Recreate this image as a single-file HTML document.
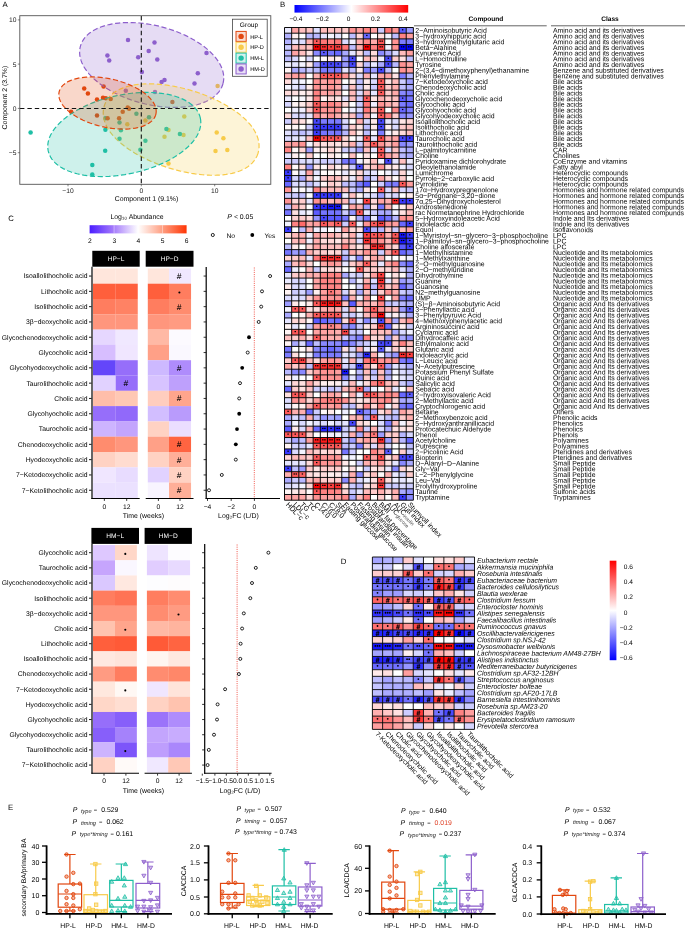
<!DOCTYPE html>
<html><head><meta charset="utf-8"><title>Figure</title><style>html,body{margin:0;padding:0;background:#fff}svg{display:block;will-change:transform}</style></head><body>
<svg width="685" height="928" viewBox="0 0 685 928" font-family="'Liberation Sans', sans-serif" text-rendering="geometricPrecision">
<rect width="685" height="928" fill="#fff"/>
<defs>
<linearGradient id="gB" x1="0" x2="1" y1="0" y2="0"><stop offset="0" stop-color="#0000ff"/><stop offset="0.5" stop-color="#ffffff"/><stop offset="1" stop-color="#ff0000"/></linearGradient>
<linearGradient id="gD" x1="0" x2="0" y1="0" y2="1"><stop offset="0" stop-color="#ff0000"/><stop offset="0.5" stop-color="#ffffff"/><stop offset="1" stop-color="#0000ff"/></linearGradient>
<linearGradient id="gC" x1="0" x2="1" y1="0" y2="0"><stop offset="0" stop-color="#4a1cff"/><stop offset="0.25" stop-color="#a67cfb"/><stop offset="0.5" stop-color="#ffffff"/><stop offset="0.75" stop-color="#ff9f82"/><stop offset="1" stop-color="#ff3505"/></linearGradient>
<clipPath id="clipA"><rect x="20" y="16" width="250.5" height="168"/></clipPath>
</defs>
<text x="2.6" y="6.5" font-size="7.8" text-anchor="start" fill="#000" >A</text>
<text x="280.1" y="6.7" font-size="7.8" text-anchor="start" fill="#000" >B</text>
<text x="8.3" y="221" font-size="7.8" text-anchor="start" fill="#000" >C</text>
<text x="340.8" y="563.8" font-size="7.8" text-anchor="start" fill="#000" >D</text>
<text x="8" y="810" font-size="7.8" text-anchor="start" fill="#000" >E</text>
<g id="pA">
<g clip-path="url(#clipA)">
<circle cx="128" cy="40" r="2.25" fill="#8D5FCC"/>
<circle cx="107.4" cy="55.5" r="2.25" fill="#8D5FCC"/>
<circle cx="109.2" cy="60.4" r="2.25" fill="#8D5FCC"/>
<circle cx="138.2" cy="57.3" r="2.25" fill="#8D5FCC"/>
<circle cx="141.9" cy="72.1" r="2.25" fill="#8D5FCC"/>
<circle cx="125.8" cy="90.7" r="2.25" fill="#8D5FCC"/>
<circle cx="154.5" cy="42.4" r="2.25" fill="#8D5FCC"/>
<circle cx="148.7" cy="51" r="2.25" fill="#8D5FCC"/>
<circle cx="157.3" cy="59.5" r="2.25" fill="#8D5FCC"/>
<circle cx="206.5" cy="53" r="2.25" fill="#8D5FCC"/>
<circle cx="197.8" cy="73.2" r="2.25" fill="#8D5FCC"/>
<circle cx="194.5" cy="83.6" r="2.25" fill="#8D5FCC"/>
<circle cx="164.5" cy="80.1" r="2.25" fill="#8D5FCC"/>
<circle cx="161.6" cy="81.9" r="2.25" fill="#8D5FCC"/>
<circle cx="155" cy="92" r="2.25" fill="#8D5FCC"/>
<circle cx="217.6" cy="85.9" r="2.25" fill="#F8CB4A"/>
<circle cx="216.7" cy="132.4" r="2.25" fill="#F8CB4A"/>
<circle cx="223.4" cy="138.2" r="2.25" fill="#F8CB4A"/>
<circle cx="215.5" cy="150.9" r="2.25" fill="#F8CB4A"/>
<circle cx="227.3" cy="149.9" r="2.25" fill="#F8CB4A"/>
<circle cx="184.3" cy="116.6" r="2.25" fill="#F8CB4A"/>
<circle cx="168.5" cy="130.1" r="2.25" fill="#F8CB4A"/>
<circle cx="164.5" cy="136.8" r="2.25" fill="#F8CB4A"/>
<circle cx="183.5" cy="134.9" r="2.25" fill="#F8CB4A"/>
<circle cx="168.5" cy="163.4" r="2.25" fill="#F8CB4A"/>
<circle cx="145.4" cy="120.6" r="2.25" fill="#F8CB4A"/>
<circle cx="127.3" cy="124.2" r="2.25" fill="#F8CB4A"/>
<circle cx="30.6" cy="132.6" r="2.25" fill="#1FBFA6"/>
<circle cx="105.4" cy="129.7" r="2.25" fill="#1FBFA6"/>
<circle cx="105.2" cy="150.7" r="2.25" fill="#1FBFA6"/>
<circle cx="92.3" cy="164.9" r="2.25" fill="#1FBFA6"/>
<circle cx="92.3" cy="174.6" r="2.25" fill="#1FBFA6"/>
<circle cx="119.5" cy="138.8" r="2.25" fill="#1FBFA6"/>
<circle cx="120.9" cy="130.2" r="2.25" fill="#1FBFA6"/>
<circle cx="119.5" cy="122.4" r="2.25" fill="#1FBFA6"/>
<circle cx="105.4" cy="118.2" r="2.25" fill="#1FBFA6"/>
<circle cx="136.4" cy="113.8" r="2.25" fill="#1FBFA6"/>
<circle cx="140.4" cy="149.7" r="2.25" fill="#1FBFA6"/>
<circle cx="145.4" cy="140.7" r="2.25" fill="#1FBFA6"/>
<circle cx="166.4" cy="129.1" r="2.25" fill="#1FBFA6"/>
<circle cx="179.9" cy="134.1" r="2.25" fill="#1FBFA6"/>
<circle cx="149" cy="117.2" r="2.25" fill="#1FBFA6"/>
<circle cx="84.2" cy="88.4" r="2.25" fill="#E2470F"/>
<circle cx="87.9" cy="93.5" r="2.25" fill="#E2470F"/>
<circle cx="103.6" cy="86.5" r="2.25" fill="#E2470F"/>
<circle cx="71.1" cy="111.8" r="2.25" fill="#E2470F"/>
<circle cx="97" cy="99.6" r="2.25" fill="#E2470F"/>
<circle cx="103" cy="97.7" r="2.25" fill="#E2470F"/>
<circle cx="105.8" cy="98.3" r="2.25" fill="#E2470F"/>
<circle cx="110.7" cy="99" r="2.25" fill="#E2470F"/>
<circle cx="97" cy="115.6" r="2.25" fill="#E2470F"/>
<circle cx="107.6" cy="118.2" r="2.25" fill="#E2470F"/>
<circle cx="119.1" cy="118.2" r="2.25" fill="#E2470F"/>
<circle cx="122.7" cy="111.8" r="2.25" fill="#E2470F"/>
<circle cx="127.7" cy="107.4" r="2.25" fill="#E2470F"/>
<circle cx="129.1" cy="108.7" r="2.25" fill="#E2470F"/>
<circle cx="172.4" cy="101.9" r="2.25" fill="#E2470F"/>
<path d="M223.04 83.45L222.37 85.59L221.47 87.67L220.37 89.67L219.06 91.57L217.57 93.37L215.89 95.06L214.05 96.65L212.04 98.13L209.88 99.5L207.57 100.76L205.12 101.92L202.54 102.96L199.84 103.9L197.01 104.73L194.07 105.44L191.03 106.05L187.88 106.55L184.65 106.94L181.33 107.22L177.94 107.39L174.48 107.45L170.96 107.39L167.39 107.23L163.79 106.96L160.15 106.59L156.49 106.1L152.81 105.51L149.14 104.82L145.47 104.03L141.82 103.14L138.19 102.14L134.59 101.06L131.04 99.88L127.54 98.62L124.11 97.27L120.74 95.83L117.46 94.32L114.26 92.73L111.16 91.07L108.16 89.34L105.27 87.55L102.51 85.7L99.87 83.79L97.36 81.83L94.99 79.82L92.77 77.77L90.7 75.67L88.79 73.54L87.04 71.38L85.45 69.18L84.05 66.96L82.82 64.71L81.78 62.44L80.94 60.16L80.3 57.86L79.86 55.57L79.64 53.27L79.64 50.99L79.87 48.74L80.32 46.53L80.99 44.39L81.89 42.31L82.99 40.31L84.3 38.41L85.79 36.61L87.47 34.92L89.31 33.33L91.32 31.85L93.48 30.48L95.79 29.22L98.24 28.06L100.82 27.02L103.52 26.08L106.35 25.25L109.29 24.54L112.33 23.93L115.48 23.43L118.71 23.04L122.03 22.76L125.42 22.59L128.88 22.53L132.4 22.59L135.97 22.75L139.57 23.02L143.21 23.39L146.87 23.88L150.55 24.47L154.22 25.16L157.89 25.95L161.54 26.84L165.17 27.84L168.77 28.92L172.32 30.1L175.82 31.36L179.25 32.71L182.62 34.15L185.9 35.66L189.1 37.25L192.2 38.91L195.2 40.64L198.09 42.43L200.85 44.28L203.49 46.19L206 48.15L208.37 50.16L210.59 52.21L212.66 54.31L214.57 56.44L216.32 58.6L217.91 60.8L219.31 63.02L220.54 65.27L221.58 67.54L222.42 69.82L223.06 72.12L223.5 74.41L223.72 76.71L223.72 78.99L223.49 81.24Z" fill="#8D5FCC" fill-opacity="0.22" stroke="#8D5FCC" stroke-width="1.2" stroke-dasharray="5.2 2.6"/>
<path d="M258.03 153.2L257 155.95L255.64 158.53L253.99 160.92L252.12 163.08L250.05 165.01L247.82 166.73L245.46 168.25L242.98 169.58L240.4 170.74L237.71 171.75L234.93 172.61L232.05 173.34L229.09 173.94L226.03 174.43L222.89 174.8L219.67 175.06L216.37 175.2L213 175.25L209.56 175.18L206.06 175.02L202.51 174.75L198.9 174.38L195.26 173.92L191.58 173.36L187.88 172.7L184.16 171.96L180.44 171.12L176.71 170.19L172.99 169.18L169.28 168.09L165.6 166.91L161.96 165.66L158.35 164.33L154.8 162.92L151.3 161.45L147.87 159.91L144.52 158.31L141.24 156.65L138.06 154.92L134.97 153.15L131.98 151.32L129.1 149.43L126.33 147.5L123.69 145.53L121.17 143.5L118.78 141.43L116.52 139.32L114.41 137.15L112.44 134.93L110.63 132.65L108.97 130.31L107.49 127.9L106.18 125.4L105.08 122.82L104.21 120.15L103.58 117.38L103.25 114.54L103.23 111.65L103.56 108.74L104.25 105.88L105.28 103.13L106.64 100.55L108.29 98.16L110.16 96L112.23 94.07L114.46 92.35L116.82 90.83L119.3 89.5L121.88 88.34L124.57 87.33L127.35 86.47L130.23 85.74L133.19 85.14L136.25 84.65L139.39 84.28L142.61 84.02L145.91 83.88L149.28 83.83L152.72 83.9L156.22 84.06L159.77 84.33L163.38 84.7L167.02 85.16L170.7 85.72L174.4 86.38L178.12 87.12L181.84 87.96L185.57 88.89L189.29 89.9L193 90.99L196.68 92.17L200.32 93.42L203.93 94.75L207.48 96.16L210.98 97.63L214.41 99.17L217.76 100.77L221.04 102.43L224.22 104.16L227.31 105.93L230.3 107.76L233.18 109.65L235.95 111.58L238.59 113.55L241.11 115.58L243.5 117.65L245.76 119.76L247.87 121.93L249.84 124.15L251.65 126.43L253.31 128.77L254.79 131.18L256.1 133.68L257.2 136.26L258.07 138.93L258.7 141.7L259.03 144.54L259.05 147.43L258.72 150.34Z" fill="#F8CB4A" fill-opacity="0.22" stroke="#F8CB4A" stroke-width="1.2" stroke-dasharray="5.2 2.6"/>
<path d="M200.34 118.04L200.69 120.23L200.81 122.45L200.71 124.69L200.37 126.95L199.81 129.22L199.04 131.47L198.06 133.72L196.88 135.95L195.5 138.17L193.93 140.36L192.17 142.52L190.23 144.66L188.12 146.75L185.85 148.81L183.41 150.83L180.81 152.8L178.07 154.71L175.19 156.58L172.17 158.38L169.03 160.12L165.77 161.79L162.4 163.39L158.93 164.91L155.37 166.36L151.73 167.72L148.02 168.99L144.24 170.17L140.41 171.27L136.54 172.26L132.64 173.16L128.72 173.95L124.78 174.65L120.84 175.23L116.91 175.72L113.01 176.09L109.13 176.36L105.29 176.51L101.5 176.56L97.77 176.49L94.11 176.32L90.53 176.03L87.04 175.64L83.65 175.13L80.36 174.52L77.18 173.79L74.13 172.97L71.2 172.03L68.42 170.99L65.77 169.85L63.28 168.61L60.94 167.26L58.77 165.81L56.77 164.27L54.95 162.63L53.31 160.89L51.87 159.06L50.63 157.14L49.61 155.14L48.8 153.07L48.22 150.94L47.87 148.75L47.75 146.53L47.85 144.29L48.19 142.03L48.75 139.76L49.52 137.51L50.5 135.26L51.68 133.03L53.06 130.81L54.63 128.62L56.39 126.46L58.33 124.32L60.44 122.23L62.71 120.17L65.15 118.15L67.75 116.18L70.49 114.27L73.37 112.4L76.39 110.6L79.53 108.86L82.79 107.19L86.16 105.59L89.63 104.07L93.19 102.62L96.83 101.26L100.54 99.99L104.32 98.81L108.15 97.71L112.02 96.72L115.92 95.82L119.84 95.03L123.78 94.33L127.72 93.75L131.65 93.26L135.55 92.89L139.43 92.62L143.27 92.47L147.06 92.42L150.79 92.49L154.45 92.66L158.03 92.95L161.52 93.34L164.91 93.85L168.2 94.46L171.38 95.19L174.43 96.01L177.36 96.95L180.14 97.99L182.79 99.13L185.28 100.37L187.62 101.72L189.79 103.17L191.79 104.71L193.61 106.35L195.25 108.09L196.69 109.92L197.93 111.84L198.95 113.84L199.76 115.91Z" fill="#1FBFA6" fill-opacity="0.22" stroke="#1FBFA6" stroke-width="1.2" stroke-dasharray="5.2 2.6"/>
<path d="M155.9 114.09L155.53 115.38L155.01 116.63L154.36 117.84L153.58 118.99L152.66 120.09L151.63 121.12L150.47 122.1L149.2 123.02L147.82 123.88L146.34 124.68L144.76 125.41L143.08 126.08L141.3 126.68L139.44 127.22L137.5 127.69L135.47 128.09L133.37 128.43L131.21 128.7L128.98 128.9L126.7 129.03L124.36 129.09L121.98 129.08L119.57 129.01L117.12 128.86L114.64 128.65L112.15 128.37L109.64 128.02L107.13 127.61L104.61 127.13L102.11 126.59L99.62 125.99L97.15 125.32L94.71 124.6L92.3 123.82L89.93 122.99L87.61 122.1L85.34 121.17L83.13 120.18L80.99 119.15L78.91 118.08L76.91 116.97L74.99 115.82L73.16 114.64L71.42 113.42L69.77 112.18L68.23 110.91L66.78 109.61L65.45 108.3L64.23 106.96L63.12 105.62L62.13 104.25L61.26 102.88L60.52 101.5L59.91 100.12L59.43 98.73L59.08 97.35L58.88 95.97L58.81 94.6L58.9 93.25L59.12 91.93L59.49 90.64L60.01 89.39L60.66 88.18L61.44 87.03L62.36 85.93L63.39 84.9L64.55 83.92L65.82 83L67.2 82.14L68.68 81.34L70.26 80.61L71.94 79.94L73.72 79.34L75.58 78.8L77.52 78.33L79.55 77.93L81.65 77.59L83.81 77.32L86.04 77.12L88.32 76.99L90.66 76.93L93.04 76.94L95.45 77.01L97.9 77.16L100.38 77.37L102.87 77.65L105.38 78L107.89 78.41L110.41 78.89L112.91 79.43L115.4 80.03L117.87 80.7L120.31 81.42L122.72 82.2L125.09 83.03L127.41 83.92L129.68 84.85L131.89 85.84L134.03 86.87L136.11 87.94L138.11 89.05L140.03 90.2L141.86 91.38L143.6 92.6L145.25 93.84L146.79 95.11L148.24 96.41L149.57 97.72L150.79 99.06L151.9 100.4L152.89 101.77L153.76 103.14L154.5 104.52L155.11 105.9L155.59 107.29L155.94 108.67L156.14 110.05L156.21 111.42L156.12 112.77Z" fill="#E2470F" fill-opacity="0.22" stroke="#E2470F" stroke-width="1.2" stroke-dasharray="5.2 2.6"/>
<line x1="141.3" y1="16" x2="141.3" y2="184" stroke="#111" stroke-width="1.1" stroke-dasharray="4.4 3"/>
<line x1="20" y1="108.5" x2="271" y2="108.5" stroke="#111" stroke-width="1.1" stroke-dasharray="4.4 3"/>
</g>
<rect x="19.8" y="15.7" width="251" height="168.6" fill="none" stroke="#555" stroke-width="0.9"/>
<line x1="68" y1="184.3" x2="68" y2="186.3" stroke="#333" stroke-width="0.6"/>
<text x="68" y="193.3" font-size="6.7" text-anchor="middle" fill="#222" >−10</text>
<line x1="141.3" y1="184.3" x2="141.3" y2="186.3" stroke="#333" stroke-width="0.6"/>
<text x="141.3" y="193.3" font-size="6.7" text-anchor="middle" fill="#222" >0</text>
<line x1="214.7" y1="184.3" x2="214.7" y2="186.3" stroke="#333" stroke-width="0.6"/>
<text x="214.7" y="193.3" font-size="6.7" text-anchor="middle" fill="#222" >10</text>
<line x1="17.8" y1="19.9" x2="19.8" y2="19.9" stroke="#333" stroke-width="0.6"/>
<text x="16.4" y="22.3" font-size="6.7" text-anchor="end" fill="#222" >10</text>
<line x1="17.8" y1="64.1" x2="19.8" y2="64.1" stroke="#333" stroke-width="0.6"/>
<text x="16.4" y="66.5" font-size="6.7" text-anchor="end" fill="#222" >5</text>
<line x1="17.8" y1="108.4" x2="19.8" y2="108.4" stroke="#333" stroke-width="0.6"/>
<text x="16.4" y="110.8" font-size="6.7" text-anchor="end" fill="#222" >0</text>
<line x1="17.8" y1="152.7" x2="19.8" y2="152.7" stroke="#333" stroke-width="0.6"/>
<text x="16.4" y="155.1" font-size="6.7" text-anchor="end" fill="#222" >−5</text>
<text x="146.5" y="201" font-size="6.9" text-anchor="middle" fill="#000" >Component 1 (9.1%)</text>
<text font-size="6.9" text-anchor="middle" transform="translate(7.0,97.6) rotate(-90)">Component 2 (3.7%)</text>
<rect x="232.5" y="19.2" width="34.7" height="57.1" fill="#fff" stroke="#444" stroke-width="0.8"/>
<text x="249" y="27" font-size="6.6" text-anchor="middle" fill="#000" >Group</text>
<rect x="236" y="31.4" width="10.2" height="10" fill="#E2470F" fill-opacity="0.2" stroke="#E2470F" stroke-width="1"/>
<circle cx="241.1" cy="36.4" r="2.7" fill="#E2470F"/>
<text x="250.2" y="38.6" font-size="5.6" text-anchor="start" fill="#000" >HP-L</text>
<rect x="236" y="42.25" width="10.2" height="10" fill="#F8CB4A" fill-opacity="0.2" stroke="#F8CB4A" stroke-width="1"/>
<circle cx="241.1" cy="47.25" r="2.7" fill="#F8CB4A"/>
<text x="250.2" y="49.45" font-size="5.6" text-anchor="start" fill="#000" >HP-D</text>
<rect x="236" y="53.1" width="10.2" height="10" fill="#1FBFA6" fill-opacity="0.2" stroke="#1FBFA6" stroke-width="1"/>
<circle cx="241.1" cy="58.1" r="2.7" fill="#1FBFA6"/>
<text x="250.2" y="60.3" font-size="5.6" text-anchor="start" fill="#000" >HM-L</text>
<rect x="236" y="63.95" width="10.2" height="10" fill="#8D5FCC" fill-opacity="0.2" stroke="#8D5FCC" stroke-width="1"/>
<circle cx="241.1" cy="68.95" r="2.7" fill="#8D5FCC"/>
<text x="250.2" y="71.15" font-size="5.6" text-anchor="start" fill="#000" >HM-D</text>
</g>
<g id="pB">
<rect x="294.5" y="5" width="113.7" height="7.6" fill="url(#gB)"/>
<text x="296" y="21" font-size="6.5" text-anchor="middle" fill="#000" >−0.4</text>
<text x="322.5" y="21" font-size="6.5" text-anchor="middle" fill="#000" >−0.2</text>
<text x="348.5" y="21" font-size="6.5" text-anchor="middle" fill="#000" >0</text>
<text x="375.5" y="21" font-size="6.5" text-anchor="middle" fill="#000" >0.2</text>
<text x="403" y="21" font-size="6.5" text-anchor="middle" fill="#000" >0.4</text>
<text x="486" y="21.3" font-size="6.6" text-anchor="middle" fill="#000" font-weight="bold">Compound</text>
<text x="610" y="21.3" font-size="6.6" text-anchor="middle" fill="#000" font-weight="bold">Class</text>
<line x1="414" y1="25.8" x2="546.7" y2="25.8" stroke="#222" stroke-width="0.7"/>
<line x1="551" y1="25.8" x2="685" y2="25.8" stroke="#222" stroke-width="0.7"/>
<rect x="284.5" y="27.5" width="7.16" height="5.7" fill="#eaeaff"/>
<rect x="291.66" y="27.5" width="7.16" height="5.7" fill="#ffa4a4"/>
<rect x="298.82" y="27.5" width="7.16" height="5.7" fill="#ffc0c0"/>
<rect x="305.98" y="27.5" width="7.16" height="5.7" fill="#ffc6c6"/>
<rect x="313.14" y="27.5" width="7.16" height="5.7" fill="#e0e0ff"/>
<rect x="320.3" y="27.5" width="7.16" height="5.7" fill="#ffbbbb"/>
<rect x="327.46" y="27.5" width="7.16" height="5.7" fill="#ffc0c0"/>
<rect x="334.62" y="27.5" width="7.16" height="5.7" fill="#ffc0c0"/>
<rect x="341.78" y="27.5" width="7.16" height="5.7" fill="#ffcccc"/>
<rect x="348.94" y="27.5" width="7.16" height="5.7" fill="#ff9393"/>
<rect x="356.1" y="27.5" width="7.16" height="5.7" fill="#ff9f9f"/>
<rect x="363.26" y="27.5" width="7.16" height="5.7" fill="#ff8282"/>
<rect x="370.42" y="27.5" width="7.16" height="5.7" fill="#ff9f9f"/>
<rect x="377.58" y="27.5" width="7.16" height="5.7" fill="#ccccff"/>
<rect x="384.74" y="27.5" width="7.16" height="5.7" fill="#ff7676"/>
<rect x="391.9" y="27.5" width="7.16" height="5.7" fill="#ff9393"/>
<rect x="399.06" y="27.5" width="7.16" height="5.7" fill="#5b5bff"/>
<rect x="406.22" y="27.5" width="7.16" height="5.7" fill="#9d9dff"/>
<rect x="284.5" y="33.2" width="7.16" height="5.7" fill="#b1b1ff"/>
<rect x="291.66" y="33.2" width="7.16" height="5.7" fill="#ffefef"/>
<rect x="298.82" y="33.2" width="7.16" height="5.7" fill="#ffffff"/>
<rect x="305.98" y="33.2" width="7.16" height="5.7" fill="#b8b8ff"/>
<rect x="313.14" y="33.2" width="7.16" height="5.7" fill="#b8b8ff"/>
<rect x="320.3" y="33.2" width="7.16" height="5.7" fill="#e5e5ff"/>
<rect x="327.46" y="33.2" width="7.16" height="5.7" fill="#f4f4ff"/>
<rect x="334.62" y="33.2" width="7.16" height="5.7" fill="#e5e5ff"/>
<rect x="341.78" y="33.2" width="7.16" height="5.7" fill="#ffffff"/>
<rect x="348.94" y="33.2" width="7.16" height="5.7" fill="#bebeff"/>
<rect x="356.1" y="33.2" width="7.16" height="5.7" fill="#ffd6d6"/>
<rect x="363.26" y="33.2" width="7.16" height="5.7" fill="#6868ff"/>
<rect x="370.42" y="33.2" width="7.16" height="5.7" fill="#ffffff"/>
<rect x="377.58" y="33.2" width="7.16" height="5.7" fill="#ffe0e0"/>
<rect x="384.74" y="33.2" width="7.16" height="5.7" fill="#f4f4ff"/>
<rect x="391.9" y="33.2" width="7.16" height="5.7" fill="#bebeff"/>
<rect x="399.06" y="33.2" width="7.16" height="5.7" fill="#ff8282"/>
<rect x="406.22" y="33.2" width="7.16" height="5.7" fill="#ff9f9f"/>
<rect x="284.5" y="38.89" width="7.16" height="5.7" fill="#b1b1ff"/>
<rect x="291.66" y="38.89" width="7.16" height="5.7" fill="#e5e5ff"/>
<rect x="298.82" y="38.89" width="7.16" height="5.7" fill="#dbdbff"/>
<rect x="305.98" y="38.89" width="7.16" height="5.7" fill="#ffafaf"/>
<rect x="313.14" y="38.89" width="7.16" height="5.7" fill="#ff5959"/>
<rect x="320.3" y="38.89" width="7.16" height="5.7" fill="#ff7676"/>
<rect x="327.46" y="38.89" width="7.16" height="5.7" fill="#ff8282"/>
<rect x="334.62" y="38.89" width="7.16" height="5.7" fill="#ff7676"/>
<rect x="341.78" y="38.89" width="7.16" height="5.7" fill="#dbdbff"/>
<rect x="348.94" y="38.89" width="7.16" height="5.7" fill="#efefff"/>
<rect x="356.1" y="38.89" width="7.16" height="5.7" fill="#ffafaf"/>
<rect x="363.26" y="38.89" width="7.16" height="5.7" fill="#ff8888"/>
<rect x="370.42" y="38.89" width="7.16" height="5.7" fill="#ffaaaa"/>
<rect x="377.58" y="38.89" width="7.16" height="5.7" fill="#ff5959"/>
<rect x="384.74" y="38.89" width="7.16" height="5.7" fill="#ffffff"/>
<rect x="391.9" y="38.89" width="7.16" height="5.7" fill="#ff9393"/>
<rect x="399.06" y="38.89" width="7.16" height="5.7" fill="#7c7cff"/>
<rect x="406.22" y="38.89" width="7.16" height="5.7" fill="#7c7cff"/>
<rect x="284.5" y="44.59" width="7.16" height="5.7" fill="#ccccff"/>
<rect x="291.66" y="44.59" width="7.16" height="5.7" fill="#ffbbbb"/>
<rect x="298.82" y="44.59" width="7.16" height="5.7" fill="#ffbbbb"/>
<rect x="305.98" y="44.59" width="7.16" height="5.7" fill="#ffc0c0"/>
<rect x="313.14" y="44.59" width="7.16" height="5.7" fill="#ff0000"/>
<rect x="320.3" y="44.59" width="7.16" height="5.7" fill="#ff2c2c"/>
<rect x="327.46" y="44.59" width="7.16" height="5.7" fill="#ff3e3e"/>
<rect x="334.62" y="44.59" width="7.16" height="5.7" fill="#ff3e3e"/>
<rect x="341.78" y="44.59" width="7.16" height="5.7" fill="#ff7676"/>
<rect x="348.94" y="44.59" width="7.16" height="5.7" fill="#bebeff"/>
<rect x="356.1" y="44.59" width="7.16" height="5.7" fill="#ffafaf"/>
<rect x="363.26" y="44.59" width="7.16" height="5.7" fill="#ff0000"/>
<rect x="370.42" y="44.59" width="7.16" height="5.7" fill="#ff8282"/>
<rect x="377.58" y="44.59" width="7.16" height="5.7" fill="#ff3e3e"/>
<rect x="384.74" y="44.59" width="7.16" height="5.7" fill="#f4f4ff"/>
<rect x="391.9" y="44.59" width="7.16" height="5.7" fill="#ff9393"/>
<rect x="399.06" y="44.59" width="7.16" height="5.7" fill="#0000ff"/>
<rect x="406.22" y="44.59" width="7.16" height="5.7" fill="#0000ff"/>
<rect x="284.5" y="50.28" width="7.16" height="5.7" fill="#b8b8ff"/>
<rect x="291.66" y="50.28" width="7.16" height="5.7" fill="#ffa4a4"/>
<rect x="298.82" y="50.28" width="7.16" height="5.7" fill="#ffc0c0"/>
<rect x="305.98" y="50.28" width="7.16" height="5.7" fill="#ffe5e5"/>
<rect x="313.14" y="50.28" width="7.16" height="5.7" fill="#8989ff"/>
<rect x="320.3" y="50.28" width="7.16" height="5.7" fill="#5b5bff"/>
<rect x="327.46" y="50.28" width="7.16" height="5.7" fill="#7575ff"/>
<rect x="334.62" y="50.28" width="7.16" height="5.7" fill="#6868ff"/>
<rect x="341.78" y="50.28" width="7.16" height="5.7" fill="#aaaaff"/>
<rect x="348.94" y="50.28" width="7.16" height="5.7" fill="#e5e5ff"/>
<rect x="356.1" y="50.28" width="7.16" height="5.7" fill="#ffdbdb"/>
<rect x="363.26" y="50.28" width="7.16" height="5.7" fill="#bebeff"/>
<rect x="370.42" y="50.28" width="7.16" height="5.7" fill="#ffdbdb"/>
<rect x="377.58" y="50.28" width="7.16" height="5.7" fill="#8989ff"/>
<rect x="384.74" y="50.28" width="7.16" height="5.7" fill="#aaaaff"/>
<rect x="391.9" y="50.28" width="7.16" height="5.7" fill="#dbdbff"/>
<rect x="399.06" y="50.28" width="7.16" height="5.7" fill="#ffbbbb"/>
<rect x="406.22" y="50.28" width="7.16" height="5.7" fill="#ff9f9f"/>
<rect x="284.5" y="55.98" width="7.16" height="5.7" fill="#bebeff"/>
<rect x="291.66" y="55.98" width="7.16" height="5.7" fill="#dbdbff"/>
<rect x="298.82" y="55.98" width="7.16" height="5.7" fill="#ffffff"/>
<rect x="305.98" y="55.98" width="7.16" height="5.7" fill="#dbdbff"/>
<rect x="313.14" y="55.98" width="7.16" height="5.7" fill="#ffffff"/>
<rect x="320.3" y="55.98" width="7.16" height="5.7" fill="#fff9f9"/>
<rect x="327.46" y="55.98" width="7.16" height="5.7" fill="#ffe5e5"/>
<rect x="334.62" y="55.98" width="7.16" height="5.7" fill="#ffefef"/>
<rect x="341.78" y="55.98" width="7.16" height="5.7" fill="#9d9dff"/>
<rect x="348.94" y="55.98" width="7.16" height="5.7" fill="#4747ff"/>
<rect x="356.1" y="55.98" width="7.16" height="5.7" fill="#ffffff"/>
<rect x="363.26" y="55.98" width="7.16" height="5.7" fill="#ffbbbb"/>
<rect x="370.42" y="55.98" width="7.16" height="5.7" fill="#ffcccc"/>
<rect x="377.58" y="55.98" width="7.16" height="5.7" fill="#efefff"/>
<rect x="384.74" y="55.98" width="7.16" height="5.7" fill="#4747ff"/>
<rect x="391.9" y="55.98" width="7.16" height="5.7" fill="#ffcccc"/>
<rect x="399.06" y="55.98" width="7.16" height="5.7" fill="#ffe0e0"/>
<rect x="406.22" y="55.98" width="7.16" height="5.7" fill="#bebeff"/>
<rect x="284.5" y="61.67" width="7.16" height="5.7" fill="#efefff"/>
<rect x="291.66" y="61.67" width="7.16" height="5.7" fill="#e5e5ff"/>
<rect x="298.82" y="61.67" width="7.16" height="5.7" fill="#f4f4ff"/>
<rect x="305.98" y="61.67" width="7.16" height="5.7" fill="#ffeaea"/>
<rect x="313.14" y="61.67" width="7.16" height="5.7" fill="#9d9dff"/>
<rect x="320.3" y="61.67" width="7.16" height="5.7" fill="#4747ff"/>
<rect x="327.46" y="61.67" width="7.16" height="5.7" fill="#4747ff"/>
<rect x="334.62" y="61.67" width="7.16" height="5.7" fill="#4747ff"/>
<rect x="341.78" y="61.67" width="7.16" height="5.7" fill="#9696ff"/>
<rect x="348.94" y="61.67" width="7.16" height="5.7" fill="#4747ff"/>
<rect x="356.1" y="61.67" width="7.16" height="5.7" fill="#ffd6d6"/>
<rect x="363.26" y="61.67" width="7.16" height="5.7" fill="#bebeff"/>
<rect x="370.42" y="61.67" width="7.16" height="5.7" fill="#eaeaff"/>
<rect x="377.58" y="61.67" width="7.16" height="5.7" fill="#aaaaff"/>
<rect x="384.74" y="61.67" width="7.16" height="5.7" fill="#4747ff"/>
<rect x="391.9" y="61.67" width="7.16" height="5.7" fill="#b8b8ff"/>
<rect x="399.06" y="61.67" width="7.16" height="5.7" fill="#ff9393"/>
<rect x="406.22" y="61.67" width="7.16" height="5.7" fill="#ffa4a4"/>
<rect x="284.5" y="67.37" width="7.16" height="5.7" fill="#fff4f4"/>
<rect x="291.66" y="67.37" width="7.16" height="5.7" fill="#aaaaff"/>
<rect x="298.82" y="67.37" width="7.16" height="5.7" fill="#b8b8ff"/>
<rect x="305.98" y="67.37" width="7.16" height="5.7" fill="#ccccff"/>
<rect x="313.14" y="67.37" width="7.16" height="5.7" fill="#b8b8ff"/>
<rect x="320.3" y="67.37" width="7.16" height="5.7" fill="#7c7cff"/>
<rect x="327.46" y="67.37" width="7.16" height="5.7" fill="#7c7cff"/>
<rect x="334.62" y="67.37" width="7.16" height="5.7" fill="#7c7cff"/>
<rect x="341.78" y="67.37" width="7.16" height="5.7" fill="#e5e5ff"/>
<rect x="348.94" y="67.37" width="7.16" height="5.7" fill="#bebeff"/>
<rect x="356.1" y="67.37" width="7.16" height="5.7" fill="#ffeaea"/>
<rect x="363.26" y="67.37" width="7.16" height="5.7" fill="#7c7cff"/>
<rect x="370.42" y="67.37" width="7.16" height="5.7" fill="#9d9dff"/>
<rect x="377.58" y="67.37" width="7.16" height="5.7" fill="#4747ff"/>
<rect x="384.74" y="67.37" width="7.16" height="5.7" fill="#bebeff"/>
<rect x="391.9" y="67.37" width="7.16" height="5.7" fill="#ffffff"/>
<rect x="399.06" y="67.37" width="7.16" height="5.7" fill="#ff9393"/>
<rect x="406.22" y="67.37" width="7.16" height="5.7" fill="#ff9f9f"/>
<rect x="284.5" y="73.06" width="7.16" height="5.7" fill="#ffafaf"/>
<rect x="291.66" y="73.06" width="7.16" height="5.7" fill="#ff9f9f"/>
<rect x="298.82" y="73.06" width="7.16" height="5.7" fill="#ffa4a4"/>
<rect x="305.98" y="73.06" width="7.16" height="5.7" fill="#ffffff"/>
<rect x="313.14" y="73.06" width="7.16" height="5.7" fill="#ffafaf"/>
<rect x="320.3" y="73.06" width="7.16" height="5.7" fill="#ff5959"/>
<rect x="327.46" y="73.06" width="7.16" height="5.7" fill="#ff5959"/>
<rect x="334.62" y="73.06" width="7.16" height="5.7" fill="#ff5959"/>
<rect x="341.78" y="73.06" width="7.16" height="5.7" fill="#ff9393"/>
<rect x="348.94" y="73.06" width="7.16" height="5.7" fill="#ffd6d6"/>
<rect x="356.1" y="73.06" width="7.16" height="5.7" fill="#dbdbff"/>
<rect x="363.26" y="73.06" width="7.16" height="5.7" fill="#ffafaf"/>
<rect x="370.42" y="73.06" width="7.16" height="5.7" fill="#e5e5ff"/>
<rect x="377.58" y="73.06" width="7.16" height="5.7" fill="#ffa4a4"/>
<rect x="384.74" y="73.06" width="7.16" height="5.7" fill="#ffa4a4"/>
<rect x="391.9" y="73.06" width="7.16" height="5.7" fill="#ffe5e5"/>
<rect x="399.06" y="73.06" width="7.16" height="5.7" fill="#7c7cff"/>
<rect x="406.22" y="73.06" width="7.16" height="5.7" fill="#b1b1ff"/>
<rect x="284.5" y="78.75" width="7.16" height="5.7" fill="#ffdbdb"/>
<rect x="291.66" y="78.75" width="7.16" height="5.7" fill="#eaeaff"/>
<rect x="298.82" y="78.75" width="7.16" height="5.7" fill="#f4f4ff"/>
<rect x="305.98" y="78.75" width="7.16" height="5.7" fill="#ffffff"/>
<rect x="313.14" y="78.75" width="7.16" height="5.7" fill="#ff9393"/>
<rect x="320.3" y="78.75" width="7.16" height="5.7" fill="#ffa4a4"/>
<rect x="327.46" y="78.75" width="7.16" height="5.7" fill="#ff9393"/>
<rect x="334.62" y="78.75" width="7.16" height="5.7" fill="#ff9f9f"/>
<rect x="341.78" y="78.75" width="7.16" height="5.7" fill="#ffffff"/>
<rect x="348.94" y="78.75" width="7.16" height="5.7" fill="#ffeaea"/>
<rect x="356.1" y="78.75" width="7.16" height="5.7" fill="#bebeff"/>
<rect x="363.26" y="78.75" width="7.16" height="5.7" fill="#ffeaea"/>
<rect x="370.42" y="78.75" width="7.16" height="5.7" fill="#dbdbff"/>
<rect x="377.58" y="78.75" width="7.16" height="5.7" fill="#ff5959"/>
<rect x="384.74" y="78.75" width="7.16" height="5.7" fill="#ffe5e5"/>
<rect x="391.9" y="78.75" width="7.16" height="5.7" fill="#ffbbbb"/>
<rect x="399.06" y="78.75" width="7.16" height="5.7" fill="#ccccff"/>
<rect x="406.22" y="78.75" width="7.16" height="5.7" fill="#9d9dff"/>
<rect x="284.5" y="84.45" width="7.16" height="5.7" fill="#f4f4ff"/>
<rect x="291.66" y="84.45" width="7.16" height="5.7" fill="#e5e5ff"/>
<rect x="298.82" y="84.45" width="7.16" height="5.7" fill="#d6d6ff"/>
<rect x="305.98" y="84.45" width="7.16" height="5.7" fill="#ffeaea"/>
<rect x="313.14" y="84.45" width="7.16" height="5.7" fill="#ff9393"/>
<rect x="320.3" y="84.45" width="7.16" height="5.7" fill="#ffaaaa"/>
<rect x="327.46" y="84.45" width="7.16" height="5.7" fill="#ff9393"/>
<rect x="334.62" y="84.45" width="7.16" height="5.7" fill="#ffaaaa"/>
<rect x="341.78" y="84.45" width="7.16" height="5.7" fill="#e5e5ff"/>
<rect x="348.94" y="84.45" width="7.16" height="5.7" fill="#ffc0c0"/>
<rect x="356.1" y="84.45" width="7.16" height="5.7" fill="#ccccff"/>
<rect x="363.26" y="84.45" width="7.16" height="5.7" fill="#ffe5e5"/>
<rect x="370.42" y="84.45" width="7.16" height="5.7" fill="#ccccff"/>
<rect x="377.58" y="84.45" width="7.16" height="5.7" fill="#ff5959"/>
<rect x="384.74" y="84.45" width="7.16" height="5.7" fill="#ffcccc"/>
<rect x="391.9" y="84.45" width="7.16" height="5.7" fill="#ffafaf"/>
<rect x="399.06" y="84.45" width="7.16" height="5.7" fill="#bebeff"/>
<rect x="406.22" y="84.45" width="7.16" height="5.7" fill="#aaaaff"/>
<rect x="284.5" y="90.15" width="7.16" height="5.7" fill="#ffdbdb"/>
<rect x="291.66" y="90.15" width="7.16" height="5.7" fill="#ffe0e0"/>
<rect x="298.82" y="90.15" width="7.16" height="5.7" fill="#ffefef"/>
<rect x="305.98" y="90.15" width="7.16" height="5.7" fill="#ffe5e5"/>
<rect x="313.14" y="90.15" width="7.16" height="5.7" fill="#ff8282"/>
<rect x="320.3" y="90.15" width="7.16" height="5.7" fill="#ffa4a4"/>
<rect x="327.46" y="90.15" width="7.16" height="5.7" fill="#ff9f9f"/>
<rect x="334.62" y="90.15" width="7.16" height="5.7" fill="#ffafaf"/>
<rect x="341.78" y="90.15" width="7.16" height="5.7" fill="#ffffff"/>
<rect x="348.94" y="90.15" width="7.16" height="5.7" fill="#ffbbbb"/>
<rect x="356.1" y="90.15" width="7.16" height="5.7" fill="#dbdbff"/>
<rect x="363.26" y="90.15" width="7.16" height="5.7" fill="#ffafaf"/>
<rect x="370.42" y="90.15" width="7.16" height="5.7" fill="#e5e5ff"/>
<rect x="377.58" y="90.15" width="7.16" height="5.7" fill="#ff5959"/>
<rect x="384.74" y="90.15" width="7.16" height="5.7" fill="#ffcccc"/>
<rect x="391.9" y="90.15" width="7.16" height="5.7" fill="#ffaaaa"/>
<rect x="399.06" y="90.15" width="7.16" height="5.7" fill="#8989ff"/>
<rect x="406.22" y="90.15" width="7.16" height="5.7" fill="#7c7cff"/>
<rect x="284.5" y="95.84" width="7.16" height="5.7" fill="#eaeaff"/>
<rect x="291.66" y="95.84" width="7.16" height="5.7" fill="#ffffff"/>
<rect x="298.82" y="95.84" width="7.16" height="5.7" fill="#f9f9ff"/>
<rect x="305.98" y="95.84" width="7.16" height="5.7" fill="#ffeaea"/>
<rect x="313.14" y="95.84" width="7.16" height="5.7" fill="#ff8888"/>
<rect x="320.3" y="95.84" width="7.16" height="5.7" fill="#fff4f4"/>
<rect x="327.46" y="95.84" width="7.16" height="5.7" fill="#ffd6d6"/>
<rect x="334.62" y="95.84" width="7.16" height="5.7" fill="#ffe5e5"/>
<rect x="341.78" y="95.84" width="7.16" height="5.7" fill="#e5e5ff"/>
<rect x="348.94" y="95.84" width="7.16" height="5.7" fill="#ffc0c0"/>
<rect x="356.1" y="95.84" width="7.16" height="5.7" fill="#ccccff"/>
<rect x="363.26" y="95.84" width="7.16" height="5.7" fill="#ff5959"/>
<rect x="370.42" y="95.84" width="7.16" height="5.7" fill="#ffe5e5"/>
<rect x="377.58" y="95.84" width="7.16" height="5.7" fill="#ffafaf"/>
<rect x="384.74" y="95.84" width="7.16" height="5.7" fill="#ffcccc"/>
<rect x="391.9" y="95.84" width="7.16" height="5.7" fill="#ffc0c0"/>
<rect x="399.06" y="95.84" width="7.16" height="5.7" fill="#5b5bff"/>
<rect x="406.22" y="95.84" width="7.16" height="5.7" fill="#7575ff"/>
<rect x="284.5" y="101.53" width="7.16" height="5.7" fill="#d6d6ff"/>
<rect x="291.66" y="101.53" width="7.16" height="5.7" fill="#fff4f4"/>
<rect x="298.82" y="101.53" width="7.16" height="5.7" fill="#ffeaea"/>
<rect x="305.98" y="101.53" width="7.16" height="5.7" fill="#ffcccc"/>
<rect x="313.14" y="101.53" width="7.16" height="5.7" fill="#ff5959"/>
<rect x="320.3" y="101.53" width="7.16" height="5.7" fill="#ff9393"/>
<rect x="327.46" y="101.53" width="7.16" height="5.7" fill="#ff8282"/>
<rect x="334.62" y="101.53" width="7.16" height="5.7" fill="#ff9393"/>
<rect x="341.78" y="101.53" width="7.16" height="5.7" fill="#ffd6d6"/>
<rect x="348.94" y="101.53" width="7.16" height="5.7" fill="#ffffff"/>
<rect x="356.1" y="101.53" width="7.16" height="5.7" fill="#ccccff"/>
<rect x="363.26" y="101.53" width="7.16" height="5.7" fill="#ff7676"/>
<rect x="370.42" y="101.53" width="7.16" height="5.7" fill="#efefff"/>
<rect x="377.58" y="101.53" width="7.16" height="5.7" fill="#ff9393"/>
<rect x="384.74" y="101.53" width="7.16" height="5.7" fill="#ffafaf"/>
<rect x="391.9" y="101.53" width="7.16" height="5.7" fill="#ffc0c0"/>
<rect x="399.06" y="101.53" width="7.16" height="5.7" fill="#7c7cff"/>
<rect x="406.22" y="101.53" width="7.16" height="5.7" fill="#6868ff"/>
<rect x="284.5" y="107.23" width="7.16" height="5.7" fill="#ffffff"/>
<rect x="291.66" y="107.23" width="7.16" height="5.7" fill="#efefff"/>
<rect x="298.82" y="107.23" width="7.16" height="5.7" fill="#efefff"/>
<rect x="305.98" y="107.23" width="7.16" height="5.7" fill="#ffcccc"/>
<rect x="313.14" y="107.23" width="7.16" height="5.7" fill="#ff5959"/>
<rect x="320.3" y="107.23" width="7.16" height="5.7" fill="#ff9393"/>
<rect x="327.46" y="107.23" width="7.16" height="5.7" fill="#ff9393"/>
<rect x="334.62" y="107.23" width="7.16" height="5.7" fill="#ff9393"/>
<rect x="341.78" y="107.23" width="7.16" height="5.7" fill="#ffffff"/>
<rect x="348.94" y="107.23" width="7.16" height="5.7" fill="#efefff"/>
<rect x="356.1" y="107.23" width="7.16" height="5.7" fill="#d6d6ff"/>
<rect x="363.26" y="107.23" width="7.16" height="5.7" fill="#ff7676"/>
<rect x="370.42" y="107.23" width="7.16" height="5.7" fill="#ffcccc"/>
<rect x="377.58" y="107.23" width="7.16" height="5.7" fill="#ff5959"/>
<rect x="384.74" y="107.23" width="7.16" height="5.7" fill="#ffffff"/>
<rect x="391.9" y="107.23" width="7.16" height="5.7" fill="#ff8888"/>
<rect x="399.06" y="107.23" width="7.16" height="5.7" fill="#6868ff"/>
<rect x="406.22" y="107.23" width="7.16" height="5.7" fill="#7c7cff"/>
<rect x="284.5" y="112.93" width="7.16" height="5.7" fill="#ffdbdb"/>
<rect x="291.66" y="112.93" width="7.16" height="5.7" fill="#dbdbff"/>
<rect x="298.82" y="112.93" width="7.16" height="5.7" fill="#d6d6ff"/>
<rect x="305.98" y="112.93" width="7.16" height="5.7" fill="#e5e5ff"/>
<rect x="313.14" y="112.93" width="7.16" height="5.7" fill="#ff9393"/>
<rect x="320.3" y="112.93" width="7.16" height="5.7" fill="#ffafaf"/>
<rect x="327.46" y="112.93" width="7.16" height="5.7" fill="#ff9393"/>
<rect x="334.62" y="112.93" width="7.16" height="5.7" fill="#ffafaf"/>
<rect x="341.78" y="112.93" width="7.16" height="5.7" fill="#ffdbdb"/>
<rect x="348.94" y="112.93" width="7.16" height="5.7" fill="#ffc0c0"/>
<rect x="356.1" y="112.93" width="7.16" height="5.7" fill="#aaaaff"/>
<rect x="363.26" y="112.93" width="7.16" height="5.7" fill="#ffa4a4"/>
<rect x="370.42" y="112.93" width="7.16" height="5.7" fill="#f4f4ff"/>
<rect x="377.58" y="112.93" width="7.16" height="5.7" fill="#ff5959"/>
<rect x="384.74" y="112.93" width="7.16" height="5.7" fill="#ff8282"/>
<rect x="391.9" y="112.93" width="7.16" height="5.7" fill="#ffcccc"/>
<rect x="399.06" y="112.93" width="7.16" height="5.7" fill="#8989ff"/>
<rect x="406.22" y="112.93" width="7.16" height="5.7" fill="#9696ff"/>
<rect x="284.5" y="118.62" width="7.16" height="5.7" fill="#ccccff"/>
<rect x="291.66" y="118.62" width="7.16" height="5.7" fill="#ffd6d6"/>
<rect x="298.82" y="118.62" width="7.16" height="5.7" fill="#ffe0e0"/>
<rect x="305.98" y="118.62" width="7.16" height="5.7" fill="#fff9f9"/>
<rect x="313.14" y="118.62" width="7.16" height="5.7" fill="#4747ff"/>
<rect x="320.3" y="118.62" width="7.16" height="5.7" fill="#7c7cff"/>
<rect x="327.46" y="118.62" width="7.16" height="5.7" fill="#7c7cff"/>
<rect x="334.62" y="118.62" width="7.16" height="5.7" fill="#7c7cff"/>
<rect x="341.78" y="118.62" width="7.16" height="5.7" fill="#dbdbff"/>
<rect x="348.94" y="118.62" width="7.16" height="5.7" fill="#ffffff"/>
<rect x="356.1" y="118.62" width="7.16" height="5.7" fill="#ffafaf"/>
<rect x="363.26" y="118.62" width="7.16" height="5.7" fill="#d6d6ff"/>
<rect x="370.42" y="118.62" width="7.16" height="5.7" fill="#ffeaea"/>
<rect x="377.58" y="118.62" width="7.16" height="5.7" fill="#4747ff"/>
<rect x="384.74" y="118.62" width="7.16" height="5.7" fill="#e5e5ff"/>
<rect x="391.9" y="118.62" width="7.16" height="5.7" fill="#dbdbff"/>
<rect x="399.06" y="118.62" width="7.16" height="5.7" fill="#ffe5e5"/>
<rect x="406.22" y="118.62" width="7.16" height="5.7" fill="#ffd6d6"/>
<rect x="284.5" y="124.31" width="7.16" height="5.7" fill="#fff9f9"/>
<rect x="291.66" y="124.31" width="7.16" height="5.7" fill="#fff4f4"/>
<rect x="298.82" y="124.31" width="7.16" height="5.7" fill="#ffffff"/>
<rect x="305.98" y="124.31" width="7.16" height="5.7" fill="#ccccff"/>
<rect x="313.14" y="124.31" width="7.16" height="5.7" fill="#3939ff"/>
<rect x="320.3" y="124.31" width="7.16" height="5.7" fill="#3939ff"/>
<rect x="327.46" y="124.31" width="7.16" height="5.7" fill="#3939ff"/>
<rect x="334.62" y="124.31" width="7.16" height="5.7" fill="#3939ff"/>
<rect x="341.78" y="124.31" width="7.16" height="5.7" fill="#ccccff"/>
<rect x="348.94" y="124.31" width="7.16" height="5.7" fill="#ffcccc"/>
<rect x="356.1" y="124.31" width="7.16" height="5.7" fill="#ffe5e5"/>
<rect x="363.26" y="124.31" width="7.16" height="5.7" fill="#bebeff"/>
<rect x="370.42" y="124.31" width="7.16" height="5.7" fill="#ffeaea"/>
<rect x="377.58" y="124.31" width="7.16" height="5.7" fill="#4747ff"/>
<rect x="384.74" y="124.31" width="7.16" height="5.7" fill="#ffefef"/>
<rect x="391.9" y="124.31" width="7.16" height="5.7" fill="#dbdbff"/>
<rect x="399.06" y="124.31" width="7.16" height="5.7" fill="#ffcccc"/>
<rect x="406.22" y="124.31" width="7.16" height="5.7" fill="#ffc0c0"/>
<rect x="284.5" y="130.01" width="7.16" height="5.7" fill="#e0e0ff"/>
<rect x="291.66" y="130.01" width="7.16" height="5.7" fill="#ccccff"/>
<rect x="298.82" y="130.01" width="7.16" height="5.7" fill="#bebeff"/>
<rect x="305.98" y="130.01" width="7.16" height="5.7" fill="#ccccff"/>
<rect x="313.14" y="130.01" width="7.16" height="5.7" fill="#3939ff"/>
<rect x="320.3" y="130.01" width="7.16" height="5.7" fill="#7575ff"/>
<rect x="327.46" y="130.01" width="7.16" height="5.7" fill="#7c7cff"/>
<rect x="334.62" y="130.01" width="7.16" height="5.7" fill="#7575ff"/>
<rect x="341.78" y="130.01" width="7.16" height="5.7" fill="#b8b8ff"/>
<rect x="348.94" y="130.01" width="7.16" height="5.7" fill="#ffc0c0"/>
<rect x="356.1" y="130.01" width="7.16" height="5.7" fill="#ffefef"/>
<rect x="363.26" y="130.01" width="7.16" height="5.7" fill="#bebeff"/>
<rect x="370.42" y="130.01" width="7.16" height="5.7" fill="#f4f4ff"/>
<rect x="377.58" y="130.01" width="7.16" height="5.7" fill="#7c7cff"/>
<rect x="384.74" y="130.01" width="7.16" height="5.7" fill="#f4f4ff"/>
<rect x="391.9" y="130.01" width="7.16" height="5.7" fill="#ffeaea"/>
<rect x="399.06" y="130.01" width="7.16" height="5.7" fill="#ffdbdb"/>
<rect x="406.22" y="130.01" width="7.16" height="5.7" fill="#ffc0c0"/>
<rect x="284.5" y="135.71" width="7.16" height="5.7" fill="#dbdbff"/>
<rect x="291.66" y="135.71" width="7.16" height="5.7" fill="#e5e5ff"/>
<rect x="298.82" y="135.71" width="7.16" height="5.7" fill="#eaeaff"/>
<rect x="305.98" y="135.71" width="7.16" height="5.7" fill="#ffc0c0"/>
<rect x="313.14" y="135.71" width="7.16" height="5.7" fill="#ff0000"/>
<rect x="320.3" y="135.71" width="7.16" height="5.7" fill="#ff5959"/>
<rect x="327.46" y="135.71" width="7.16" height="5.7" fill="#ff5959"/>
<rect x="334.62" y="135.71" width="7.16" height="5.7" fill="#ff5959"/>
<rect x="341.78" y="135.71" width="7.16" height="5.7" fill="#ffd6d6"/>
<rect x="348.94" y="135.71" width="7.16" height="5.7" fill="#ffffff"/>
<rect x="356.1" y="135.71" width="7.16" height="5.7" fill="#efefff"/>
<rect x="363.26" y="135.71" width="7.16" height="5.7" fill="#ff5959"/>
<rect x="370.42" y="135.71" width="7.16" height="5.7" fill="#e5e5ff"/>
<rect x="377.58" y="135.71" width="7.16" height="5.7" fill="#ff4747"/>
<rect x="384.74" y="135.71" width="7.16" height="5.7" fill="#ffafaf"/>
<rect x="391.9" y="135.71" width="7.16" height="5.7" fill="#ffa4a4"/>
<rect x="399.06" y="135.71" width="7.16" height="5.7" fill="#4747ff"/>
<rect x="406.22" y="135.71" width="7.16" height="5.7" fill="#3939ff"/>
<rect x="284.5" y="141.4" width="7.16" height="5.7" fill="#ff9f9f"/>
<rect x="291.66" y="141.4" width="7.16" height="5.7" fill="#ff9f9f"/>
<rect x="298.82" y="141.4" width="7.16" height="5.7" fill="#ff9393"/>
<rect x="305.98" y="141.4" width="7.16" height="5.7" fill="#f4f4ff"/>
<rect x="313.14" y="141.4" width="7.16" height="5.7" fill="#ffd6d6"/>
<rect x="320.3" y="141.4" width="7.16" height="5.7" fill="#ffe0e0"/>
<rect x="327.46" y="141.4" width="7.16" height="5.7" fill="#ffdbdb"/>
<rect x="334.62" y="141.4" width="7.16" height="5.7" fill="#ffe5e5"/>
<rect x="341.78" y="141.4" width="7.16" height="5.7" fill="#ffdbdb"/>
<rect x="348.94" y="141.4" width="7.16" height="5.7" fill="#ffafaf"/>
<rect x="356.1" y="141.4" width="7.16" height="5.7" fill="#ccccff"/>
<rect x="363.26" y="141.4" width="7.16" height="5.7" fill="#ffa4a4"/>
<rect x="370.42" y="141.4" width="7.16" height="5.7" fill="#ff5959"/>
<rect x="377.58" y="141.4" width="7.16" height="5.7" fill="#ff9393"/>
<rect x="384.74" y="141.4" width="7.16" height="5.7" fill="#ffbbbb"/>
<rect x="391.9" y="141.4" width="7.16" height="5.7" fill="#ff9f9f"/>
<rect x="399.06" y="141.4" width="7.16" height="5.7" fill="#8989ff"/>
<rect x="406.22" y="141.4" width="7.16" height="5.7" fill="#9696ff"/>
<rect x="284.5" y="147.09" width="7.16" height="5.7" fill="#ff8282"/>
<rect x="291.66" y="147.09" width="7.16" height="5.7" fill="#fff9f9"/>
<rect x="298.82" y="147.09" width="7.16" height="5.7" fill="#ffd6d6"/>
<rect x="305.98" y="147.09" width="7.16" height="5.7" fill="#9d9dff"/>
<rect x="313.14" y="147.09" width="7.16" height="5.7" fill="#ffefef"/>
<rect x="320.3" y="147.09" width="7.16" height="5.7" fill="#ffeaea"/>
<rect x="327.46" y="147.09" width="7.16" height="5.7" fill="#ffd1d1"/>
<rect x="334.62" y="147.09" width="7.16" height="5.7" fill="#ffeaea"/>
<rect x="341.78" y="147.09" width="7.16" height="5.7" fill="#ccccff"/>
<rect x="348.94" y="147.09" width="7.16" height="5.7" fill="#ccccff"/>
<rect x="356.1" y="147.09" width="7.16" height="5.7" fill="#9d9dff"/>
<rect x="363.26" y="147.09" width="7.16" height="5.7" fill="#ffc0c0"/>
<rect x="370.42" y="147.09" width="7.16" height="5.7" fill="#e5e5ff"/>
<rect x="377.58" y="147.09" width="7.16" height="5.7" fill="#ff5959"/>
<rect x="384.74" y="147.09" width="7.16" height="5.7" fill="#dbdbff"/>
<rect x="391.9" y="147.09" width="7.16" height="5.7" fill="#ffc0c0"/>
<rect x="399.06" y="147.09" width="7.16" height="5.7" fill="#bebeff"/>
<rect x="406.22" y="147.09" width="7.16" height="5.7" fill="#aaaaff"/>
<rect x="284.5" y="152.79" width="7.16" height="5.7" fill="#e5e5ff"/>
<rect x="291.66" y="152.79" width="7.16" height="5.7" fill="#ffefef"/>
<rect x="298.82" y="152.79" width="7.16" height="5.7" fill="#ffffff"/>
<rect x="305.98" y="152.79" width="7.16" height="5.7" fill="#ffcccc"/>
<rect x="313.14" y="152.79" width="7.16" height="5.7" fill="#ffffff"/>
<rect x="320.3" y="152.79" width="7.16" height="5.7" fill="#ffffff"/>
<rect x="327.46" y="152.79" width="7.16" height="5.7" fill="#ffe5e5"/>
<rect x="334.62" y="152.79" width="7.16" height="5.7" fill="#fff4f4"/>
<rect x="341.78" y="152.79" width="7.16" height="5.7" fill="#ffffff"/>
<rect x="348.94" y="152.79" width="7.16" height="5.7" fill="#ffc0c0"/>
<rect x="356.1" y="152.79" width="7.16" height="5.7" fill="#ffffff"/>
<rect x="363.26" y="152.79" width="7.16" height="5.7" fill="#ffe0e0"/>
<rect x="370.42" y="152.79" width="7.16" height="5.7" fill="#ffffff"/>
<rect x="377.58" y="152.79" width="7.16" height="5.7" fill="#ff5959"/>
<rect x="384.74" y="152.79" width="7.16" height="5.7" fill="#ffa4a4"/>
<rect x="391.9" y="152.79" width="7.16" height="5.7" fill="#ffbbbb"/>
<rect x="399.06" y="152.79" width="7.16" height="5.7" fill="#b8b8ff"/>
<rect x="406.22" y="152.79" width="7.16" height="5.7" fill="#aaaaff"/>
<rect x="284.5" y="158.49" width="7.16" height="5.7" fill="#ccccff"/>
<rect x="291.66" y="158.49" width="7.16" height="5.7" fill="#ccccff"/>
<rect x="298.82" y="158.49" width="7.16" height="5.7" fill="#dbdbff"/>
<rect x="305.98" y="158.49" width="7.16" height="5.7" fill="#dbdbff"/>
<rect x="313.14" y="158.49" width="7.16" height="5.7" fill="#dbdbff"/>
<rect x="320.3" y="158.49" width="7.16" height="5.7" fill="#ccccff"/>
<rect x="327.46" y="158.49" width="7.16" height="5.7" fill="#ccccff"/>
<rect x="334.62" y="158.49" width="7.16" height="5.7" fill="#ccccff"/>
<rect x="341.78" y="158.49" width="7.16" height="5.7" fill="#7575ff"/>
<rect x="348.94" y="158.49" width="7.16" height="5.7" fill="#7575ff"/>
<rect x="356.1" y="158.49" width="7.16" height="5.7" fill="#efefff"/>
<rect x="363.26" y="158.49" width="7.16" height="5.7" fill="#ffeaea"/>
<rect x="370.42" y="158.49" width="7.16" height="5.7" fill="#ffc0c0"/>
<rect x="377.58" y="158.49" width="7.16" height="5.7" fill="#f4f4ff"/>
<rect x="384.74" y="158.49" width="7.16" height="5.7" fill="#4747ff"/>
<rect x="391.9" y="158.49" width="7.16" height="5.7" fill="#e5e5ff"/>
<rect x="399.06" y="158.49" width="7.16" height="5.7" fill="#ffc0c0"/>
<rect x="406.22" y="158.49" width="7.16" height="5.7" fill="#eaeaff"/>
<rect x="284.5" y="164.18" width="7.16" height="5.7" fill="#ff8282"/>
<rect x="291.66" y="164.18" width="7.16" height="5.7" fill="#fff9f9"/>
<rect x="298.82" y="164.18" width="7.16" height="5.7" fill="#ffdbdb"/>
<rect x="305.98" y="164.18" width="7.16" height="5.7" fill="#9696ff"/>
<rect x="313.14" y="164.18" width="7.16" height="5.7" fill="#ffe5e5"/>
<rect x="320.3" y="164.18" width="7.16" height="5.7" fill="#fff9f9"/>
<rect x="327.46" y="164.18" width="7.16" height="5.7" fill="#ffd1d1"/>
<rect x="334.62" y="164.18" width="7.16" height="5.7" fill="#ffefef"/>
<rect x="341.78" y="164.18" width="7.16" height="5.7" fill="#ffe5e5"/>
<rect x="348.94" y="164.18" width="7.16" height="5.7" fill="#ccccff"/>
<rect x="356.1" y="164.18" width="7.16" height="5.7" fill="#4747ff"/>
<rect x="363.26" y="164.18" width="7.16" height="5.7" fill="#ffd6d6"/>
<rect x="370.42" y="164.18" width="7.16" height="5.7" fill="#ffc0c0"/>
<rect x="377.58" y="164.18" width="7.16" height="5.7" fill="#ff9393"/>
<rect x="384.74" y="164.18" width="7.16" height="5.7" fill="#ffe5e5"/>
<rect x="391.9" y="164.18" width="7.16" height="5.7" fill="#ffeaea"/>
<rect x="399.06" y="164.18" width="7.16" height="5.7" fill="#efefff"/>
<rect x="406.22" y="164.18" width="7.16" height="5.7" fill="#d6d6ff"/>
<rect x="284.5" y="169.88" width="7.16" height="5.7" fill="#3939ff"/>
<rect x="291.66" y="169.88" width="7.16" height="5.7" fill="#fff9f9"/>
<rect x="298.82" y="169.88" width="7.16" height="5.7" fill="#e5e5ff"/>
<rect x="305.98" y="169.88" width="7.16" height="5.7" fill="#ff9f9f"/>
<rect x="313.14" y="169.88" width="7.16" height="5.7" fill="#e5e5ff"/>
<rect x="320.3" y="169.88" width="7.16" height="5.7" fill="#fff9f9"/>
<rect x="327.46" y="169.88" width="7.16" height="5.7" fill="#fff9f9"/>
<rect x="334.62" y="169.88" width="7.16" height="5.7" fill="#fff9f9"/>
<rect x="341.78" y="169.88" width="7.16" height="5.7" fill="#eaeaff"/>
<rect x="348.94" y="169.88" width="7.16" height="5.7" fill="#ffefef"/>
<rect x="356.1" y="169.88" width="7.16" height="5.7" fill="#ffd6d6"/>
<rect x="363.26" y="169.88" width="7.16" height="5.7" fill="#dbdbff"/>
<rect x="370.42" y="169.88" width="7.16" height="5.7" fill="#e5e5ff"/>
<rect x="377.58" y="169.88" width="7.16" height="5.7" fill="#ffffff"/>
<rect x="384.74" y="169.88" width="7.16" height="5.7" fill="#f4f4ff"/>
<rect x="391.9" y="169.88" width="7.16" height="5.7" fill="#e0e0ff"/>
<rect x="399.06" y="169.88" width="7.16" height="5.7" fill="#ffd6d6"/>
<rect x="406.22" y="169.88" width="7.16" height="5.7" fill="#f4f4ff"/>
<rect x="284.5" y="175.57" width="7.16" height="5.7" fill="#3939ff"/>
<rect x="291.66" y="175.57" width="7.16" height="5.7" fill="#d6d6ff"/>
<rect x="298.82" y="175.57" width="7.16" height="5.7" fill="#aaaaff"/>
<rect x="305.98" y="175.57" width="7.16" height="5.7" fill="#ffcccc"/>
<rect x="313.14" y="175.57" width="7.16" height="5.7" fill="#f4f4ff"/>
<rect x="320.3" y="175.57" width="7.16" height="5.7" fill="#ffcccc"/>
<rect x="327.46" y="175.57" width="7.16" height="5.7" fill="#ffbbbb"/>
<rect x="334.62" y="175.57" width="7.16" height="5.7" fill="#ffc0c0"/>
<rect x="341.78" y="175.57" width="7.16" height="5.7" fill="#ffe5e5"/>
<rect x="348.94" y="175.57" width="7.16" height="5.7" fill="#eaeaff"/>
<rect x="356.1" y="175.57" width="7.16" height="5.7" fill="#ffc0c0"/>
<rect x="363.26" y="175.57" width="7.16" height="5.7" fill="#aaaaff"/>
<rect x="370.42" y="175.57" width="7.16" height="5.7" fill="#d6d6ff"/>
<rect x="377.58" y="175.57" width="7.16" height="5.7" fill="#ffa4a4"/>
<rect x="384.74" y="175.57" width="7.16" height="5.7" fill="#ffdbdb"/>
<rect x="391.9" y="175.57" width="7.16" height="5.7" fill="#fff9f9"/>
<rect x="399.06" y="175.57" width="7.16" height="5.7" fill="#ffcccc"/>
<rect x="406.22" y="175.57" width="7.16" height="5.7" fill="#ffffff"/>
<rect x="284.5" y="181.27" width="7.16" height="5.7" fill="#6868ff"/>
<rect x="291.66" y="181.27" width="7.16" height="5.7" fill="#dbdbff"/>
<rect x="298.82" y="181.27" width="7.16" height="5.7" fill="#dbdbff"/>
<rect x="305.98" y="181.27" width="7.16" height="5.7" fill="#bebeff"/>
<rect x="313.14" y="181.27" width="7.16" height="5.7" fill="#dbdbff"/>
<rect x="320.3" y="181.27" width="7.16" height="5.7" fill="#fff4f4"/>
<rect x="327.46" y="181.27" width="7.16" height="5.7" fill="#ffcccc"/>
<rect x="334.62" y="181.27" width="7.16" height="5.7" fill="#ffdbdb"/>
<rect x="341.78" y="181.27" width="7.16" height="5.7" fill="#bebeff"/>
<rect x="348.94" y="181.27" width="7.16" height="5.7" fill="#bebeff"/>
<rect x="356.1" y="181.27" width="7.16" height="5.7" fill="#7c7cff"/>
<rect x="363.26" y="181.27" width="7.16" height="5.7" fill="#5b5bff"/>
<rect x="370.42" y="181.27" width="7.16" height="5.7" fill="#ffffff"/>
<rect x="377.58" y="181.27" width="7.16" height="5.7" fill="#ccccff"/>
<rect x="384.74" y="181.27" width="7.16" height="5.7" fill="#7c7cff"/>
<rect x="391.9" y="181.27" width="7.16" height="5.7" fill="#7c7cff"/>
<rect x="399.06" y="181.27" width="7.16" height="5.7" fill="#ff5959"/>
<rect x="406.22" y="181.27" width="7.16" height="5.7" fill="#ff9f9f"/>
<rect x="284.5" y="186.96" width="7.16" height="5.7" fill="#ff9393"/>
<rect x="291.66" y="186.96" width="7.16" height="5.7" fill="#f4f4ff"/>
<rect x="298.82" y="186.96" width="7.16" height="5.7" fill="#fff9f9"/>
<rect x="305.98" y="186.96" width="7.16" height="5.7" fill="#efefff"/>
<rect x="313.14" y="186.96" width="7.16" height="5.7" fill="#ff8282"/>
<rect x="320.3" y="186.96" width="7.16" height="5.7" fill="#ffbbbb"/>
<rect x="327.46" y="186.96" width="7.16" height="5.7" fill="#ffbbbb"/>
<rect x="334.62" y="186.96" width="7.16" height="5.7" fill="#ffbbbb"/>
<rect x="341.78" y="186.96" width="7.16" height="5.7" fill="#ffc0c0"/>
<rect x="348.94" y="186.96" width="7.16" height="5.7" fill="#ccccff"/>
<rect x="356.1" y="186.96" width="7.16" height="5.7" fill="#aaaaff"/>
<rect x="363.26" y="186.96" width="7.16" height="5.7" fill="#ffe5e5"/>
<rect x="370.42" y="186.96" width="7.16" height="5.7" fill="#ffffff"/>
<rect x="377.58" y="186.96" width="7.16" height="5.7" fill="#ff5959"/>
<rect x="384.74" y="186.96" width="7.16" height="5.7" fill="#dbdbff"/>
<rect x="391.9" y="186.96" width="7.16" height="5.7" fill="#ffc0c0"/>
<rect x="399.06" y="186.96" width="7.16" height="5.7" fill="#d6d6ff"/>
<rect x="406.22" y="186.96" width="7.16" height="5.7" fill="#ccccff"/>
<rect x="284.5" y="192.66" width="7.16" height="5.7" fill="#ccccff"/>
<rect x="291.66" y="192.66" width="7.16" height="5.7" fill="#ccccff"/>
<rect x="298.82" y="192.66" width="7.16" height="5.7" fill="#bebeff"/>
<rect x="305.98" y="192.66" width="7.16" height="5.7" fill="#ffffff"/>
<rect x="313.14" y="192.66" width="7.16" height="5.7" fill="#3939ff"/>
<rect x="320.3" y="192.66" width="7.16" height="5.7" fill="#3939ff"/>
<rect x="327.46" y="192.66" width="7.16" height="5.7" fill="#3939ff"/>
<rect x="334.62" y="192.66" width="7.16" height="5.7" fill="#3939ff"/>
<rect x="341.78" y="192.66" width="7.16" height="5.7" fill="#efefff"/>
<rect x="348.94" y="192.66" width="7.16" height="5.7" fill="#ffc0c0"/>
<rect x="356.1" y="192.66" width="7.16" height="5.7" fill="#fff4f4"/>
<rect x="363.26" y="192.66" width="7.16" height="5.7" fill="#e5e5ff"/>
<rect x="370.42" y="192.66" width="7.16" height="5.7" fill="#dbdbff"/>
<rect x="377.58" y="192.66" width="7.16" height="5.7" fill="#9d9dff"/>
<rect x="384.74" y="192.66" width="7.16" height="5.7" fill="#e0e0ff"/>
<rect x="391.9" y="192.66" width="7.16" height="5.7" fill="#d6d6ff"/>
<rect x="399.06" y="192.66" width="7.16" height="5.7" fill="#ffffff"/>
<rect x="406.22" y="192.66" width="7.16" height="5.7" fill="#ffeaea"/>
<rect x="284.5" y="198.35" width="7.16" height="5.7" fill="#ff9393"/>
<rect x="291.66" y="198.35" width="7.16" height="5.7" fill="#ffdbdb"/>
<rect x="298.82" y="198.35" width="7.16" height="5.7" fill="#ffcccc"/>
<rect x="305.98" y="198.35" width="7.16" height="5.7" fill="#e5e5ff"/>
<rect x="313.14" y="198.35" width="7.16" height="5.7" fill="#ff9393"/>
<rect x="320.3" y="198.35" width="7.16" height="5.7" fill="#ffa4a4"/>
<rect x="327.46" y="198.35" width="7.16" height="5.7" fill="#ffbbbb"/>
<rect x="334.62" y="198.35" width="7.16" height="5.7" fill="#ffaaaa"/>
<rect x="341.78" y="198.35" width="7.16" height="5.7" fill="#ffbbbb"/>
<rect x="348.94" y="198.35" width="7.16" height="5.7" fill="#ccccff"/>
<rect x="356.1" y="198.35" width="7.16" height="5.7" fill="#efefff"/>
<rect x="363.26" y="198.35" width="7.16" height="5.7" fill="#ff3e3e"/>
<rect x="370.42" y="198.35" width="7.16" height="5.7" fill="#ffd6d6"/>
<rect x="377.58" y="198.35" width="7.16" height="5.7" fill="#ffa4a4"/>
<rect x="384.74" y="198.35" width="7.16" height="5.7" fill="#ffafaf"/>
<rect x="391.9" y="198.35" width="7.16" height="5.7" fill="#ff2c2c"/>
<rect x="399.06" y="198.35" width="7.16" height="5.7" fill="#3939ff"/>
<rect x="406.22" y="198.35" width="7.16" height="5.7" fill="#3939ff"/>
<rect x="284.5" y="204.05" width="7.16" height="5.7" fill="#bebeff"/>
<rect x="291.66" y="204.05" width="7.16" height="5.7" fill="#ffafaf"/>
<rect x="298.82" y="204.05" width="7.16" height="5.7" fill="#ffd1d1"/>
<rect x="305.98" y="204.05" width="7.16" height="5.7" fill="#ffffff"/>
<rect x="313.14" y="204.05" width="7.16" height="5.7" fill="#3939ff"/>
<rect x="320.3" y="204.05" width="7.16" height="5.7" fill="#2a2aff"/>
<rect x="327.46" y="204.05" width="7.16" height="5.7" fill="#1515ff"/>
<rect x="334.62" y="204.05" width="7.16" height="5.7" fill="#1515ff"/>
<rect x="341.78" y="204.05" width="7.16" height="5.7" fill="#f4f4ff"/>
<rect x="348.94" y="204.05" width="7.16" height="5.7" fill="#ffa4a4"/>
<rect x="356.1" y="204.05" width="7.16" height="5.7" fill="#ffafaf"/>
<rect x="363.26" y="204.05" width="7.16" height="5.7" fill="#9d9dff"/>
<rect x="370.42" y="204.05" width="7.16" height="5.7" fill="#ffe0e0"/>
<rect x="377.58" y="204.05" width="7.16" height="5.7" fill="#7575ff"/>
<rect x="384.74" y="204.05" width="7.16" height="5.7" fill="#ffafaf"/>
<rect x="391.9" y="204.05" width="7.16" height="5.7" fill="#fff9f9"/>
<rect x="399.06" y="204.05" width="7.16" height="5.7" fill="#ffefef"/>
<rect x="406.22" y="204.05" width="7.16" height="5.7" fill="#ffc0c0"/>
<rect x="284.5" y="209.74" width="7.16" height="5.7" fill="#7575ff"/>
<rect x="291.66" y="209.74" width="7.16" height="5.7" fill="#ffe0e0"/>
<rect x="298.82" y="209.74" width="7.16" height="5.7" fill="#eaeaff"/>
<rect x="305.98" y="209.74" width="7.16" height="5.7" fill="#f4f4ff"/>
<rect x="313.14" y="209.74" width="7.16" height="5.7" fill="#5b5bff"/>
<rect x="320.3" y="209.74" width="7.16" height="5.7" fill="#7575ff"/>
<rect x="327.46" y="209.74" width="7.16" height="5.7" fill="#7575ff"/>
<rect x="334.62" y="209.74" width="7.16" height="5.7" fill="#7575ff"/>
<rect x="341.78" y="209.74" width="7.16" height="5.7" fill="#ccccff"/>
<rect x="348.94" y="209.74" width="7.16" height="5.7" fill="#9696ff"/>
<rect x="356.1" y="209.74" width="7.16" height="5.7" fill="#ff5959"/>
<rect x="363.26" y="209.74" width="7.16" height="5.7" fill="#e5e5ff"/>
<rect x="370.42" y="209.74" width="7.16" height="5.7" fill="#ccccff"/>
<rect x="377.58" y="209.74" width="7.16" height="5.7" fill="#aaaaff"/>
<rect x="384.74" y="209.74" width="7.16" height="5.7" fill="#aaaaff"/>
<rect x="391.9" y="209.74" width="7.16" height="5.7" fill="#efefff"/>
<rect x="399.06" y="209.74" width="7.16" height="5.7" fill="#ffe0e0"/>
<rect x="406.22" y="209.74" width="7.16" height="5.7" fill="#ffbbbb"/>
<rect x="284.5" y="215.44" width="7.16" height="5.7" fill="#ffffff"/>
<rect x="291.66" y="215.44" width="7.16" height="5.7" fill="#ffd1d1"/>
<rect x="298.82" y="215.44" width="7.16" height="5.7" fill="#ffcccc"/>
<rect x="305.98" y="215.44" width="7.16" height="5.7" fill="#ffdbdb"/>
<rect x="313.14" y="215.44" width="7.16" height="5.7" fill="#9696ff"/>
<rect x="320.3" y="215.44" width="7.16" height="5.7" fill="#4747ff"/>
<rect x="327.46" y="215.44" width="7.16" height="5.7" fill="#5b5bff"/>
<rect x="334.62" y="215.44" width="7.16" height="5.7" fill="#5b5bff"/>
<rect x="341.78" y="215.44" width="7.16" height="5.7" fill="#7575ff"/>
<rect x="348.94" y="215.44" width="7.16" height="5.7" fill="#fff4f4"/>
<rect x="356.1" y="215.44" width="7.16" height="5.7" fill="#aaaaff"/>
<rect x="363.26" y="215.44" width="7.16" height="5.7" fill="#7575ff"/>
<rect x="370.42" y="215.44" width="7.16" height="5.7" fill="#eaeaff"/>
<rect x="377.58" y="215.44" width="7.16" height="5.7" fill="#5b5bff"/>
<rect x="384.74" y="215.44" width="7.16" height="5.7" fill="#7575ff"/>
<rect x="391.9" y="215.44" width="7.16" height="5.7" fill="#b8b8ff"/>
<rect x="399.06" y="215.44" width="7.16" height="5.7" fill="#ff9393"/>
<rect x="406.22" y="215.44" width="7.16" height="5.7" fill="#ff9393"/>
<rect x="284.5" y="221.13" width="7.16" height="5.7" fill="#f4f4ff"/>
<rect x="291.66" y="221.13" width="7.16" height="5.7" fill="#ff8282"/>
<rect x="298.82" y="221.13" width="7.16" height="5.7" fill="#ff6a6a"/>
<rect x="305.98" y="221.13" width="7.16" height="5.7" fill="#ffa4a4"/>
<rect x="313.14" y="221.13" width="7.16" height="5.7" fill="#ff9f9f"/>
<rect x="320.3" y="221.13" width="7.16" height="5.7" fill="#ff5959"/>
<rect x="327.46" y="221.13" width="7.16" height="5.7" fill="#ff7676"/>
<rect x="334.62" y="221.13" width="7.16" height="5.7" fill="#ff5959"/>
<rect x="341.78" y="221.13" width="7.16" height="5.7" fill="#ccccff"/>
<rect x="348.94" y="221.13" width="7.16" height="5.7" fill="#ff5959"/>
<rect x="356.1" y="221.13" width="7.16" height="5.7" fill="#efefff"/>
<rect x="363.26" y="221.13" width="7.16" height="5.7" fill="#ff9393"/>
<rect x="370.42" y="221.13" width="7.16" height="5.7" fill="#ff5959"/>
<rect x="377.58" y="221.13" width="7.16" height="5.7" fill="#ff3e3e"/>
<rect x="384.74" y="221.13" width="7.16" height="5.7" fill="#ff9393"/>
<rect x="391.9" y="221.13" width="7.16" height="5.7" fill="#ff9f9f"/>
<rect x="399.06" y="221.13" width="7.16" height="5.7" fill="#6868ff"/>
<rect x="406.22" y="221.13" width="7.16" height="5.7" fill="#3939ff"/>
<rect x="284.5" y="226.83" width="7.16" height="5.7" fill="#3939ff"/>
<rect x="291.66" y="226.83" width="7.16" height="5.7" fill="#ffffff"/>
<rect x="298.82" y="226.83" width="7.16" height="5.7" fill="#bebeff"/>
<rect x="305.98" y="226.83" width="7.16" height="5.7" fill="#ffafaf"/>
<rect x="313.14" y="226.83" width="7.16" height="5.7" fill="#efefff"/>
<rect x="320.3" y="226.83" width="7.16" height="5.7" fill="#f4f4ff"/>
<rect x="327.46" y="226.83" width="7.16" height="5.7" fill="#ffffff"/>
<rect x="334.62" y="226.83" width="7.16" height="5.7" fill="#efefff"/>
<rect x="341.78" y="226.83" width="7.16" height="5.7" fill="#ff9f9f"/>
<rect x="348.94" y="226.83" width="7.16" height="5.7" fill="#ffdbdb"/>
<rect x="356.1" y="226.83" width="7.16" height="5.7" fill="#ffe0e0"/>
<rect x="363.26" y="226.83" width="7.16" height="5.7" fill="#4747ff"/>
<rect x="370.42" y="226.83" width="7.16" height="5.7" fill="#b8b8ff"/>
<rect x="377.58" y="226.83" width="7.16" height="5.7" fill="#b8b8ff"/>
<rect x="384.74" y="226.83" width="7.16" height="5.7" fill="#ffcccc"/>
<rect x="391.9" y="226.83" width="7.16" height="5.7" fill="#ccccff"/>
<rect x="399.06" y="226.83" width="7.16" height="5.7" fill="#ffbbbb"/>
<rect x="406.22" y="226.83" width="7.16" height="5.7" fill="#ff9f9f"/>
<rect x="284.5" y="232.52" width="7.16" height="5.7" fill="#ffe0e0"/>
<rect x="291.66" y="232.52" width="7.16" height="5.7" fill="#ffbbbb"/>
<rect x="298.82" y="232.52" width="7.16" height="5.7" fill="#ffafaf"/>
<rect x="305.98" y="232.52" width="7.16" height="5.7" fill="#efefff"/>
<rect x="313.14" y="232.52" width="7.16" height="5.7" fill="#ffa4a4"/>
<rect x="320.3" y="232.52" width="7.16" height="5.7" fill="#ffc0c0"/>
<rect x="327.46" y="232.52" width="7.16" height="5.7" fill="#ffafaf"/>
<rect x="334.62" y="232.52" width="7.16" height="5.7" fill="#ffc0c0"/>
<rect x="341.78" y="232.52" width="7.16" height="5.7" fill="#ffdbdb"/>
<rect x="348.94" y="232.52" width="7.16" height="5.7" fill="#ffafaf"/>
<rect x="356.1" y="232.52" width="7.16" height="5.7" fill="#e5e5ff"/>
<rect x="363.26" y="232.52" width="7.16" height="5.7" fill="#ff3e3e"/>
<rect x="370.42" y="232.52" width="7.16" height="5.7" fill="#ff5959"/>
<rect x="377.58" y="232.52" width="7.16" height="5.7" fill="#ff5959"/>
<rect x="384.74" y="232.52" width="7.16" height="5.7" fill="#ffafaf"/>
<rect x="391.9" y="232.52" width="7.16" height="5.7" fill="#ff5959"/>
<rect x="399.06" y="232.52" width="7.16" height="5.7" fill="#1515ff"/>
<rect x="406.22" y="232.52" width="7.16" height="5.7" fill="#3939ff"/>
<rect x="284.5" y="238.22" width="7.16" height="5.7" fill="#ffffff"/>
<rect x="291.66" y="238.22" width="7.16" height="5.7" fill="#ffbbbb"/>
<rect x="298.82" y="238.22" width="7.16" height="5.7" fill="#ffafaf"/>
<rect x="305.98" y="238.22" width="7.16" height="5.7" fill="#efefff"/>
<rect x="313.14" y="238.22" width="7.16" height="5.7" fill="#ffafaf"/>
<rect x="320.3" y="238.22" width="7.16" height="5.7" fill="#ffdbdb"/>
<rect x="327.46" y="238.22" width="7.16" height="5.7" fill="#ffd6d6"/>
<rect x="334.62" y="238.22" width="7.16" height="5.7" fill="#ffe5e5"/>
<rect x="341.78" y="238.22" width="7.16" height="5.7" fill="#ffbbbb"/>
<rect x="348.94" y="238.22" width="7.16" height="5.7" fill="#ffbbbb"/>
<rect x="356.1" y="238.22" width="7.16" height="5.7" fill="#dbdbff"/>
<rect x="363.26" y="238.22" width="7.16" height="5.7" fill="#ff2c2c"/>
<rect x="370.42" y="238.22" width="7.16" height="5.7" fill="#ff7676"/>
<rect x="377.58" y="238.22" width="7.16" height="5.7" fill="#ff9393"/>
<rect x="384.74" y="238.22" width="7.16" height="5.7" fill="#ffbbbb"/>
<rect x="391.9" y="238.22" width="7.16" height="5.7" fill="#ff5959"/>
<rect x="399.06" y="238.22" width="7.16" height="5.7" fill="#1515ff"/>
<rect x="406.22" y="238.22" width="7.16" height="5.7" fill="#3939ff"/>
<rect x="284.5" y="243.91" width="7.16" height="5.7" fill="#bebeff"/>
<rect x="291.66" y="243.91" width="7.16" height="5.7" fill="#ffeaea"/>
<rect x="298.82" y="243.91" width="7.16" height="5.7" fill="#ffffff"/>
<rect x="305.98" y="243.91" width="7.16" height="5.7" fill="#ffd6d6"/>
<rect x="313.14" y="243.91" width="7.16" height="5.7" fill="#ffa4a4"/>
<rect x="320.3" y="243.91" width="7.16" height="5.7" fill="#ffc0c0"/>
<rect x="327.46" y="243.91" width="7.16" height="5.7" fill="#ffbbbb"/>
<rect x="334.62" y="243.91" width="7.16" height="5.7" fill="#ffc0c0"/>
<rect x="341.78" y="243.91" width="7.16" height="5.7" fill="#ff8282"/>
<rect x="348.94" y="243.91" width="7.16" height="5.7" fill="#ffcccc"/>
<rect x="356.1" y="243.91" width="7.16" height="5.7" fill="#ffe5e5"/>
<rect x="363.26" y="243.91" width="7.16" height="5.7" fill="#ffafaf"/>
<rect x="370.42" y="243.91" width="7.16" height="5.7" fill="#ff2c2c"/>
<rect x="377.58" y="243.91" width="7.16" height="5.7" fill="#ff2c2c"/>
<rect x="384.74" y="243.91" width="7.16" height="5.7" fill="#ffbbbb"/>
<rect x="391.9" y="243.91" width="7.16" height="5.7" fill="#ffd6d6"/>
<rect x="399.06" y="243.91" width="7.16" height="5.7" fill="#5b5bff"/>
<rect x="406.22" y="243.91" width="7.16" height="5.7" fill="#3939ff"/>
<rect x="284.5" y="249.61" width="7.16" height="5.7" fill="#7575ff"/>
<rect x="291.66" y="249.61" width="7.16" height="5.7" fill="#9d9dff"/>
<rect x="298.82" y="249.61" width="7.16" height="5.7" fill="#9696ff"/>
<rect x="305.98" y="249.61" width="7.16" height="5.7" fill="#ffafaf"/>
<rect x="313.14" y="249.61" width="7.16" height="5.7" fill="#ffcccc"/>
<rect x="320.3" y="249.61" width="7.16" height="5.7" fill="#ffcccc"/>
<rect x="327.46" y="249.61" width="7.16" height="5.7" fill="#ffdbdb"/>
<rect x="334.62" y="249.61" width="7.16" height="5.7" fill="#ffd6d6"/>
<rect x="341.78" y="249.61" width="7.16" height="5.7" fill="#ccccff"/>
<rect x="348.94" y="249.61" width="7.16" height="5.7" fill="#ffa4a4"/>
<rect x="356.1" y="249.61" width="7.16" height="5.7" fill="#ffc0c0"/>
<rect x="363.26" y="249.61" width="7.16" height="5.7" fill="#ff9393"/>
<rect x="370.42" y="249.61" width="7.16" height="5.7" fill="#ffafaf"/>
<rect x="377.58" y="249.61" width="7.16" height="5.7" fill="#ccccff"/>
<rect x="384.74" y="249.61" width="7.16" height="5.7" fill="#ffa4a4"/>
<rect x="391.9" y="249.61" width="7.16" height="5.7" fill="#ff5959"/>
<rect x="399.06" y="249.61" width="7.16" height="5.7" fill="#6868ff"/>
<rect x="406.22" y="249.61" width="7.16" height="5.7" fill="#7c7cff"/>
<rect x="284.5" y="255.3" width="7.16" height="5.7" fill="#ffd6d6"/>
<rect x="291.66" y="255.3" width="7.16" height="5.7" fill="#ffcccc"/>
<rect x="298.82" y="255.3" width="7.16" height="5.7" fill="#ffbbbb"/>
<rect x="305.98" y="255.3" width="7.16" height="5.7" fill="#e5e5ff"/>
<rect x="313.14" y="255.3" width="7.16" height="5.7" fill="#ff7676"/>
<rect x="320.3" y="255.3" width="7.16" height="5.7" fill="#ff2c2c"/>
<rect x="327.46" y="255.3" width="7.16" height="5.7" fill="#ff2c2c"/>
<rect x="334.62" y="255.3" width="7.16" height="5.7" fill="#ff2c2c"/>
<rect x="341.78" y="255.3" width="7.16" height="5.7" fill="#aaaaff"/>
<rect x="348.94" y="255.3" width="7.16" height="5.7" fill="#e5e5ff"/>
<rect x="356.1" y="255.3" width="7.16" height="5.7" fill="#8989ff"/>
<rect x="363.26" y="255.3" width="7.16" height="5.7" fill="#ffd6d6"/>
<rect x="370.42" y="255.3" width="7.16" height="5.7" fill="#ffa4a4"/>
<rect x="377.58" y="255.3" width="7.16" height="5.7" fill="#ffafaf"/>
<rect x="384.74" y="255.3" width="7.16" height="5.7" fill="#ffffff"/>
<rect x="391.9" y="255.3" width="7.16" height="5.7" fill="#ffffff"/>
<rect x="399.06" y="255.3" width="7.16" height="5.7" fill="#fff9f9"/>
<rect x="406.22" y="255.3" width="7.16" height="5.7" fill="#efefff"/>
<rect x="284.5" y="261" width="7.16" height="5.7" fill="#aaaaff"/>
<rect x="291.66" y="261" width="7.16" height="5.7" fill="#ffbbbb"/>
<rect x="298.82" y="261" width="7.16" height="5.7" fill="#ffa4a4"/>
<rect x="305.98" y="261" width="7.16" height="5.7" fill="#ffd6d6"/>
<rect x="313.14" y="261" width="7.16" height="5.7" fill="#ffffff"/>
<rect x="320.3" y="261" width="7.16" height="5.7" fill="#ffa4a4"/>
<rect x="327.46" y="261" width="7.16" height="5.7" fill="#ff9393"/>
<rect x="334.62" y="261" width="7.16" height="5.7" fill="#ff9f9f"/>
<rect x="341.78" y="261" width="7.16" height="5.7" fill="#e5e5ff"/>
<rect x="348.94" y="261" width="7.16" height="5.7" fill="#ffcccc"/>
<rect x="356.1" y="261" width="7.16" height="5.7" fill="#ffafaf"/>
<rect x="363.26" y="261" width="7.16" height="5.7" fill="#ff5959"/>
<rect x="370.42" y="261" width="7.16" height="5.7" fill="#ffc0c0"/>
<rect x="377.58" y="261" width="7.16" height="5.7" fill="#e5e5ff"/>
<rect x="384.74" y="261" width="7.16" height="5.7" fill="#ff9f9f"/>
<rect x="391.9" y="261" width="7.16" height="5.7" fill="#ff8888"/>
<rect x="399.06" y="261" width="7.16" height="5.7" fill="#8989ff"/>
<rect x="406.22" y="261" width="7.16" height="5.7" fill="#6868ff"/>
<rect x="284.5" y="266.69" width="7.16" height="5.7" fill="#6868ff"/>
<rect x="291.66" y="266.69" width="7.16" height="5.7" fill="#efefff"/>
<rect x="298.82" y="266.69" width="7.16" height="5.7" fill="#ffffff"/>
<rect x="305.98" y="266.69" width="7.16" height="5.7" fill="#ffbbbb"/>
<rect x="313.14" y="266.69" width="7.16" height="5.7" fill="#ccccff"/>
<rect x="320.3" y="266.69" width="7.16" height="5.7" fill="#ffdbdb"/>
<rect x="327.46" y="266.69" width="7.16" height="5.7" fill="#ffd6d6"/>
<rect x="334.62" y="266.69" width="7.16" height="5.7" fill="#ffdbdb"/>
<rect x="341.78" y="266.69" width="7.16" height="5.7" fill="#ffffff"/>
<rect x="348.94" y="266.69" width="7.16" height="5.7" fill="#fff9f9"/>
<rect x="356.1" y="266.69" width="7.16" height="5.7" fill="#ff5959"/>
<rect x="363.26" y="266.69" width="7.16" height="5.7" fill="#ffcccc"/>
<rect x="370.42" y="266.69" width="7.16" height="5.7" fill="#ffcccc"/>
<rect x="377.58" y="266.69" width="7.16" height="5.7" fill="#ffd6d6"/>
<rect x="384.74" y="266.69" width="7.16" height="5.7" fill="#ffd6d6"/>
<rect x="391.9" y="266.69" width="7.16" height="5.7" fill="#ffbbbb"/>
<rect x="399.06" y="266.69" width="7.16" height="5.7" fill="#dbdbff"/>
<rect x="406.22" y="266.69" width="7.16" height="5.7" fill="#aaaaff"/>
<rect x="284.5" y="272.38" width="7.16" height="5.7" fill="#e5e5ff"/>
<rect x="291.66" y="272.38" width="7.16" height="5.7" fill="#ffcccc"/>
<rect x="298.82" y="272.38" width="7.16" height="5.7" fill="#ffc0c0"/>
<rect x="305.98" y="272.38" width="7.16" height="5.7" fill="#ffafaf"/>
<rect x="313.14" y="272.38" width="7.16" height="5.7" fill="#ffafaf"/>
<rect x="320.3" y="272.38" width="7.16" height="5.7" fill="#ff8282"/>
<rect x="327.46" y="272.38" width="7.16" height="5.7" fill="#ff8282"/>
<rect x="334.62" y="272.38" width="7.16" height="5.7" fill="#ff8282"/>
<rect x="341.78" y="272.38" width="7.16" height="5.7" fill="#aaaaff"/>
<rect x="348.94" y="272.38" width="7.16" height="5.7" fill="#dbdbff"/>
<rect x="356.1" y="272.38" width="7.16" height="5.7" fill="#ccccff"/>
<rect x="363.26" y="272.38" width="7.16" height="5.7" fill="#ffe0e0"/>
<rect x="370.42" y="272.38" width="7.16" height="5.7" fill="#ff9f9f"/>
<rect x="377.58" y="272.38" width="7.16" height="5.7" fill="#ff3e3e"/>
<rect x="384.74" y="272.38" width="7.16" height="5.7" fill="#ffffff"/>
<rect x="391.9" y="272.38" width="7.16" height="5.7" fill="#ffe0e0"/>
<rect x="399.06" y="272.38" width="7.16" height="5.7" fill="#fff9f9"/>
<rect x="406.22" y="272.38" width="7.16" height="5.7" fill="#aaaaff"/>
<rect x="284.5" y="278.08" width="7.16" height="5.7" fill="#eaeaff"/>
<rect x="291.66" y="278.08" width="7.16" height="5.7" fill="#d6d6ff"/>
<rect x="298.82" y="278.08" width="7.16" height="5.7" fill="#d6d6ff"/>
<rect x="305.98" y="278.08" width="7.16" height="5.7" fill="#ffffff"/>
<rect x="313.14" y="278.08" width="7.16" height="5.7" fill="#ffa4a4"/>
<rect x="320.3" y="278.08" width="7.16" height="5.7" fill="#ff8282"/>
<rect x="327.46" y="278.08" width="7.16" height="5.7" fill="#ff8282"/>
<rect x="334.62" y="278.08" width="7.16" height="5.7" fill="#ff8888"/>
<rect x="341.78" y="278.08" width="7.16" height="5.7" fill="#ffffff"/>
<rect x="348.94" y="278.08" width="7.16" height="5.7" fill="#b8b8ff"/>
<rect x="356.1" y="278.08" width="7.16" height="5.7" fill="#efefff"/>
<rect x="363.26" y="278.08" width="7.16" height="5.7" fill="#ffafaf"/>
<rect x="370.42" y="278.08" width="7.16" height="5.7" fill="#dbdbff"/>
<rect x="377.58" y="278.08" width="7.16" height="5.7" fill="#ff2c2c"/>
<rect x="384.74" y="278.08" width="7.16" height="5.7" fill="#e5e5ff"/>
<rect x="391.9" y="278.08" width="7.16" height="5.7" fill="#ffcccc"/>
<rect x="399.06" y="278.08" width="7.16" height="5.7" fill="#9d9dff"/>
<rect x="406.22" y="278.08" width="7.16" height="5.7" fill="#aaaaff"/>
<rect x="284.5" y="283.78" width="7.16" height="5.7" fill="#ffeaea"/>
<rect x="291.66" y="283.78" width="7.16" height="5.7" fill="#dbdbff"/>
<rect x="298.82" y="283.78" width="7.16" height="5.7" fill="#e0e0ff"/>
<rect x="305.98" y="283.78" width="7.16" height="5.7" fill="#ffffff"/>
<rect x="313.14" y="283.78" width="7.16" height="5.7" fill="#ffa4a4"/>
<rect x="320.3" y="283.78" width="7.16" height="5.7" fill="#ff8888"/>
<rect x="327.46" y="283.78" width="7.16" height="5.7" fill="#ff8282"/>
<rect x="334.62" y="283.78" width="7.16" height="5.7" fill="#ff8888"/>
<rect x="341.78" y="283.78" width="7.16" height="5.7" fill="#ffffff"/>
<rect x="348.94" y="283.78" width="7.16" height="5.7" fill="#ffffff"/>
<rect x="356.1" y="283.78" width="7.16" height="5.7" fill="#d6d6ff"/>
<rect x="363.26" y="283.78" width="7.16" height="5.7" fill="#ff8282"/>
<rect x="370.42" y="283.78" width="7.16" height="5.7" fill="#bebeff"/>
<rect x="377.58" y="283.78" width="7.16" height="5.7" fill="#ff5959"/>
<rect x="384.74" y="283.78" width="7.16" height="5.7" fill="#ffcccc"/>
<rect x="391.9" y="283.78" width="7.16" height="5.7" fill="#ffafaf"/>
<rect x="399.06" y="283.78" width="7.16" height="5.7" fill="#6868ff"/>
<rect x="406.22" y="283.78" width="7.16" height="5.7" fill="#9696ff"/>
<rect x="284.5" y="289.47" width="7.16" height="5.7" fill="#fff4f4"/>
<rect x="291.66" y="289.47" width="7.16" height="5.7" fill="#ccccff"/>
<rect x="298.82" y="289.47" width="7.16" height="5.7" fill="#d6d6ff"/>
<rect x="305.98" y="289.47" width="7.16" height="5.7" fill="#9d9dff"/>
<rect x="313.14" y="289.47" width="7.16" height="5.7" fill="#ffefef"/>
<rect x="320.3" y="289.47" width="7.16" height="5.7" fill="#ff9f9f"/>
<rect x="327.46" y="289.47" width="7.16" height="5.7" fill="#ff7676"/>
<rect x="334.62" y="289.47" width="7.16" height="5.7" fill="#ff9393"/>
<rect x="341.78" y="289.47" width="7.16" height="5.7" fill="#d6d6ff"/>
<rect x="348.94" y="289.47" width="7.16" height="5.7" fill="#ffd6d6"/>
<rect x="356.1" y="289.47" width="7.16" height="5.7" fill="#aaaaff"/>
<rect x="363.26" y="289.47" width="7.16" height="5.7" fill="#ffc0c0"/>
<rect x="370.42" y="289.47" width="7.16" height="5.7" fill="#ccccff"/>
<rect x="377.58" y="289.47" width="7.16" height="5.7" fill="#ffcccc"/>
<rect x="384.74" y="289.47" width="7.16" height="5.7" fill="#ff9393"/>
<rect x="391.9" y="289.47" width="7.16" height="5.7" fill="#ffafaf"/>
<rect x="399.06" y="289.47" width="7.16" height="5.7" fill="#ccccff"/>
<rect x="406.22" y="289.47" width="7.16" height="5.7" fill="#b8b8ff"/>
<rect x="284.5" y="295.17" width="7.16" height="5.7" fill="#dbdbff"/>
<rect x="291.66" y="295.17" width="7.16" height="5.7" fill="#e0e0ff"/>
<rect x="298.82" y="295.17" width="7.16" height="5.7" fill="#dbdbff"/>
<rect x="305.98" y="295.17" width="7.16" height="5.7" fill="#ffcccc"/>
<rect x="313.14" y="295.17" width="7.16" height="5.7" fill="#ff9393"/>
<rect x="320.3" y="295.17" width="7.16" height="5.7" fill="#ff9393"/>
<rect x="327.46" y="295.17" width="7.16" height="5.7" fill="#ff9393"/>
<rect x="334.62" y="295.17" width="7.16" height="5.7" fill="#ff9393"/>
<rect x="341.78" y="295.17" width="7.16" height="5.7" fill="#8989ff"/>
<rect x="348.94" y="295.17" width="7.16" height="5.7" fill="#ffafaf"/>
<rect x="356.1" y="295.17" width="7.16" height="5.7" fill="#efefff"/>
<rect x="363.26" y="295.17" width="7.16" height="5.7" fill="#ff9393"/>
<rect x="370.42" y="295.17" width="7.16" height="5.7" fill="#ffffff"/>
<rect x="377.58" y="295.17" width="7.16" height="5.7" fill="#ff3e3e"/>
<rect x="384.74" y="295.17" width="7.16" height="5.7" fill="#ffffff"/>
<rect x="391.9" y="295.17" width="7.16" height="5.7" fill="#ffa4a4"/>
<rect x="399.06" y="295.17" width="7.16" height="5.7" fill="#7c7cff"/>
<rect x="406.22" y="295.17" width="7.16" height="5.7" fill="#6868ff"/>
<rect x="284.5" y="300.86" width="7.16" height="5.7" fill="#9d9dff"/>
<rect x="291.66" y="300.86" width="7.16" height="5.7" fill="#ffeaea"/>
<rect x="298.82" y="300.86" width="7.16" height="5.7" fill="#fff9f9"/>
<rect x="305.98" y="300.86" width="7.16" height="5.7" fill="#ffeaea"/>
<rect x="313.14" y="300.86" width="7.16" height="5.7" fill="#ff5959"/>
<rect x="320.3" y="300.86" width="7.16" height="5.7" fill="#ff1a1a"/>
<rect x="327.46" y="300.86" width="7.16" height="5.7" fill="#ff1111"/>
<rect x="334.62" y="300.86" width="7.16" height="5.7" fill="#ff1a1a"/>
<rect x="341.78" y="300.86" width="7.16" height="5.7" fill="#ffc0c0"/>
<rect x="348.94" y="300.86" width="7.16" height="5.7" fill="#5b5bff"/>
<rect x="356.1" y="300.86" width="7.16" height="5.7" fill="#ffafaf"/>
<rect x="363.26" y="300.86" width="7.16" height="5.7" fill="#ffafaf"/>
<rect x="370.42" y="300.86" width="7.16" height="5.7" fill="#ffbbbb"/>
<rect x="377.58" y="300.86" width="7.16" height="5.7" fill="#ff8282"/>
<rect x="384.74" y="300.86" width="7.16" height="5.7" fill="#bebeff"/>
<rect x="391.9" y="300.86" width="7.16" height="5.7" fill="#ccccff"/>
<rect x="399.06" y="300.86" width="7.16" height="5.7" fill="#b8b8ff"/>
<rect x="406.22" y="300.86" width="7.16" height="5.7" fill="#aaaaff"/>
<rect x="284.5" y="306.56" width="7.16" height="5.7" fill="#f4f4ff"/>
<rect x="291.66" y="306.56" width="7.16" height="5.7" fill="#ff5959"/>
<rect x="298.82" y="306.56" width="7.16" height="5.7" fill="#ff5959"/>
<rect x="305.98" y="306.56" width="7.16" height="5.7" fill="#ffe5e5"/>
<rect x="313.14" y="306.56" width="7.16" height="5.7" fill="#ffdbdb"/>
<rect x="320.3" y="306.56" width="7.16" height="5.7" fill="#ffafaf"/>
<rect x="327.46" y="306.56" width="7.16" height="5.7" fill="#ffa4a4"/>
<rect x="334.62" y="306.56" width="7.16" height="5.7" fill="#ffafaf"/>
<rect x="341.78" y="306.56" width="7.16" height="5.7" fill="#dbdbff"/>
<rect x="348.94" y="306.56" width="7.16" height="5.7" fill="#ffafaf"/>
<rect x="356.1" y="306.56" width="7.16" height="5.7" fill="#fff9f9"/>
<rect x="363.26" y="306.56" width="7.16" height="5.7" fill="#ff9393"/>
<rect x="370.42" y="306.56" width="7.16" height="5.7" fill="#ff5959"/>
<rect x="377.58" y="306.56" width="7.16" height="5.7" fill="#ff9393"/>
<rect x="384.74" y="306.56" width="7.16" height="5.7" fill="#ffbbbb"/>
<rect x="391.9" y="306.56" width="7.16" height="5.7" fill="#ffbbbb"/>
<rect x="399.06" y="306.56" width="7.16" height="5.7" fill="#9d9dff"/>
<rect x="406.22" y="306.56" width="7.16" height="5.7" fill="#5b5bff"/>
<rect x="284.5" y="312.25" width="7.16" height="5.7" fill="#aaaaff"/>
<rect x="291.66" y="312.25" width="7.16" height="5.7" fill="#ffffff"/>
<rect x="298.82" y="312.25" width="7.16" height="5.7" fill="#fff4f4"/>
<rect x="305.98" y="312.25" width="7.16" height="5.7" fill="#ffafaf"/>
<rect x="313.14" y="312.25" width="7.16" height="5.7" fill="#ff5959"/>
<rect x="320.3" y="312.25" width="7.16" height="5.7" fill="#ff5959"/>
<rect x="327.46" y="312.25" width="7.16" height="5.7" fill="#ff5959"/>
<rect x="334.62" y="312.25" width="7.16" height="5.7" fill="#ff5959"/>
<rect x="341.78" y="312.25" width="7.16" height="5.7" fill="#dbdbff"/>
<rect x="348.94" y="312.25" width="7.16" height="5.7" fill="#ccccff"/>
<rect x="356.1" y="312.25" width="7.16" height="5.7" fill="#eaeaff"/>
<rect x="363.26" y="312.25" width="7.16" height="5.7" fill="#ffbbbb"/>
<rect x="370.42" y="312.25" width="7.16" height="5.7" fill="#ff8282"/>
<rect x="377.58" y="312.25" width="7.16" height="5.7" fill="#ff0000"/>
<rect x="384.74" y="312.25" width="7.16" height="5.7" fill="#efefff"/>
<rect x="391.9" y="312.25" width="7.16" height="5.7" fill="#ffefef"/>
<rect x="399.06" y="312.25" width="7.16" height="5.7" fill="#dbdbff"/>
<rect x="406.22" y="312.25" width="7.16" height="5.7" fill="#aaaaff"/>
<rect x="284.5" y="317.94" width="7.16" height="5.7" fill="#e5e5ff"/>
<rect x="291.66" y="317.94" width="7.16" height="5.7" fill="#ffd6d6"/>
<rect x="298.82" y="317.94" width="7.16" height="5.7" fill="#ffd6d6"/>
<rect x="305.98" y="317.94" width="7.16" height="5.7" fill="#fff4f4"/>
<rect x="313.14" y="317.94" width="7.16" height="5.7" fill="#5b5bff"/>
<rect x="320.3" y="317.94" width="7.16" height="5.7" fill="#6868ff"/>
<rect x="327.46" y="317.94" width="7.16" height="5.7" fill="#7575ff"/>
<rect x="334.62" y="317.94" width="7.16" height="5.7" fill="#6868ff"/>
<rect x="341.78" y="317.94" width="7.16" height="5.7" fill="#ffdbdb"/>
<rect x="348.94" y="317.94" width="7.16" height="5.7" fill="#ff5959"/>
<rect x="356.1" y="317.94" width="7.16" height="5.7" fill="#dbdbff"/>
<rect x="363.26" y="317.94" width="7.16" height="5.7" fill="#8989ff"/>
<rect x="370.42" y="317.94" width="7.16" height="5.7" fill="#d6d6ff"/>
<rect x="377.58" y="317.94" width="7.16" height="5.7" fill="#4747ff"/>
<rect x="384.74" y="317.94" width="7.16" height="5.7" fill="#ff9393"/>
<rect x="391.9" y="317.94" width="7.16" height="5.7" fill="#aaaaff"/>
<rect x="399.06" y="317.94" width="7.16" height="5.7" fill="#ffbbbb"/>
<rect x="406.22" y="317.94" width="7.16" height="5.7" fill="#ff9393"/>
<rect x="284.5" y="323.64" width="7.16" height="5.7" fill="#fff4f4"/>
<rect x="291.66" y="323.64" width="7.16" height="5.7" fill="#e5e5ff"/>
<rect x="298.82" y="323.64" width="7.16" height="5.7" fill="#ffffff"/>
<rect x="305.98" y="323.64" width="7.16" height="5.7" fill="#ccccff"/>
<rect x="313.14" y="323.64" width="7.16" height="5.7" fill="#ff9f9f"/>
<rect x="320.3" y="323.64" width="7.16" height="5.7" fill="#ff9393"/>
<rect x="327.46" y="323.64" width="7.16" height="5.7" fill="#ff8282"/>
<rect x="334.62" y="323.64" width="7.16" height="5.7" fill="#ff9393"/>
<rect x="341.78" y="323.64" width="7.16" height="5.7" fill="#9d9dff"/>
<rect x="348.94" y="323.64" width="7.16" height="5.7" fill="#8989ff"/>
<rect x="356.1" y="323.64" width="7.16" height="5.7" fill="#ccccff"/>
<rect x="363.26" y="323.64" width="7.16" height="5.7" fill="#ffe5e5"/>
<rect x="370.42" y="323.64" width="7.16" height="5.7" fill="#ffcccc"/>
<rect x="377.58" y="323.64" width="7.16" height="5.7" fill="#ff3e3e"/>
<rect x="384.74" y="323.64" width="7.16" height="5.7" fill="#6868ff"/>
<rect x="391.9" y="323.64" width="7.16" height="5.7" fill="#ffefef"/>
<rect x="399.06" y="323.64" width="7.16" height="5.7" fill="#ffefef"/>
<rect x="406.22" y="323.64" width="7.16" height="5.7" fill="#ccccff"/>
<rect x="284.5" y="329.34" width="7.16" height="5.7" fill="#fff4f4"/>
<rect x="291.66" y="329.34" width="7.16" height="5.7" fill="#ff5959"/>
<rect x="298.82" y="329.34" width="7.16" height="5.7" fill="#ff5959"/>
<rect x="305.98" y="329.34" width="7.16" height="5.7" fill="#ffffff"/>
<rect x="313.14" y="329.34" width="7.16" height="5.7" fill="#ffa4a4"/>
<rect x="320.3" y="329.34" width="7.16" height="5.7" fill="#ffa4a4"/>
<rect x="327.46" y="329.34" width="7.16" height="5.7" fill="#ffa4a4"/>
<rect x="334.62" y="329.34" width="7.16" height="5.7" fill="#ffafaf"/>
<rect x="341.78" y="329.34" width="7.16" height="5.7" fill="#ff4747"/>
<rect x="348.94" y="329.34" width="7.16" height="5.7" fill="#ccccff"/>
<rect x="356.1" y="329.34" width="7.16" height="5.7" fill="#ccccff"/>
<rect x="363.26" y="329.34" width="7.16" height="5.7" fill="#ffffff"/>
<rect x="370.42" y="329.34" width="7.16" height="5.7" fill="#ffbbbb"/>
<rect x="377.58" y="329.34" width="7.16" height="5.7" fill="#ffc0c0"/>
<rect x="384.74" y="329.34" width="7.16" height="5.7" fill="#ffbbbb"/>
<rect x="391.9" y="329.34" width="7.16" height="5.7" fill="#aaaaff"/>
<rect x="399.06" y="329.34" width="7.16" height="5.7" fill="#dbdbff"/>
<rect x="406.22" y="329.34" width="7.16" height="5.7" fill="#efefff"/>
<rect x="284.5" y="335.03" width="7.16" height="5.7" fill="#ffc0c0"/>
<rect x="291.66" y="335.03" width="7.16" height="5.7" fill="#ffcccc"/>
<rect x="298.82" y="335.03" width="7.16" height="5.7" fill="#ffafaf"/>
<rect x="305.98" y="335.03" width="7.16" height="5.7" fill="#ffdbdb"/>
<rect x="313.14" y="335.03" width="7.16" height="5.7" fill="#ff5959"/>
<rect x="320.3" y="335.03" width="7.16" height="5.7" fill="#ffa4a4"/>
<rect x="327.46" y="335.03" width="7.16" height="5.7" fill="#ffafaf"/>
<rect x="334.62" y="335.03" width="7.16" height="5.7" fill="#ffafaf"/>
<rect x="341.78" y="335.03" width="7.16" height="5.7" fill="#ccccff"/>
<rect x="348.94" y="335.03" width="7.16" height="5.7" fill="#9d9dff"/>
<rect x="356.1" y="335.03" width="7.16" height="5.7" fill="#7c7cff"/>
<rect x="363.26" y="335.03" width="7.16" height="5.7" fill="#ff8282"/>
<rect x="370.42" y="335.03" width="7.16" height="5.7" fill="#ffd6d6"/>
<rect x="377.58" y="335.03" width="7.16" height="5.7" fill="#ffcccc"/>
<rect x="384.74" y="335.03" width="7.16" height="5.7" fill="#9d9dff"/>
<rect x="391.9" y="335.03" width="7.16" height="5.7" fill="#ffcccc"/>
<rect x="399.06" y="335.03" width="7.16" height="5.7" fill="#aaaaff"/>
<rect x="406.22" y="335.03" width="7.16" height="5.7" fill="#8989ff"/>
<rect x="284.5" y="340.73" width="7.16" height="5.7" fill="#fff4f4"/>
<rect x="291.66" y="340.73" width="7.16" height="5.7" fill="#aaaaff"/>
<rect x="298.82" y="340.73" width="7.16" height="5.7" fill="#dbdbff"/>
<rect x="305.98" y="340.73" width="7.16" height="5.7" fill="#6868ff"/>
<rect x="313.14" y="340.73" width="7.16" height="5.7" fill="#bebeff"/>
<rect x="320.3" y="340.73" width="7.16" height="5.7" fill="#8989ff"/>
<rect x="327.46" y="340.73" width="7.16" height="5.7" fill="#8989ff"/>
<rect x="334.62" y="340.73" width="7.16" height="5.7" fill="#8989ff"/>
<rect x="341.78" y="340.73" width="7.16" height="5.7" fill="#6868ff"/>
<rect x="348.94" y="340.73" width="7.16" height="5.7" fill="#8989ff"/>
<rect x="356.1" y="340.73" width="7.16" height="5.7" fill="#b8b8ff"/>
<rect x="363.26" y="340.73" width="7.16" height="5.7" fill="#ccccff"/>
<rect x="370.42" y="340.73" width="7.16" height="5.7" fill="#eaeaff"/>
<rect x="377.58" y="340.73" width="7.16" height="5.7" fill="#4747ff"/>
<rect x="384.74" y="340.73" width="7.16" height="5.7" fill="#4747ff"/>
<rect x="391.9" y="340.73" width="7.16" height="5.7" fill="#ffcccc"/>
<rect x="399.06" y="340.73" width="7.16" height="5.7" fill="#ff8282"/>
<rect x="406.22" y="340.73" width="7.16" height="5.7" fill="#ffbbbb"/>
<rect x="284.5" y="346.42" width="7.16" height="5.7" fill="#7575ff"/>
<rect x="291.66" y="346.42" width="7.16" height="5.7" fill="#ffffff"/>
<rect x="298.82" y="346.42" width="7.16" height="5.7" fill="#fff9f9"/>
<rect x="305.98" y="346.42" width="7.16" height="5.7" fill="#ffe0e0"/>
<rect x="313.14" y="346.42" width="7.16" height="5.7" fill="#8989ff"/>
<rect x="320.3" y="346.42" width="7.16" height="5.7" fill="#7c7cff"/>
<rect x="327.46" y="346.42" width="7.16" height="5.7" fill="#6868ff"/>
<rect x="334.62" y="346.42" width="7.16" height="5.7" fill="#7c7cff"/>
<rect x="341.78" y="346.42" width="7.16" height="5.7" fill="#ffe0e0"/>
<rect x="348.94" y="346.42" width="7.16" height="5.7" fill="#d6d6ff"/>
<rect x="356.1" y="346.42" width="7.16" height="5.7" fill="#ffafaf"/>
<rect x="363.26" y="346.42" width="7.16" height="5.7" fill="#e5e5ff"/>
<rect x="370.42" y="346.42" width="7.16" height="5.7" fill="#ffeaea"/>
<rect x="377.58" y="346.42" width="7.16" height="5.7" fill="#5b5bff"/>
<rect x="384.74" y="346.42" width="7.16" height="5.7" fill="#e5e5ff"/>
<rect x="391.9" y="346.42" width="7.16" height="5.7" fill="#ffcccc"/>
<rect x="399.06" y="346.42" width="7.16" height="5.7" fill="#ffeaea"/>
<rect x="406.22" y="346.42" width="7.16" height="5.7" fill="#ffcccc"/>
<rect x="284.5" y="352.12" width="7.16" height="5.7" fill="#7c7cff"/>
<rect x="291.66" y="352.12" width="7.16" height="5.7" fill="#ffe0e0"/>
<rect x="298.82" y="352.12" width="7.16" height="5.7" fill="#ffffff"/>
<rect x="305.98" y="352.12" width="7.16" height="5.7" fill="#eaeaff"/>
<rect x="313.14" y="352.12" width="7.16" height="5.7" fill="#7c7cff"/>
<rect x="320.3" y="352.12" width="7.16" height="5.7" fill="#7c7cff"/>
<rect x="327.46" y="352.12" width="7.16" height="5.7" fill="#7c7cff"/>
<rect x="334.62" y="352.12" width="7.16" height="5.7" fill="#7c7cff"/>
<rect x="341.78" y="352.12" width="7.16" height="5.7" fill="#e5e5ff"/>
<rect x="348.94" y="352.12" width="7.16" height="5.7" fill="#dbdbff"/>
<rect x="356.1" y="352.12" width="7.16" height="5.7" fill="#9d9dff"/>
<rect x="363.26" y="352.12" width="7.16" height="5.7" fill="#2323ff"/>
<rect x="370.42" y="352.12" width="7.16" height="5.7" fill="#ffafaf"/>
<rect x="377.58" y="352.12" width="7.16" height="5.7" fill="#efefff"/>
<rect x="384.74" y="352.12" width="7.16" height="5.7" fill="#aaaaff"/>
<rect x="391.9" y="352.12" width="7.16" height="5.7" fill="#9696ff"/>
<rect x="399.06" y="352.12" width="7.16" height="5.7" fill="#ff2c2c"/>
<rect x="406.22" y="352.12" width="7.16" height="5.7" fill="#ff3e3e"/>
<rect x="284.5" y="357.81" width="7.16" height="5.7" fill="#ffcccc"/>
<rect x="291.66" y="357.81" width="7.16" height="5.7" fill="#ff5959"/>
<rect x="298.82" y="357.81" width="7.16" height="5.7" fill="#ff3e3e"/>
<rect x="305.98" y="357.81" width="7.16" height="5.7" fill="#ffbbbb"/>
<rect x="313.14" y="357.81" width="7.16" height="5.7" fill="#ffdbdb"/>
<rect x="320.3" y="357.81" width="7.16" height="5.7" fill="#ff9f9f"/>
<rect x="327.46" y="357.81" width="7.16" height="5.7" fill="#ff9393"/>
<rect x="334.62" y="357.81" width="7.16" height="5.7" fill="#ff9f9f"/>
<rect x="341.78" y="357.81" width="7.16" height="5.7" fill="#e5e5ff"/>
<rect x="348.94" y="357.81" width="7.16" height="5.7" fill="#ffafaf"/>
<rect x="356.1" y="357.81" width="7.16" height="5.7" fill="#ccccff"/>
<rect x="363.26" y="357.81" width="7.16" height="5.7" fill="#ff7676"/>
<rect x="370.42" y="357.81" width="7.16" height="5.7" fill="#ff5959"/>
<rect x="377.58" y="357.81" width="7.16" height="5.7" fill="#ff9393"/>
<rect x="384.74" y="357.81" width="7.16" height="5.7" fill="#ff9393"/>
<rect x="391.9" y="357.81" width="7.16" height="5.7" fill="#ff9393"/>
<rect x="399.06" y="357.81" width="7.16" height="5.7" fill="#7c7cff"/>
<rect x="406.22" y="357.81" width="7.16" height="5.7" fill="#6868ff"/>
<rect x="284.5" y="363.5" width="7.16" height="5.7" fill="#ffa4a4"/>
<rect x="291.66" y="363.5" width="7.16" height="5.7" fill="#ffcccc"/>
<rect x="298.82" y="363.5" width="7.16" height="5.7" fill="#ffafaf"/>
<rect x="305.98" y="363.5" width="7.16" height="5.7" fill="#bebeff"/>
<rect x="313.14" y="363.5" width="7.16" height="5.7" fill="#ff2c2c"/>
<rect x="320.3" y="363.5" width="7.16" height="5.7" fill="#ff2c2c"/>
<rect x="327.46" y="363.5" width="7.16" height="5.7" fill="#ff2c2c"/>
<rect x="334.62" y="363.5" width="7.16" height="5.7" fill="#ff2c2c"/>
<rect x="341.78" y="363.5" width="7.16" height="5.7" fill="#d6d6ff"/>
<rect x="348.94" y="363.5" width="7.16" height="5.7" fill="#ccccff"/>
<rect x="356.1" y="363.5" width="7.16" height="5.7" fill="#3939ff"/>
<rect x="363.26" y="363.5" width="7.16" height="5.7" fill="#ff9f9f"/>
<rect x="370.42" y="363.5" width="7.16" height="5.7" fill="#ffe0e0"/>
<rect x="377.58" y="363.5" width="7.16" height="5.7" fill="#ff5959"/>
<rect x="384.74" y="363.5" width="7.16" height="5.7" fill="#9d9dff"/>
<rect x="391.9" y="363.5" width="7.16" height="5.7" fill="#e5e5ff"/>
<rect x="399.06" y="363.5" width="7.16" height="5.7" fill="#ccccff"/>
<rect x="406.22" y="363.5" width="7.16" height="5.7" fill="#aaaaff"/>
<rect x="284.5" y="369.2" width="7.16" height="5.7" fill="#b8b8ff"/>
<rect x="291.66" y="369.2" width="7.16" height="5.7" fill="#8989ff"/>
<rect x="298.82" y="369.2" width="7.16" height="5.7" fill="#8989ff"/>
<rect x="305.98" y="369.2" width="7.16" height="5.7" fill="#ffcccc"/>
<rect x="313.14" y="369.2" width="7.16" height="5.7" fill="#ffa4a4"/>
<rect x="320.3" y="369.2" width="7.16" height="5.7" fill="#ff9393"/>
<rect x="327.46" y="369.2" width="7.16" height="5.7" fill="#ff9393"/>
<rect x="334.62" y="369.2" width="7.16" height="5.7" fill="#ff9f9f"/>
<rect x="341.78" y="369.2" width="7.16" height="5.7" fill="#1515ff"/>
<rect x="348.94" y="369.2" width="7.16" height="5.7" fill="#ffffff"/>
<rect x="356.1" y="369.2" width="7.16" height="5.7" fill="#bebeff"/>
<rect x="363.26" y="369.2" width="7.16" height="5.7" fill="#ffbbbb"/>
<rect x="370.42" y="369.2" width="7.16" height="5.7" fill="#b8b8ff"/>
<rect x="377.58" y="369.2" width="7.16" height="5.7" fill="#ffc0c0"/>
<rect x="384.74" y="369.2" width="7.16" height="5.7" fill="#aaaaff"/>
<rect x="391.9" y="369.2" width="7.16" height="5.7" fill="#f4f4ff"/>
<rect x="399.06" y="369.2" width="7.16" height="5.7" fill="#dbdbff"/>
<rect x="406.22" y="369.2" width="7.16" height="5.7" fill="#ccccff"/>
<rect x="284.5" y="374.9" width="7.16" height="5.7" fill="#ffeaea"/>
<rect x="291.66" y="374.9" width="7.16" height="5.7" fill="#efefff"/>
<rect x="298.82" y="374.9" width="7.16" height="5.7" fill="#ffffff"/>
<rect x="305.98" y="374.9" width="7.16" height="5.7" fill="#ffffff"/>
<rect x="313.14" y="374.9" width="7.16" height="5.7" fill="#ff5959"/>
<rect x="320.3" y="374.9" width="7.16" height="5.7" fill="#ff9393"/>
<rect x="327.46" y="374.9" width="7.16" height="5.7" fill="#ff9393"/>
<rect x="334.62" y="374.9" width="7.16" height="5.7" fill="#ff9393"/>
<rect x="341.78" y="374.9" width="7.16" height="5.7" fill="#8989ff"/>
<rect x="348.94" y="374.9" width="7.16" height="5.7" fill="#e5e5ff"/>
<rect x="356.1" y="374.9" width="7.16" height="5.7" fill="#9696ff"/>
<rect x="363.26" y="374.9" width="7.16" height="5.7" fill="#ffcccc"/>
<rect x="370.42" y="374.9" width="7.16" height="5.7" fill="#ccccff"/>
<rect x="377.58" y="374.9" width="7.16" height="5.7" fill="#ffafaf"/>
<rect x="384.74" y="374.9" width="7.16" height="5.7" fill="#b8b8ff"/>
<rect x="391.9" y="374.9" width="7.16" height="5.7" fill="#ffffff"/>
<rect x="399.06" y="374.9" width="7.16" height="5.7" fill="#e5e5ff"/>
<rect x="406.22" y="374.9" width="7.16" height="5.7" fill="#d6d6ff"/>
<rect x="284.5" y="380.59" width="7.16" height="5.7" fill="#e5e5ff"/>
<rect x="291.66" y="380.59" width="7.16" height="5.7" fill="#ffd6d6"/>
<rect x="298.82" y="380.59" width="7.16" height="5.7" fill="#ffe0e0"/>
<rect x="305.98" y="380.59" width="7.16" height="5.7" fill="#ffa4a4"/>
<rect x="313.14" y="380.59" width="7.16" height="5.7" fill="#ffd6d6"/>
<rect x="320.3" y="380.59" width="7.16" height="5.7" fill="#ffefef"/>
<rect x="327.46" y="380.59" width="7.16" height="5.7" fill="#ffefef"/>
<rect x="334.62" y="380.59" width="7.16" height="5.7" fill="#ffefef"/>
<rect x="341.78" y="380.59" width="7.16" height="5.7" fill="#e5e5ff"/>
<rect x="348.94" y="380.59" width="7.16" height="5.7" fill="#ffbbbb"/>
<rect x="356.1" y="380.59" width="7.16" height="5.7" fill="#efefff"/>
<rect x="363.26" y="380.59" width="7.16" height="5.7" fill="#ffdbdb"/>
<rect x="370.42" y="380.59" width="7.16" height="5.7" fill="#ff8282"/>
<rect x="377.58" y="380.59" width="7.16" height="5.7" fill="#ff5959"/>
<rect x="384.74" y="380.59" width="7.16" height="5.7" fill="#ffbbbb"/>
<rect x="391.9" y="380.59" width="7.16" height="5.7" fill="#ffcccc"/>
<rect x="399.06" y="380.59" width="7.16" height="5.7" fill="#ccccff"/>
<rect x="406.22" y="380.59" width="7.16" height="5.7" fill="#aaaaff"/>
<rect x="284.5" y="386.29" width="7.16" height="5.7" fill="#6868ff"/>
<rect x="291.66" y="386.29" width="7.16" height="5.7" fill="#ffcccc"/>
<rect x="298.82" y="386.29" width="7.16" height="5.7" fill="#ffe0e0"/>
<rect x="305.98" y="386.29" width="7.16" height="5.7" fill="#ffc0c0"/>
<rect x="313.14" y="386.29" width="7.16" height="5.7" fill="#ccccff"/>
<rect x="320.3" y="386.29" width="7.16" height="5.7" fill="#d6d6ff"/>
<rect x="327.46" y="386.29" width="7.16" height="5.7" fill="#bebeff"/>
<rect x="334.62" y="386.29" width="7.16" height="5.7" fill="#ccccff"/>
<rect x="341.78" y="386.29" width="7.16" height="5.7" fill="#ffbbbb"/>
<rect x="348.94" y="386.29" width="7.16" height="5.7" fill="#ffafaf"/>
<rect x="356.1" y="386.29" width="7.16" height="5.7" fill="#ff5959"/>
<rect x="363.26" y="386.29" width="7.16" height="5.7" fill="#aaaaff"/>
<rect x="370.42" y="386.29" width="7.16" height="5.7" fill="#efefff"/>
<rect x="377.58" y="386.29" width="7.16" height="5.7" fill="#ffffff"/>
<rect x="384.74" y="386.29" width="7.16" height="5.7" fill="#ffbbbb"/>
<rect x="391.9" y="386.29" width="7.16" height="5.7" fill="#e5e5ff"/>
<rect x="399.06" y="386.29" width="7.16" height="5.7" fill="#ffffff"/>
<rect x="406.22" y="386.29" width="7.16" height="5.7" fill="#ffbbbb"/>
<rect x="284.5" y="391.98" width="7.16" height="5.7" fill="#ffe0e0"/>
<rect x="291.66" y="391.98" width="7.16" height="5.7" fill="#ff5959"/>
<rect x="298.82" y="391.98" width="7.16" height="5.7" fill="#ff5959"/>
<rect x="305.98" y="391.98" width="7.16" height="5.7" fill="#ffcccc"/>
<rect x="313.14" y="391.98" width="7.16" height="5.7" fill="#ffffff"/>
<rect x="320.3" y="391.98" width="7.16" height="5.7" fill="#ffafaf"/>
<rect x="327.46" y="391.98" width="7.16" height="5.7" fill="#ffa4a4"/>
<rect x="334.62" y="391.98" width="7.16" height="5.7" fill="#ffafaf"/>
<rect x="341.78" y="391.98" width="7.16" height="5.7" fill="#ffffff"/>
<rect x="348.94" y="391.98" width="7.16" height="5.7" fill="#ffafaf"/>
<rect x="356.1" y="391.98" width="7.16" height="5.7" fill="#eaeaff"/>
<rect x="363.26" y="391.98" width="7.16" height="5.7" fill="#ff5959"/>
<rect x="370.42" y="391.98" width="7.16" height="5.7" fill="#ff5959"/>
<rect x="377.58" y="391.98" width="7.16" height="5.7" fill="#ff9393"/>
<rect x="384.74" y="391.98" width="7.16" height="5.7" fill="#ff8282"/>
<rect x="391.9" y="391.98" width="7.16" height="5.7" fill="#ff9393"/>
<rect x="399.06" y="391.98" width="7.16" height="5.7" fill="#6868ff"/>
<rect x="406.22" y="391.98" width="7.16" height="5.7" fill="#5b5bff"/>
<rect x="284.5" y="397.68" width="7.16" height="5.7" fill="#dbdbff"/>
<rect x="291.66" y="397.68" width="7.16" height="5.7" fill="#ff9393"/>
<rect x="298.82" y="397.68" width="7.16" height="5.7" fill="#ff9f9f"/>
<rect x="305.98" y="397.68" width="7.16" height="5.7" fill="#ffd6d6"/>
<rect x="313.14" y="397.68" width="7.16" height="5.7" fill="#ff9f9f"/>
<rect x="320.3" y="397.68" width="7.16" height="5.7" fill="#ff8282"/>
<rect x="327.46" y="397.68" width="7.16" height="5.7" fill="#ff7676"/>
<rect x="334.62" y="397.68" width="7.16" height="5.7" fill="#ff7676"/>
<rect x="341.78" y="397.68" width="7.16" height="5.7" fill="#ff9393"/>
<rect x="348.94" y="397.68" width="7.16" height="5.7" fill="#ffcccc"/>
<rect x="356.1" y="397.68" width="7.16" height="5.7" fill="#ffeaea"/>
<rect x="363.26" y="397.68" width="7.16" height="5.7" fill="#ffd6d6"/>
<rect x="370.42" y="397.68" width="7.16" height="5.7" fill="#ffa4a4"/>
<rect x="377.58" y="397.68" width="7.16" height="5.7" fill="#ff9393"/>
<rect x="384.74" y="397.68" width="7.16" height="5.7" fill="#ff8888"/>
<rect x="391.9" y="397.68" width="7.16" height="5.7" fill="#ffd6d6"/>
<rect x="399.06" y="397.68" width="7.16" height="5.7" fill="#aaaaff"/>
<rect x="406.22" y="397.68" width="7.16" height="5.7" fill="#aaaaff"/>
<rect x="284.5" y="403.37" width="7.16" height="5.7" fill="#e5e5ff"/>
<rect x="291.66" y="403.37" width="7.16" height="5.7" fill="#fff4f4"/>
<rect x="298.82" y="403.37" width="7.16" height="5.7" fill="#ffefef"/>
<rect x="305.98" y="403.37" width="7.16" height="5.7" fill="#ffafaf"/>
<rect x="313.14" y="403.37" width="7.16" height="5.7" fill="#ff5959"/>
<rect x="320.3" y="403.37" width="7.16" height="5.7" fill="#ff9393"/>
<rect x="327.46" y="403.37" width="7.16" height="5.7" fill="#ff9f9f"/>
<rect x="334.62" y="403.37" width="7.16" height="5.7" fill="#ff9393"/>
<rect x="341.78" y="403.37" width="7.16" height="5.7" fill="#ccccff"/>
<rect x="348.94" y="403.37" width="7.16" height="5.7" fill="#bebeff"/>
<rect x="356.1" y="403.37" width="7.16" height="5.7" fill="#ffdbdb"/>
<rect x="363.26" y="403.37" width="7.16" height="5.7" fill="#ff8888"/>
<rect x="370.42" y="403.37" width="7.16" height="5.7" fill="#ffd6d6"/>
<rect x="377.58" y="403.37" width="7.16" height="5.7" fill="#ff8282"/>
<rect x="384.74" y="403.37" width="7.16" height="5.7" fill="#f4f4ff"/>
<rect x="391.9" y="403.37" width="7.16" height="5.7" fill="#ffd6d6"/>
<rect x="399.06" y="403.37" width="7.16" height="5.7" fill="#7c7cff"/>
<rect x="406.22" y="403.37" width="7.16" height="5.7" fill="#6868ff"/>
<rect x="284.5" y="409.06" width="7.16" height="5.7" fill="#ff5959"/>
<rect x="291.66" y="409.06" width="7.16" height="5.7" fill="#ffafaf"/>
<rect x="298.82" y="409.06" width="7.16" height="5.7" fill="#ffafaf"/>
<rect x="305.98" y="409.06" width="7.16" height="5.7" fill="#6868ff"/>
<rect x="313.14" y="409.06" width="7.16" height="5.7" fill="#ccccff"/>
<rect x="320.3" y="409.06" width="7.16" height="5.7" fill="#fff9f9"/>
<rect x="327.46" y="409.06" width="7.16" height="5.7" fill="#ffeaea"/>
<rect x="334.62" y="409.06" width="7.16" height="5.7" fill="#ffffff"/>
<rect x="341.78" y="409.06" width="7.16" height="5.7" fill="#efefff"/>
<rect x="348.94" y="409.06" width="7.16" height="5.7" fill="#ffffff"/>
<rect x="356.1" y="409.06" width="7.16" height="5.7" fill="#5454ff"/>
<rect x="363.26" y="409.06" width="7.16" height="5.7" fill="#8989ff"/>
<rect x="370.42" y="409.06" width="7.16" height="5.7" fill="#aaaaff"/>
<rect x="377.58" y="409.06" width="7.16" height="5.7" fill="#ffdbdb"/>
<rect x="384.74" y="409.06" width="7.16" height="5.7" fill="#ffbbbb"/>
<rect x="391.9" y="409.06" width="7.16" height="5.7" fill="#ccccff"/>
<rect x="399.06" y="409.06" width="7.16" height="5.7" fill="#ffa4a4"/>
<rect x="406.22" y="409.06" width="7.16" height="5.7" fill="#ffc0c0"/>
<rect x="284.5" y="414.76" width="7.16" height="5.7" fill="#aaaaff"/>
<rect x="291.66" y="414.76" width="7.16" height="5.7" fill="#dbdbff"/>
<rect x="298.82" y="414.76" width="7.16" height="5.7" fill="#bebeff"/>
<rect x="305.98" y="414.76" width="7.16" height="5.7" fill="#ffafaf"/>
<rect x="313.14" y="414.76" width="7.16" height="5.7" fill="#bebeff"/>
<rect x="320.3" y="414.76" width="7.16" height="5.7" fill="#9696ff"/>
<rect x="327.46" y="414.76" width="7.16" height="5.7" fill="#aaaaff"/>
<rect x="334.62" y="414.76" width="7.16" height="5.7" fill="#9d9dff"/>
<rect x="341.78" y="414.76" width="7.16" height="5.7" fill="#ffffff"/>
<rect x="348.94" y="414.76" width="7.16" height="5.7" fill="#ffbbbb"/>
<rect x="356.1" y="414.76" width="7.16" height="5.7" fill="#ffafaf"/>
<rect x="363.26" y="414.76" width="7.16" height="5.7" fill="#9d9dff"/>
<rect x="370.42" y="414.76" width="7.16" height="5.7" fill="#ff5959"/>
<rect x="377.58" y="414.76" width="7.16" height="5.7" fill="#dbdbff"/>
<rect x="384.74" y="414.76" width="7.16" height="5.7" fill="#bebeff"/>
<rect x="391.9" y="414.76" width="7.16" height="5.7" fill="#b8b8ff"/>
<rect x="399.06" y="414.76" width="7.16" height="5.7" fill="#ffcccc"/>
<rect x="406.22" y="414.76" width="7.16" height="5.7" fill="#ffafaf"/>
<rect x="284.5" y="420.46" width="7.16" height="5.7" fill="#aaaaff"/>
<rect x="291.66" y="420.46" width="7.16" height="5.7" fill="#f4f4ff"/>
<rect x="298.82" y="420.46" width="7.16" height="5.7" fill="#dbdbff"/>
<rect x="305.98" y="420.46" width="7.16" height="5.7" fill="#f4f4ff"/>
<rect x="313.14" y="420.46" width="7.16" height="5.7" fill="#e5e5ff"/>
<rect x="320.3" y="420.46" width="7.16" height="5.7" fill="#dbdbff"/>
<rect x="327.46" y="420.46" width="7.16" height="5.7" fill="#efefff"/>
<rect x="334.62" y="420.46" width="7.16" height="5.7" fill="#dbdbff"/>
<rect x="341.78" y="420.46" width="7.16" height="5.7" fill="#e5e5ff"/>
<rect x="348.94" y="420.46" width="7.16" height="5.7" fill="#4747ff"/>
<rect x="356.1" y="420.46" width="7.16" height="5.7" fill="#ffd6d6"/>
<rect x="363.26" y="420.46" width="7.16" height="5.7" fill="#ffe5e5"/>
<rect x="370.42" y="420.46" width="7.16" height="5.7" fill="#ffffff"/>
<rect x="377.58" y="420.46" width="7.16" height="5.7" fill="#dbdbff"/>
<rect x="384.74" y="420.46" width="7.16" height="5.7" fill="#7c7cff"/>
<rect x="391.9" y="420.46" width="7.16" height="5.7" fill="#ffc0c0"/>
<rect x="399.06" y="420.46" width="7.16" height="5.7" fill="#f4f4ff"/>
<rect x="406.22" y="420.46" width="7.16" height="5.7" fill="#ffe0e0"/>
<rect x="284.5" y="426.15" width="7.16" height="5.7" fill="#5b5bff"/>
<rect x="291.66" y="426.15" width="7.16" height="5.7" fill="#ffeaea"/>
<rect x="298.82" y="426.15" width="7.16" height="5.7" fill="#dbdbff"/>
<rect x="305.98" y="426.15" width="7.16" height="5.7" fill="#ffafaf"/>
<rect x="313.14" y="426.15" width="7.16" height="5.7" fill="#6868ff"/>
<rect x="320.3" y="426.15" width="7.16" height="5.7" fill="#2323ff"/>
<rect x="327.46" y="426.15" width="7.16" height="5.7" fill="#3131ff"/>
<rect x="334.62" y="426.15" width="7.16" height="5.7" fill="#2323ff"/>
<rect x="341.78" y="426.15" width="7.16" height="5.7" fill="#ccccff"/>
<rect x="348.94" y="426.15" width="7.16" height="5.7" fill="#dbdbff"/>
<rect x="356.1" y="426.15" width="7.16" height="5.7" fill="#ff8282"/>
<rect x="363.26" y="426.15" width="7.16" height="5.7" fill="#ccccff"/>
<rect x="370.42" y="426.15" width="7.16" height="5.7" fill="#ffafaf"/>
<rect x="377.58" y="426.15" width="7.16" height="5.7" fill="#dbdbff"/>
<rect x="384.74" y="426.15" width="7.16" height="5.7" fill="#aaaaff"/>
<rect x="391.9" y="426.15" width="7.16" height="5.7" fill="#ffe0e0"/>
<rect x="399.06" y="426.15" width="7.16" height="5.7" fill="#ffe5e5"/>
<rect x="406.22" y="426.15" width="7.16" height="5.7" fill="#ffe0e0"/>
<rect x="284.5" y="431.85" width="7.16" height="5.7" fill="#ff5959"/>
<rect x="291.66" y="431.85" width="7.16" height="5.7" fill="#ff5959"/>
<rect x="298.82" y="431.85" width="7.16" height="5.7" fill="#ff5959"/>
<rect x="305.98" y="431.85" width="7.16" height="5.7" fill="#ffcccc"/>
<rect x="313.14" y="431.85" width="7.16" height="5.7" fill="#ffffff"/>
<rect x="320.3" y="431.85" width="7.16" height="5.7" fill="#fff9f9"/>
<rect x="327.46" y="431.85" width="7.16" height="5.7" fill="#efefff"/>
<rect x="334.62" y="431.85" width="7.16" height="5.7" fill="#f4f4ff"/>
<rect x="341.78" y="431.85" width="7.16" height="5.7" fill="#dbdbff"/>
<rect x="348.94" y="431.85" width="7.16" height="5.7" fill="#ffafaf"/>
<rect x="356.1" y="431.85" width="7.16" height="5.7" fill="#aaaaff"/>
<rect x="363.26" y="431.85" width="7.16" height="5.7" fill="#ffa4a4"/>
<rect x="370.42" y="431.85" width="7.16" height="5.7" fill="#ff7676"/>
<rect x="377.58" y="431.85" width="7.16" height="5.7" fill="#9d9dff"/>
<rect x="384.74" y="431.85" width="7.16" height="5.7" fill="#ffcccc"/>
<rect x="391.9" y="431.85" width="7.16" height="5.7" fill="#ffcccc"/>
<rect x="399.06" y="431.85" width="7.16" height="5.7" fill="#b8b8ff"/>
<rect x="406.22" y="431.85" width="7.16" height="5.7" fill="#d6d6ff"/>
<rect x="284.5" y="437.54" width="7.16" height="5.7" fill="#ccccff"/>
<rect x="291.66" y="437.54" width="7.16" height="5.7" fill="#aaaaff"/>
<rect x="298.82" y="437.54" width="7.16" height="5.7" fill="#bebeff"/>
<rect x="305.98" y="437.54" width="7.16" height="5.7" fill="#ff9f9f"/>
<rect x="313.14" y="437.54" width="7.16" height="5.7" fill="#ff1a1a"/>
<rect x="320.3" y="437.54" width="7.16" height="5.7" fill="#ff1a1a"/>
<rect x="327.46" y="437.54" width="7.16" height="5.7" fill="#ff1a1a"/>
<rect x="334.62" y="437.54" width="7.16" height="5.7" fill="#ff1a1a"/>
<rect x="341.78" y="437.54" width="7.16" height="5.7" fill="#ccccff"/>
<rect x="348.94" y="437.54" width="7.16" height="5.7" fill="#9d9dff"/>
<rect x="356.1" y="437.54" width="7.16" height="5.7" fill="#ffbbbb"/>
<rect x="363.26" y="437.54" width="7.16" height="5.7" fill="#ff9f9f"/>
<rect x="370.42" y="437.54" width="7.16" height="5.7" fill="#ffbbbb"/>
<rect x="377.58" y="437.54" width="7.16" height="5.7" fill="#ff2c2c"/>
<rect x="384.74" y="437.54" width="7.16" height="5.7" fill="#9d9dff"/>
<rect x="391.9" y="437.54" width="7.16" height="5.7" fill="#ffcccc"/>
<rect x="399.06" y="437.54" width="7.16" height="5.7" fill="#b8b8ff"/>
<rect x="406.22" y="437.54" width="7.16" height="5.7" fill="#6868ff"/>
<rect x="284.5" y="443.24" width="7.16" height="5.7" fill="#fff4f4"/>
<rect x="291.66" y="443.24" width="7.16" height="5.7" fill="#d6d6ff"/>
<rect x="298.82" y="443.24" width="7.16" height="5.7" fill="#ccccff"/>
<rect x="305.98" y="443.24" width="7.16" height="5.7" fill="#e5e5ff"/>
<rect x="313.14" y="443.24" width="7.16" height="5.7" fill="#ff5959"/>
<rect x="320.3" y="443.24" width="7.16" height="5.7" fill="#ff5959"/>
<rect x="327.46" y="443.24" width="7.16" height="5.7" fill="#ff5959"/>
<rect x="334.62" y="443.24" width="7.16" height="5.7" fill="#ff5959"/>
<rect x="341.78" y="443.24" width="7.16" height="5.7" fill="#bebeff"/>
<rect x="348.94" y="443.24" width="7.16" height="5.7" fill="#ccccff"/>
<rect x="356.1" y="443.24" width="7.16" height="5.7" fill="#7c7cff"/>
<rect x="363.26" y="443.24" width="7.16" height="5.7" fill="#ffcccc"/>
<rect x="370.42" y="443.24" width="7.16" height="5.7" fill="#dbdbff"/>
<rect x="377.58" y="443.24" width="7.16" height="5.7" fill="#ffa4a4"/>
<rect x="384.74" y="443.24" width="7.16" height="5.7" fill="#dbdbff"/>
<rect x="391.9" y="443.24" width="7.16" height="5.7" fill="#ffffff"/>
<rect x="399.06" y="443.24" width="7.16" height="5.7" fill="#f4f4ff"/>
<rect x="406.22" y="443.24" width="7.16" height="5.7" fill="#bebeff"/>
<rect x="284.5" y="448.93" width="7.16" height="5.7" fill="#3939ff"/>
<rect x="291.66" y="448.93" width="7.16" height="5.7" fill="#dbdbff"/>
<rect x="298.82" y="448.93" width="7.16" height="5.7" fill="#f4f4ff"/>
<rect x="305.98" y="448.93" width="7.16" height="5.7" fill="#ffbbbb"/>
<rect x="313.14" y="448.93" width="7.16" height="5.7" fill="#ffcccc"/>
<rect x="320.3" y="448.93" width="7.16" height="5.7" fill="#ffdbdb"/>
<rect x="327.46" y="448.93" width="7.16" height="5.7" fill="#ffcccc"/>
<rect x="334.62" y="448.93" width="7.16" height="5.7" fill="#ffdbdb"/>
<rect x="341.78" y="448.93" width="7.16" height="5.7" fill="#7575ff"/>
<rect x="348.94" y="448.93" width="7.16" height="5.7" fill="#ccccff"/>
<rect x="356.1" y="448.93" width="7.16" height="5.7" fill="#ffffff"/>
<rect x="363.26" y="448.93" width="7.16" height="5.7" fill="#ffffff"/>
<rect x="370.42" y="448.93" width="7.16" height="5.7" fill="#ff8282"/>
<rect x="377.58" y="448.93" width="7.16" height="5.7" fill="#ffa4a4"/>
<rect x="384.74" y="448.93" width="7.16" height="5.7" fill="#5b5bff"/>
<rect x="391.9" y="448.93" width="7.16" height="5.7" fill="#ffffff"/>
<rect x="399.06" y="448.93" width="7.16" height="5.7" fill="#ffcccc"/>
<rect x="406.22" y="448.93" width="7.16" height="5.7" fill="#ccccff"/>
<rect x="284.5" y="454.62" width="7.16" height="5.7" fill="#ffd6d6"/>
<rect x="291.66" y="454.62" width="7.16" height="5.7" fill="#ffbbbb"/>
<rect x="298.82" y="454.62" width="7.16" height="5.7" fill="#ffbbbb"/>
<rect x="305.98" y="454.62" width="7.16" height="5.7" fill="#ffcccc"/>
<rect x="313.14" y="454.62" width="7.16" height="5.7" fill="#ff5959"/>
<rect x="320.3" y="454.62" width="7.16" height="5.7" fill="#ff9393"/>
<rect x="327.46" y="454.62" width="7.16" height="5.7" fill="#ff9393"/>
<rect x="334.62" y="454.62" width="7.16" height="5.7" fill="#ff9393"/>
<rect x="341.78" y="454.62" width="7.16" height="5.7" fill="#f4f4ff"/>
<rect x="348.94" y="454.62" width="7.16" height="5.7" fill="#f4f4ff"/>
<rect x="356.1" y="454.62" width="7.16" height="5.7" fill="#ffffff"/>
<rect x="363.26" y="454.62" width="7.16" height="5.7" fill="#ff5959"/>
<rect x="370.42" y="454.62" width="7.16" height="5.7" fill="#ffa4a4"/>
<rect x="377.58" y="454.62" width="7.16" height="5.7" fill="#ff4747"/>
<rect x="384.74" y="454.62" width="7.16" height="5.7" fill="#ffe0e0"/>
<rect x="391.9" y="454.62" width="7.16" height="5.7" fill="#ffc0c0"/>
<rect x="399.06" y="454.62" width="7.16" height="5.7" fill="#4747ff"/>
<rect x="406.22" y="454.62" width="7.16" height="5.7" fill="#4747ff"/>
<rect x="284.5" y="460.32" width="7.16" height="5.7" fill="#e5e5ff"/>
<rect x="291.66" y="460.32" width="7.16" height="5.7" fill="#e5e5ff"/>
<rect x="298.82" y="460.32" width="7.16" height="5.7" fill="#e5e5ff"/>
<rect x="305.98" y="460.32" width="7.16" height="5.7" fill="#ffdbdb"/>
<rect x="313.14" y="460.32" width="7.16" height="5.7" fill="#ff5959"/>
<rect x="320.3" y="460.32" width="7.16" height="5.7" fill="#ff9393"/>
<rect x="327.46" y="460.32" width="7.16" height="5.7" fill="#ff9393"/>
<rect x="334.62" y="460.32" width="7.16" height="5.7" fill="#ff9393"/>
<rect x="341.78" y="460.32" width="7.16" height="5.7" fill="#ffeaea"/>
<rect x="348.94" y="460.32" width="7.16" height="5.7" fill="#ffffff"/>
<rect x="356.1" y="460.32" width="7.16" height="5.7" fill="#ccccff"/>
<rect x="363.26" y="460.32" width="7.16" height="5.7" fill="#ffafaf"/>
<rect x="370.42" y="460.32" width="7.16" height="5.7" fill="#ffbbbb"/>
<rect x="377.58" y="460.32" width="7.16" height="5.7" fill="#ff9393"/>
<rect x="384.74" y="460.32" width="7.16" height="5.7" fill="#ffe0e0"/>
<rect x="391.9" y="460.32" width="7.16" height="5.7" fill="#e5e5ff"/>
<rect x="399.06" y="460.32" width="7.16" height="5.7" fill="#8989ff"/>
<rect x="406.22" y="460.32" width="7.16" height="5.7" fill="#aaaaff"/>
<rect x="284.5" y="466.02" width="7.16" height="5.7" fill="#3939ff"/>
<rect x="291.66" y="466.02" width="7.16" height="5.7" fill="#bebeff"/>
<rect x="298.82" y="466.02" width="7.16" height="5.7" fill="#9d9dff"/>
<rect x="305.98" y="466.02" width="7.16" height="5.7" fill="#ffcccc"/>
<rect x="313.14" y="466.02" width="7.16" height="5.7" fill="#ffe5e5"/>
<rect x="320.3" y="466.02" width="7.16" height="5.7" fill="#ffcccc"/>
<rect x="327.46" y="466.02" width="7.16" height="5.7" fill="#ffcccc"/>
<rect x="334.62" y="466.02" width="7.16" height="5.7" fill="#ffcccc"/>
<rect x="341.78" y="466.02" width="7.16" height="5.7" fill="#ffffff"/>
<rect x="348.94" y="466.02" width="7.16" height="5.7" fill="#ffe0e0"/>
<rect x="356.1" y="466.02" width="7.16" height="5.7" fill="#ffffff"/>
<rect x="363.26" y="466.02" width="7.16" height="5.7" fill="#ccccff"/>
<rect x="370.42" y="466.02" width="7.16" height="5.7" fill="#ffe5e5"/>
<rect x="377.58" y="466.02" width="7.16" height="5.7" fill="#ffdbdb"/>
<rect x="384.74" y="466.02" width="7.16" height="5.7" fill="#eaeaff"/>
<rect x="391.9" y="466.02" width="7.16" height="5.7" fill="#8989ff"/>
<rect x="399.06" y="466.02" width="7.16" height="5.7" fill="#ffd6d6"/>
<rect x="406.22" y="466.02" width="7.16" height="5.7" fill="#ffeaea"/>
<rect x="284.5" y="471.71" width="7.16" height="5.7" fill="#ffafaf"/>
<rect x="291.66" y="471.71" width="7.16" height="5.7" fill="#ff5959"/>
<rect x="298.82" y="471.71" width="7.16" height="5.7" fill="#ff6464"/>
<rect x="305.98" y="471.71" width="7.16" height="5.7" fill="#ffdbdb"/>
<rect x="313.14" y="471.71" width="7.16" height="5.7" fill="#ffe5e5"/>
<rect x="320.3" y="471.71" width="7.16" height="5.7" fill="#ffdbdb"/>
<rect x="327.46" y="471.71" width="7.16" height="5.7" fill="#ffefef"/>
<rect x="334.62" y="471.71" width="7.16" height="5.7" fill="#ffeaea"/>
<rect x="341.78" y="471.71" width="7.16" height="5.7" fill="#eaeaff"/>
<rect x="348.94" y="471.71" width="7.16" height="5.7" fill="#ffafaf"/>
<rect x="356.1" y="471.71" width="7.16" height="5.7" fill="#8989ff"/>
<rect x="363.26" y="471.71" width="7.16" height="5.7" fill="#ffe0e0"/>
<rect x="370.42" y="471.71" width="7.16" height="5.7" fill="#ffc0c0"/>
<rect x="377.58" y="471.71" width="7.16" height="5.7" fill="#fff9f9"/>
<rect x="384.74" y="471.71" width="7.16" height="5.7" fill="#ffafaf"/>
<rect x="391.9" y="471.71" width="7.16" height="5.7" fill="#eaeaff"/>
<rect x="399.06" y="471.71" width="7.16" height="5.7" fill="#d6d6ff"/>
<rect x="406.22" y="471.71" width="7.16" height="5.7" fill="#ffcccc"/>
<rect x="284.5" y="477.41" width="7.16" height="5.7" fill="#aaaaff"/>
<rect x="291.66" y="477.41" width="7.16" height="5.7" fill="#ccccff"/>
<rect x="298.82" y="477.41" width="7.16" height="5.7" fill="#b8b8ff"/>
<rect x="305.98" y="477.41" width="7.16" height="5.7" fill="#ffc0c0"/>
<rect x="313.14" y="477.41" width="7.16" height="5.7" fill="#ffa4a4"/>
<rect x="320.3" y="477.41" width="7.16" height="5.7" fill="#ffcccc"/>
<rect x="327.46" y="477.41" width="7.16" height="5.7" fill="#ffcccc"/>
<rect x="334.62" y="477.41" width="7.16" height="5.7" fill="#ffcccc"/>
<rect x="341.78" y="477.41" width="7.16" height="5.7" fill="#8989ff"/>
<rect x="348.94" y="477.41" width="7.16" height="5.7" fill="#ffafaf"/>
<rect x="356.1" y="477.41" width="7.16" height="5.7" fill="#dbdbff"/>
<rect x="363.26" y="477.41" width="7.16" height="5.7" fill="#efefff"/>
<rect x="370.42" y="477.41" width="7.16" height="5.7" fill="#ffe0e0"/>
<rect x="377.58" y="477.41" width="7.16" height="5.7" fill="#ff5959"/>
<rect x="384.74" y="477.41" width="7.16" height="5.7" fill="#ffdbdb"/>
<rect x="391.9" y="477.41" width="7.16" height="5.7" fill="#efefff"/>
<rect x="399.06" y="477.41" width="7.16" height="5.7" fill="#e5e5ff"/>
<rect x="406.22" y="477.41" width="7.16" height="5.7" fill="#efefff"/>
<rect x="284.5" y="483.1" width="7.16" height="5.7" fill="#dbdbff"/>
<rect x="291.66" y="483.1" width="7.16" height="5.7" fill="#e5e5ff"/>
<rect x="298.82" y="483.1" width="7.16" height="5.7" fill="#f4f4ff"/>
<rect x="305.98" y="483.1" width="7.16" height="5.7" fill="#ffd6d6"/>
<rect x="313.14" y="483.1" width="7.16" height="5.7" fill="#ff0000"/>
<rect x="320.3" y="483.1" width="7.16" height="5.7" fill="#ff2c2c"/>
<rect x="327.46" y="483.1" width="7.16" height="5.7" fill="#ff3e3e"/>
<rect x="334.62" y="483.1" width="7.16" height="5.7" fill="#ff2c2c"/>
<rect x="341.78" y="483.1" width="7.16" height="5.7" fill="#ffe5e5"/>
<rect x="348.94" y="483.1" width="7.16" height="5.7" fill="#ccccff"/>
<rect x="356.1" y="483.1" width="7.16" height="5.7" fill="#b8b8ff"/>
<rect x="363.26" y="483.1" width="7.16" height="5.7" fill="#ffe5e5"/>
<rect x="370.42" y="483.1" width="7.16" height="5.7" fill="#ffcccc"/>
<rect x="377.58" y="483.1" width="7.16" height="5.7" fill="#ff2c2c"/>
<rect x="384.74" y="483.1" width="7.16" height="5.7" fill="#ccccff"/>
<rect x="391.9" y="483.1" width="7.16" height="5.7" fill="#ccccff"/>
<rect x="399.06" y="483.1" width="7.16" height="5.7" fill="#dbdbff"/>
<rect x="406.22" y="483.1" width="7.16" height="5.7" fill="#ccccff"/>
<rect x="284.5" y="488.8" width="7.16" height="5.7" fill="#fff4f4"/>
<rect x="291.66" y="488.8" width="7.16" height="5.7" fill="#ffeaea"/>
<rect x="298.82" y="488.8" width="7.16" height="5.7" fill="#ffdbdb"/>
<rect x="305.98" y="488.8" width="7.16" height="5.7" fill="#fff9f9"/>
<rect x="313.14" y="488.8" width="7.16" height="5.7" fill="#ff5959"/>
<rect x="320.3" y="488.8" width="7.16" height="5.7" fill="#ff8282"/>
<rect x="327.46" y="488.8" width="7.16" height="5.7" fill="#ff8282"/>
<rect x="334.62" y="488.8" width="7.16" height="5.7" fill="#ff8888"/>
<rect x="341.78" y="488.8" width="7.16" height="5.7" fill="#ffd6d6"/>
<rect x="348.94" y="488.8" width="7.16" height="5.7" fill="#ccccff"/>
<rect x="356.1" y="488.8" width="7.16" height="5.7" fill="#e5e5ff"/>
<rect x="363.26" y="488.8" width="7.16" height="5.7" fill="#ffbbbb"/>
<rect x="370.42" y="488.8" width="7.16" height="5.7" fill="#ffcccc"/>
<rect x="377.58" y="488.8" width="7.16" height="5.7" fill="#ffafaf"/>
<rect x="384.74" y="488.8" width="7.16" height="5.7" fill="#ffd6d6"/>
<rect x="391.9" y="488.8" width="7.16" height="5.7" fill="#ffafaf"/>
<rect x="399.06" y="488.8" width="7.16" height="5.7" fill="#aaaaff"/>
<rect x="406.22" y="488.8" width="7.16" height="5.7" fill="#9696ff"/>
<rect x="284.5" y="494.49" width="7.16" height="5.7" fill="#ffa4a4"/>
<rect x="291.66" y="494.49" width="7.16" height="5.7" fill="#ffa4a4"/>
<rect x="298.82" y="494.49" width="7.16" height="5.7" fill="#ffa4a4"/>
<rect x="305.98" y="494.49" width="7.16" height="5.7" fill="#ffd6d6"/>
<rect x="313.14" y="494.49" width="7.16" height="5.7" fill="#ff9393"/>
<rect x="320.3" y="494.49" width="7.16" height="5.7" fill="#ff9f9f"/>
<rect x="327.46" y="494.49" width="7.16" height="5.7" fill="#ffa4a4"/>
<rect x="334.62" y="494.49" width="7.16" height="5.7" fill="#ff9f9f"/>
<rect x="341.78" y="494.49" width="7.16" height="5.7" fill="#ff8888"/>
<rect x="348.94" y="494.49" width="7.16" height="5.7" fill="#aaaaff"/>
<rect x="356.1" y="494.49" width="7.16" height="5.7" fill="#ffbbbb"/>
<rect x="363.26" y="494.49" width="7.16" height="5.7" fill="#ff8282"/>
<rect x="370.42" y="494.49" width="7.16" height="5.7" fill="#ffffff"/>
<rect x="377.58" y="494.49" width="7.16" height="5.7" fill="#ffcccc"/>
<rect x="384.74" y="494.49" width="7.16" height="5.7" fill="#ffffff"/>
<rect x="391.9" y="494.49" width="7.16" height="5.7" fill="#ffbbbb"/>
<rect x="399.06" y="494.49" width="7.16" height="5.7" fill="#3939ff"/>
<rect x="406.22" y="494.49" width="7.16" height="5.7" fill="#8989ff"/>
<path d="M284.5 27.5V500.19M291.66 27.5V500.19M298.82 27.5V500.19M305.98 27.5V500.19M313.14 27.5V500.19M320.3 27.5V500.19M327.46 27.5V500.19M334.62 27.5V500.19M341.78 27.5V500.19M348.94 27.5V500.19M356.1 27.5V500.19M363.26 27.5V500.19M370.42 27.5V500.19M377.58 27.5V500.19M384.74 27.5V500.19M391.9 27.5V500.19M399.06 27.5V500.19M406.22 27.5V500.19M413.38 27.5V500.19M284.5 27.5H413.38M284.5 33.2H413.38M284.5 38.89H413.38M284.5 44.59H413.38M284.5 50.28H413.38M284.5 55.98H413.38M284.5 61.67H413.38M284.5 67.37H413.38M284.5 73.06H413.38M284.5 78.75H413.38M284.5 84.45H413.38M284.5 90.15H413.38M284.5 95.84H413.38M284.5 101.53H413.38M284.5 107.23H413.38M284.5 112.93H413.38M284.5 118.62H413.38M284.5 124.31H413.38M284.5 130.01H413.38M284.5 135.71H413.38M284.5 141.4H413.38M284.5 147.09H413.38M284.5 152.79H413.38M284.5 158.49H413.38M284.5 164.18H413.38M284.5 169.88H413.38M284.5 175.57H413.38M284.5 181.27H413.38M284.5 186.96H413.38M284.5 192.66H413.38M284.5 198.35H413.38M284.5 204.05H413.38M284.5 209.74H413.38M284.5 215.44H413.38M284.5 221.13H413.38M284.5 226.83H413.38M284.5 232.52H413.38M284.5 238.22H413.38M284.5 243.91H413.38M284.5 249.61H413.38M284.5 255.3H413.38M284.5 261H413.38M284.5 266.69H413.38M284.5 272.38H413.38M284.5 278.08H413.38M284.5 283.78H413.38M284.5 289.47H413.38M284.5 295.17H413.38M284.5 300.86H413.38M284.5 306.56H413.38M284.5 312.25H413.38M284.5 317.94H413.38M284.5 323.64H413.38M284.5 329.34H413.38M284.5 335.03H413.38M284.5 340.73H413.38M284.5 346.42H413.38M284.5 352.12H413.38M284.5 357.81H413.38M284.5 363.5H413.38M284.5 369.2H413.38M284.5 374.9H413.38M284.5 380.59H413.38M284.5 386.29H413.38M284.5 391.98H413.38M284.5 397.68H413.38M284.5 403.37H413.38M284.5 409.06H413.38M284.5 414.76H413.38M284.5 420.46H413.38M284.5 426.15H413.38M284.5 431.85H413.38M284.5 437.54H413.38M284.5 443.24H413.38M284.5 448.93H413.38M284.5 454.62H413.38M284.5 460.32H413.38M284.5 466.02H413.38M284.5 471.71H413.38M284.5 477.41H413.38M284.5 483.1H413.38M284.5 488.8H413.38M284.5 494.49H413.38M284.5 500.19H413.38" stroke="#000" stroke-width="0.95" fill="none"/>
<rect x="401.94" y="29.15" width="1.4" height="1.25" fill="#000"/>
<rect x="366.14" y="34.84" width="1.4" height="1.25" fill="#000"/>
<rect x="316.02" y="40.54" width="1.4" height="1.25" fill="#000"/>
<rect x="379.41" y="40.54" width="1.45" height="1.25" fill="#000"/><rect x="381.46" y="40.54" width="1.45" height="1.25" fill="#000"/>
<rect x="314.97" y="46.23" width="1.45" height="1.25" fill="#000"/><rect x="317.02" y="46.23" width="1.45" height="1.25" fill="#000"/>
<rect x="322.13" y="46.23" width="1.45" height="1.25" fill="#000"/><rect x="324.18" y="46.23" width="1.45" height="1.25" fill="#000"/>
<rect x="330.34" y="46.23" width="1.4" height="1.25" fill="#000"/>
<rect x="336.45" y="46.23" width="1.45" height="1.25" fill="#000"/><rect x="338.5" y="46.23" width="1.45" height="1.25" fill="#000"/>
<rect x="365.09" y="46.23" width="1.45" height="1.25" fill="#000"/><rect x="367.14" y="46.23" width="1.45" height="1.25" fill="#000"/>
<rect x="379.41" y="46.23" width="1.45" height="1.25" fill="#000"/><rect x="381.46" y="46.23" width="1.45" height="1.25" fill="#000"/>
<rect x="400.89" y="46.23" width="1.45" height="1.25" fill="#000"/><rect x="402.94" y="46.23" width="1.45" height="1.25" fill="#000"/>
<rect x="408.05" y="46.23" width="1.45" height="1.25" fill="#000"/><rect x="410.1" y="46.23" width="1.45" height="1.25" fill="#000"/>
<rect x="323.18" y="51.93" width="1.4" height="1.25" fill="#000"/>
<rect x="351.82" y="57.62" width="1.4" height="1.25" fill="#000"/>
<rect x="387.62" y="57.62" width="1.4" height="1.25" fill="#000"/>
<rect x="323.18" y="63.32" width="1.4" height="1.25" fill="#000"/>
<rect x="330.34" y="63.32" width="1.4" height="1.25" fill="#000"/>
<rect x="337.5" y="63.32" width="1.4" height="1.25" fill="#000"/>
<rect x="351.82" y="63.32" width="1.4" height="1.25" fill="#000"/>
<rect x="387.62" y="63.32" width="1.4" height="1.25" fill="#000"/>
<rect x="380.46" y="69.02" width="1.4" height="1.25" fill="#000"/>
<rect x="323.18" y="74.71" width="1.4" height="1.25" fill="#000"/>
<rect x="330.34" y="74.71" width="1.4" height="1.25" fill="#000"/>
<rect x="337.5" y="74.71" width="1.4" height="1.25" fill="#000"/>
<rect x="380.46" y="80.41" width="1.4" height="1.25" fill="#000"/>
<rect x="380.46" y="86.1" width="1.4" height="1.25" fill="#000"/>
<rect x="380.46" y="91.8" width="1.4" height="1.25" fill="#000"/>
<rect x="366.14" y="97.49" width="1.4" height="1.25" fill="#000"/>
<rect x="401.94" y="97.49" width="1.4" height="1.25" fill="#000"/>
<rect x="316.02" y="103.19" width="1.4" height="1.25" fill="#000"/>
<rect x="316.02" y="108.88" width="1.4" height="1.25" fill="#000"/>
<rect x="380.46" y="108.88" width="1.4" height="1.25" fill="#000"/>
<rect x="401.94" y="108.88" width="1.4" height="1.25" fill="#000"/>
<rect x="380.46" y="114.58" width="1.4" height="1.25" fill="#000"/>
<rect x="316.02" y="120.27" width="1.4" height="1.25" fill="#000"/>
<rect x="380.46" y="120.27" width="1.4" height="1.25" fill="#000"/>
<rect x="316.02" y="125.97" width="1.4" height="1.25" fill="#000"/>
<rect x="323.18" y="125.97" width="1.4" height="1.25" fill="#000"/>
<rect x="330.34" y="125.97" width="1.4" height="1.25" fill="#000"/>
<rect x="337.5" y="125.97" width="1.4" height="1.25" fill="#000"/>
<rect x="380.46" y="125.97" width="1.4" height="1.25" fill="#000"/>
<rect x="316.02" y="131.66" width="1.4" height="1.25" fill="#000"/>
<rect x="314.97" y="137.36" width="1.45" height="1.25" fill="#000"/><rect x="317.02" y="137.36" width="1.45" height="1.25" fill="#000"/>
<rect x="323.18" y="137.36" width="1.4" height="1.25" fill="#000"/>
<rect x="330.34" y="137.36" width="1.4" height="1.25" fill="#000"/>
<rect x="337.5" y="137.36" width="1.4" height="1.25" fill="#000"/>
<rect x="366.14" y="137.36" width="1.4" height="1.25" fill="#000"/>
<rect x="380.46" y="137.36" width="1.4" height="1.25" fill="#000"/>
<rect x="401.94" y="137.36" width="1.4" height="1.25" fill="#000"/>
<rect x="409.1" y="137.36" width="1.4" height="1.25" fill="#000"/>
<rect x="373.3" y="143.05" width="1.4" height="1.25" fill="#000"/>
<rect x="380.46" y="148.75" width="1.4" height="1.25" fill="#000"/>
<rect x="380.46" y="154.44" width="1.4" height="1.25" fill="#000"/>
<rect x="387.62" y="160.14" width="1.4" height="1.25" fill="#000"/>
<rect x="358.98" y="165.83" width="1.4" height="1.25" fill="#000"/>
<rect x="287.38" y="171.53" width="1.4" height="1.25" fill="#000"/>
<rect x="287.38" y="177.22" width="1.4" height="1.25" fill="#000"/>
<rect x="401.94" y="182.92" width="1.4" height="1.25" fill="#000"/>
<rect x="380.46" y="188.61" width="1.4" height="1.25" fill="#000"/>
<rect x="316.02" y="194.31" width="1.4" height="1.25" fill="#000"/>
<rect x="323.18" y="194.31" width="1.4" height="1.25" fill="#000"/>
<rect x="330.34" y="194.31" width="1.4" height="1.25" fill="#000"/>
<rect x="337.5" y="194.31" width="1.4" height="1.25" fill="#000"/>
<rect x="366.14" y="200" width="1.4" height="1.25" fill="#000"/>
<rect x="393.73" y="200" width="1.45" height="1.25" fill="#000"/><rect x="395.78" y="200" width="1.45" height="1.25" fill="#000"/>
<rect x="401.94" y="200" width="1.4" height="1.25" fill="#000"/>
<rect x="409.1" y="200" width="1.4" height="1.25" fill="#000"/>
<rect x="316.02" y="205.7" width="1.4" height="1.25" fill="#000"/>
<rect x="323.18" y="205.7" width="1.4" height="1.25" fill="#000"/>
<rect x="329.29" y="205.7" width="1.45" height="1.25" fill="#000"/><rect x="331.34" y="205.7" width="1.45" height="1.25" fill="#000"/>
<rect x="336.45" y="205.7" width="1.45" height="1.25" fill="#000"/><rect x="338.5" y="205.7" width="1.45" height="1.25" fill="#000"/>
<rect x="358.98" y="211.39" width="1.4" height="1.25" fill="#000"/>
<rect x="323.18" y="217.09" width="1.4" height="1.25" fill="#000"/>
<rect x="323.18" y="222.78" width="1.4" height="1.25" fill="#000"/>
<rect x="337.5" y="222.78" width="1.4" height="1.25" fill="#000"/>
<rect x="351.82" y="222.78" width="1.4" height="1.25" fill="#000"/>
<rect x="373.3" y="222.78" width="1.4" height="1.25" fill="#000"/>
<rect x="379.41" y="222.78" width="1.45" height="1.25" fill="#000"/><rect x="381.46" y="222.78" width="1.45" height="1.25" fill="#000"/>
<rect x="409.1" y="222.78" width="1.4" height="1.25" fill="#000"/>
<rect x="287.38" y="228.48" width="1.4" height="1.25" fill="#000"/>
<rect x="366.14" y="228.48" width="1.4" height="1.25" fill="#000"/>
<rect x="366.14" y="234.17" width="1.4" height="1.25" fill="#000"/>
<rect x="373.3" y="234.17" width="1.4" height="1.25" fill="#000"/>
<rect x="380.46" y="234.17" width="1.4" height="1.25" fill="#000"/>
<rect x="394.78" y="234.17" width="1.4" height="1.25" fill="#000"/>
<rect x="400.89" y="234.17" width="1.45" height="1.25" fill="#000"/><rect x="402.94" y="234.17" width="1.45" height="1.25" fill="#000"/>
<rect x="409.1" y="234.17" width="1.4" height="1.25" fill="#000"/>
<rect x="365.09" y="239.87" width="1.45" height="1.25" fill="#000"/><rect x="367.14" y="239.87" width="1.45" height="1.25" fill="#000"/>
<rect x="394.78" y="239.87" width="1.4" height="1.25" fill="#000"/>
<rect x="400.89" y="239.87" width="1.45" height="1.25" fill="#000"/><rect x="402.94" y="239.87" width="1.45" height="1.25" fill="#000"/>
<rect x="409.1" y="239.87" width="1.4" height="1.25" fill="#000"/>
<rect x="372.25" y="245.56" width="1.45" height="1.25" fill="#000"/><rect x="374.3" y="245.56" width="1.45" height="1.25" fill="#000"/>
<rect x="379.41" y="245.56" width="1.45" height="1.25" fill="#000"/><rect x="381.46" y="245.56" width="1.45" height="1.25" fill="#000"/>
<rect x="409.1" y="245.56" width="1.4" height="1.25" fill="#000"/>
<rect x="394.78" y="251.26" width="1.4" height="1.25" fill="#000"/>
<rect x="322.13" y="256.95" width="1.45" height="1.25" fill="#000"/><rect x="324.18" y="256.95" width="1.45" height="1.25" fill="#000"/>
<rect x="329.29" y="256.95" width="1.45" height="1.25" fill="#000"/><rect x="331.34" y="256.95" width="1.45" height="1.25" fill="#000"/>
<rect x="336.45" y="256.95" width="1.45" height="1.25" fill="#000"/><rect x="338.5" y="256.95" width="1.45" height="1.25" fill="#000"/>
<rect x="366.14" y="262.64" width="1.4" height="1.25" fill="#000"/>
<rect x="358.98" y="268.34" width="1.4" height="1.25" fill="#000"/>
<rect x="380.46" y="274.03" width="1.4" height="1.25" fill="#000"/>
<rect x="379.41" y="279.73" width="1.45" height="1.25" fill="#000"/><rect x="381.46" y="279.73" width="1.45" height="1.25" fill="#000"/>
<rect x="380.46" y="285.43" width="1.4" height="1.25" fill="#000"/>
<rect x="330.34" y="291.12" width="1.4" height="1.25" fill="#000"/>
<rect x="380.46" y="296.81" width="1.4" height="1.25" fill="#000"/>
<rect x="316.02" y="302.51" width="1.4" height="1.25" fill="#000"/>
<rect x="322.13" y="302.51" width="1.45" height="1.25" fill="#000"/><rect x="324.18" y="302.51" width="1.45" height="1.25" fill="#000"/>
<rect x="329.29" y="302.51" width="1.45" height="1.25" fill="#000"/><rect x="331.34" y="302.51" width="1.45" height="1.25" fill="#000"/>
<rect x="336.45" y="302.51" width="1.45" height="1.25" fill="#000"/><rect x="338.5" y="302.51" width="1.45" height="1.25" fill="#000"/>
<rect x="294.54" y="308.2" width="1.4" height="1.25" fill="#000"/>
<rect x="301.7" y="308.2" width="1.4" height="1.25" fill="#000"/>
<rect x="373.3" y="308.2" width="1.4" height="1.25" fill="#000"/>
<rect x="409.1" y="308.2" width="1.4" height="1.25" fill="#000"/>
<rect x="316.02" y="313.9" width="1.4" height="1.25" fill="#000"/>
<rect x="323.18" y="313.9" width="1.4" height="1.25" fill="#000"/>
<rect x="330.34" y="313.9" width="1.4" height="1.25" fill="#000"/>
<rect x="337.5" y="313.9" width="1.4" height="1.25" fill="#000"/>
<rect x="379.41" y="313.9" width="1.45" height="1.25" fill="#000"/><rect x="381.46" y="313.9" width="1.45" height="1.25" fill="#000"/>
<rect x="351.82" y="319.59" width="1.4" height="1.25" fill="#000"/>
<rect x="380.46" y="319.59" width="1.4" height="1.25" fill="#000"/>
<rect x="330.34" y="325.29" width="1.4" height="1.25" fill="#000"/>
<rect x="379.41" y="325.29" width="1.45" height="1.25" fill="#000"/><rect x="381.46" y="325.29" width="1.45" height="1.25" fill="#000"/>
<rect x="294.54" y="330.99" width="1.4" height="1.25" fill="#000"/>
<rect x="301.7" y="330.99" width="1.4" height="1.25" fill="#000"/>
<rect x="343.61" y="330.99" width="1.45" height="1.25" fill="#000"/><rect x="345.66" y="330.99" width="1.45" height="1.25" fill="#000"/>
<rect x="316.02" y="336.68" width="1.4" height="1.25" fill="#000"/>
<rect x="380.46" y="342.38" width="1.4" height="1.25" fill="#000"/>
<rect x="387.62" y="342.38" width="1.4" height="1.25" fill="#000"/>
<rect x="380.46" y="348.07" width="1.4" height="1.25" fill="#000"/>
<rect x="365.09" y="353.76" width="1.45" height="1.25" fill="#000"/><rect x="367.14" y="353.76" width="1.45" height="1.25" fill="#000"/>
<rect x="400.89" y="353.76" width="1.45" height="1.25" fill="#000"/><rect x="402.94" y="353.76" width="1.45" height="1.25" fill="#000"/>
<rect x="409.1" y="353.76" width="1.4" height="1.25" fill="#000"/>
<rect x="294.54" y="359.46" width="1.4" height="1.25" fill="#000"/>
<rect x="300.65" y="359.46" width="1.45" height="1.25" fill="#000"/><rect x="302.7" y="359.46" width="1.45" height="1.25" fill="#000"/>
<rect x="373.3" y="359.46" width="1.4" height="1.25" fill="#000"/>
<rect x="314.97" y="365.15" width="1.45" height="1.25" fill="#000"/><rect x="317.02" y="365.15" width="1.45" height="1.25" fill="#000"/>
<rect x="322.13" y="365.15" width="1.45" height="1.25" fill="#000"/><rect x="324.18" y="365.15" width="1.45" height="1.25" fill="#000"/>
<rect x="329.29" y="365.15" width="1.45" height="1.25" fill="#000"/><rect x="331.34" y="365.15" width="1.45" height="1.25" fill="#000"/>
<rect x="336.45" y="365.15" width="1.45" height="1.25" fill="#000"/><rect x="338.5" y="365.15" width="1.45" height="1.25" fill="#000"/>
<rect x="357.93" y="365.15" width="1.45" height="1.25" fill="#000"/><rect x="359.98" y="365.15" width="1.45" height="1.25" fill="#000"/>
<rect x="380.46" y="365.15" width="1.4" height="1.25" fill="#000"/>
<rect x="343.61" y="370.85" width="1.45" height="1.25" fill="#000"/><rect x="345.66" y="370.85" width="1.45" height="1.25" fill="#000"/>
<rect x="316.02" y="376.55" width="1.4" height="1.25" fill="#000"/>
<rect x="380.46" y="382.24" width="1.4" height="1.25" fill="#000"/>
<rect x="358.98" y="387.94" width="1.4" height="1.25" fill="#000"/>
<rect x="294.54" y="393.63" width="1.4" height="1.25" fill="#000"/>
<rect x="301.7" y="393.63" width="1.4" height="1.25" fill="#000"/>
<rect x="366.14" y="393.63" width="1.4" height="1.25" fill="#000"/>
<rect x="373.3" y="393.63" width="1.4" height="1.25" fill="#000"/>
<rect x="409.1" y="393.63" width="1.4" height="1.25" fill="#000"/>
<rect x="330.34" y="399.32" width="1.4" height="1.25" fill="#000"/>
<rect x="337.5" y="399.32" width="1.4" height="1.25" fill="#000"/>
<rect x="316.02" y="405.02" width="1.4" height="1.25" fill="#000"/>
<rect x="287.38" y="410.71" width="1.4" height="1.25" fill="#000"/>
<rect x="358.98" y="410.71" width="1.4" height="1.25" fill="#000"/>
<rect x="373.3" y="416.41" width="1.4" height="1.25" fill="#000"/>
<rect x="351.82" y="422.11" width="1.4" height="1.25" fill="#000"/>
<rect x="322.13" y="427.8" width="1.45" height="1.25" fill="#000"/><rect x="324.18" y="427.8" width="1.45" height="1.25" fill="#000"/>
<rect x="330.34" y="427.8" width="1.4" height="1.25" fill="#000"/>
<rect x="336.45" y="427.8" width="1.45" height="1.25" fill="#000"/><rect x="338.5" y="427.8" width="1.45" height="1.25" fill="#000"/>
<rect x="287.38" y="433.5" width="1.4" height="1.25" fill="#000"/>
<rect x="294.54" y="433.5" width="1.4" height="1.25" fill="#000"/>
<rect x="301.7" y="433.5" width="1.4" height="1.25" fill="#000"/>
<rect x="373.3" y="433.5" width="1.4" height="1.25" fill="#000"/>
<rect x="314.97" y="439.19" width="1.45" height="1.25" fill="#000"/><rect x="317.02" y="439.19" width="1.45" height="1.25" fill="#000"/>
<rect x="322.13" y="439.19" width="1.45" height="1.25" fill="#000"/><rect x="324.18" y="439.19" width="1.45" height="1.25" fill="#000"/>
<rect x="329.29" y="439.19" width="1.45" height="1.25" fill="#000"/><rect x="331.34" y="439.19" width="1.45" height="1.25" fill="#000"/>
<rect x="336.45" y="439.19" width="1.45" height="1.25" fill="#000"/><rect x="338.5" y="439.19" width="1.45" height="1.25" fill="#000"/>
<rect x="379.41" y="439.19" width="1.45" height="1.25" fill="#000"/><rect x="381.46" y="439.19" width="1.45" height="1.25" fill="#000"/>
<rect x="316.02" y="444.88" width="1.4" height="1.25" fill="#000"/>
<rect x="323.18" y="444.88" width="1.4" height="1.25" fill="#000"/>
<rect x="330.34" y="444.88" width="1.4" height="1.25" fill="#000"/>
<rect x="337.5" y="444.88" width="1.4" height="1.25" fill="#000"/>
<rect x="287.38" y="450.58" width="1.4" height="1.25" fill="#000"/>
<rect x="387.62" y="450.58" width="1.4" height="1.25" fill="#000"/>
<rect x="316.02" y="456.27" width="1.4" height="1.25" fill="#000"/>
<rect x="366.14" y="456.27" width="1.4" height="1.25" fill="#000"/>
<rect x="380.46" y="456.27" width="1.4" height="1.25" fill="#000"/>
<rect x="401.94" y="456.27" width="1.4" height="1.25" fill="#000"/>
<rect x="409.1" y="456.27" width="1.4" height="1.25" fill="#000"/>
<rect x="316.02" y="461.97" width="1.4" height="1.25" fill="#000"/>
<rect x="287.38" y="467.67" width="1.4" height="1.25" fill="#000"/>
<rect x="293.49" y="473.36" width="1.45" height="1.25" fill="#000"/><rect x="295.54" y="473.36" width="1.45" height="1.25" fill="#000"/>
<rect x="301.7" y="473.36" width="1.4" height="1.25" fill="#000"/>
<rect x="380.46" y="479.06" width="1.4" height="1.25" fill="#000"/>
<rect x="314.97" y="484.75" width="1.45" height="1.25" fill="#000"/><rect x="317.02" y="484.75" width="1.45" height="1.25" fill="#000"/>
<rect x="322.13" y="484.75" width="1.45" height="1.25" fill="#000"/><rect x="324.18" y="484.75" width="1.45" height="1.25" fill="#000"/>
<rect x="330.34" y="484.75" width="1.4" height="1.25" fill="#000"/>
<rect x="336.45" y="484.75" width="1.45" height="1.25" fill="#000"/><rect x="338.5" y="484.75" width="1.45" height="1.25" fill="#000"/>
<rect x="379.41" y="484.75" width="1.45" height="1.25" fill="#000"/><rect x="381.46" y="484.75" width="1.45" height="1.25" fill="#000"/>
<rect x="316.02" y="490.44" width="1.4" height="1.25" fill="#000"/>
<rect x="401.94" y="496.14" width="1.4" height="1.25" fill="#000"/>
<text x="415.3" y="32.8" font-size="6.9" text-anchor="start" fill="#000" transform="rotate(0.05 415.3 32.8)">2−Aminoisobutyric Acid</text>
<text x="553" y="32.8" font-size="6.9" text-anchor="start" fill="#000" transform="rotate(0.05 553 32.8)">Amino acid and its derivatives</text>
<text x="415.3" y="38.49" font-size="6.9" text-anchor="start" fill="#000" transform="rotate(0.05 415.3 38.49)">3−hydroxyhippuric acid</text>
<text x="553" y="38.49" font-size="6.9" text-anchor="start" fill="#000" transform="rotate(0.05 553 38.49)">Amino acid and its derivatives</text>
<text x="415.3" y="44.19" font-size="6.9" text-anchor="start" fill="#000" transform="rotate(0.05 415.3 44.19)">3−hydroxymethylglutaric acid</text>
<text x="553" y="44.19" font-size="6.9" text-anchor="start" fill="#000" transform="rotate(0.05 553 44.19)">Amino acid and its derivatives</text>
<text x="415.3" y="49.88" font-size="6.9" text-anchor="start" fill="#000" transform="rotate(0.05 415.3 49.88)">Beta−Alanine</text>
<text x="553" y="49.88" font-size="6.9" text-anchor="start" fill="#000" transform="rotate(0.05 553 49.88)">Amino acid and its derivatives</text>
<text x="415.3" y="55.58" font-size="6.9" text-anchor="start" fill="#000" transform="rotate(0.05 415.3 55.58)">Kynurenic Acid</text>
<text x="553" y="55.58" font-size="6.9" text-anchor="start" fill="#000" transform="rotate(0.05 553 55.58)">Amino acid and its derivatives</text>
<text x="415.3" y="61.27" font-size="6.9" text-anchor="start" fill="#000" transform="rotate(0.05 415.3 61.27)">L−Homocitrulline</text>
<text x="553" y="61.27" font-size="6.9" text-anchor="start" fill="#000" transform="rotate(0.05 553 61.27)">Amino acid and its derivatives</text>
<text x="415.3" y="66.97" font-size="6.9" text-anchor="start" fill="#000" transform="rotate(0.05 415.3 66.97)">Tyrosine</text>
<text x="553" y="66.97" font-size="6.9" text-anchor="start" fill="#000" transform="rotate(0.05 553 66.97)">Amino acid and its derivatives</text>
<text x="415.3" y="72.66" font-size="6.9" text-anchor="start" fill="#000" transform="rotate(0.05 415.3 72.66)">2−(3,4−dimethoxyphenyl)ethanamine</text>
<text x="553" y="72.66" font-size="6.9" text-anchor="start" fill="#000" transform="rotate(0.05 553 72.66)">Benzene and substituted derivatives</text>
<text x="415.3" y="78.36" font-size="6.9" text-anchor="start" fill="#000" transform="rotate(0.05 415.3 78.36)">Phenylethylamine</text>
<text x="553" y="78.36" font-size="6.9" text-anchor="start" fill="#000" transform="rotate(0.05 553 78.36)">Benzene and substituted derivatives</text>
<text x="415.3" y="84.05" font-size="6.9" text-anchor="start" fill="#000" transform="rotate(0.05 415.3 84.05)">7−Ketodeoxycholic acid</text>
<text x="553" y="84.05" font-size="6.9" text-anchor="start" fill="#000" transform="rotate(0.05 553 84.05)">Bile acids</text>
<text x="415.3" y="89.75" font-size="6.9" text-anchor="start" fill="#000" transform="rotate(0.05 415.3 89.75)">Chenodeoxycholic acid</text>
<text x="553" y="89.75" font-size="6.9" text-anchor="start" fill="#000" transform="rotate(0.05 553 89.75)">Bile acids</text>
<text x="415.3" y="95.44" font-size="6.9" text-anchor="start" fill="#000" transform="rotate(0.05 415.3 95.44)">Cholic acid</text>
<text x="553" y="95.44" font-size="6.9" text-anchor="start" fill="#000" transform="rotate(0.05 553 95.44)">Bile acids</text>
<text x="415.3" y="101.14" font-size="6.9" text-anchor="start" fill="#000" transform="rotate(0.05 415.3 101.14)">Glycochenodeoxycholic acid</text>
<text x="553" y="101.14" font-size="6.9" text-anchor="start" fill="#000" transform="rotate(0.05 553 101.14)">Bile acids</text>
<text x="415.3" y="106.83" font-size="6.9" text-anchor="start" fill="#000" transform="rotate(0.05 415.3 106.83)">Glycocholic acid</text>
<text x="553" y="106.83" font-size="6.9" text-anchor="start" fill="#000" transform="rotate(0.05 553 106.83)">Bile acids</text>
<text x="415.3" y="112.53" font-size="6.9" text-anchor="start" fill="#000" transform="rotate(0.05 415.3 112.53)">Glycohyocholic acid</text>
<text x="553" y="112.53" font-size="6.9" text-anchor="start" fill="#000" transform="rotate(0.05 553 112.53)">Bile acids</text>
<text x="415.3" y="118.22" font-size="6.9" text-anchor="start" fill="#000" transform="rotate(0.05 415.3 118.22)">Glycohyodeoxycholic acid</text>
<text x="553" y="118.22" font-size="6.9" text-anchor="start" fill="#000" transform="rotate(0.05 553 118.22)">Bile acids</text>
<text x="415.3" y="123.92" font-size="6.9" text-anchor="start" fill="#000" transform="rotate(0.05 415.3 123.92)">Isoallolithocholic acid</text>
<text x="553" y="123.92" font-size="6.9" text-anchor="start" fill="#000" transform="rotate(0.05 553 123.92)">Bile acids</text>
<text x="415.3" y="129.61" font-size="6.9" text-anchor="start" fill="#000" transform="rotate(0.05 415.3 129.61)">Isolithocholic acid</text>
<text x="553" y="129.61" font-size="6.9" text-anchor="start" fill="#000" transform="rotate(0.05 553 129.61)">Bile acids</text>
<text x="415.3" y="135.31" font-size="6.9" text-anchor="start" fill="#000" transform="rotate(0.05 415.3 135.31)">Lithocholic acid</text>
<text x="553" y="135.31" font-size="6.9" text-anchor="start" fill="#000" transform="rotate(0.05 553 135.31)">Bile acids</text>
<text x="415.3" y="141" font-size="6.9" text-anchor="start" fill="#000" transform="rotate(0.05 415.3 141)">Taurocholic acid</text>
<text x="553" y="141" font-size="6.9" text-anchor="start" fill="#000" transform="rotate(0.05 553 141)">Bile acids</text>
<text x="415.3" y="146.7" font-size="6.9" text-anchor="start" fill="#000" transform="rotate(0.05 415.3 146.7)">Taurolithocholic acid</text>
<text x="553" y="146.7" font-size="6.9" text-anchor="start" fill="#000" transform="rotate(0.05 553 146.7)">Bile acids</text>
<text x="415.3" y="152.39" font-size="6.9" text-anchor="start" fill="#000" transform="rotate(0.05 415.3 152.39)">L−palmitoylcarnitine</text>
<text x="553" y="152.39" font-size="6.9" text-anchor="start" fill="#000" transform="rotate(0.05 553 152.39)">CAR</text>
<text x="415.3" y="158.09" font-size="6.9" text-anchor="start" fill="#000" transform="rotate(0.05 415.3 158.09)">Choline</text>
<text x="553" y="158.09" font-size="6.9" text-anchor="start" fill="#000" transform="rotate(0.05 553 158.09)">Cholines</text>
<text x="415.3" y="163.78" font-size="6.9" text-anchor="start" fill="#000" transform="rotate(0.05 415.3 163.78)">Pyridoxamine dichlorohydrate</text>
<text x="553" y="163.78" font-size="6.9" text-anchor="start" fill="#000" transform="rotate(0.05 553 163.78)">CoEnzyme and vitamins</text>
<text x="415.3" y="169.48" font-size="6.9" text-anchor="start" fill="#000" transform="rotate(0.05 415.3 169.48)">Oleoylethanolamide</text>
<text x="553" y="169.48" font-size="6.9" text-anchor="start" fill="#000" transform="rotate(0.05 553 169.48)">Fatty abyl</text>
<text x="415.3" y="175.17" font-size="6.9" text-anchor="start" fill="#000" transform="rotate(0.05 415.3 175.17)">Lumichrome</text>
<text x="553" y="175.17" font-size="6.9" text-anchor="start" fill="#000" transform="rotate(0.05 553 175.17)">Heterocyclic compounds</text>
<text x="415.3" y="180.87" font-size="6.9" text-anchor="start" fill="#000" transform="rotate(0.05 415.3 180.87)">Pyrrole−2−carboxylic acid</text>
<text x="553" y="180.87" font-size="6.9" text-anchor="start" fill="#000" transform="rotate(0.05 553 180.87)">Heterocyclic compounds</text>
<text x="415.3" y="186.56" font-size="6.9" text-anchor="start" fill="#000" transform="rotate(0.05 415.3 186.56)">Pyrrolidine</text>
<text x="553" y="186.56" font-size="6.9" text-anchor="start" fill="#000" transform="rotate(0.05 553 186.56)">Heterocyclic compounds</text>
<text x="415.3" y="192.26" font-size="6.9" text-anchor="start" fill="#000" transform="rotate(0.05 415.3 192.26)">17α−Hydroxypregnenolone</text>
<text x="553" y="192.26" font-size="6.9" text-anchor="start" fill="#000" transform="rotate(0.05 553 192.26)">Hormones and hormone related compunds</text>
<text x="415.3" y="197.95" font-size="6.9" text-anchor="start" fill="#000" transform="rotate(0.05 415.3 197.95)">5α−Pregnane−3,20−dione</text>
<text x="553" y="197.95" font-size="6.9" text-anchor="start" fill="#000" transform="rotate(0.05 553 197.95)">Hormones and hormone related compunds</text>
<text x="415.3" y="203.65" font-size="6.9" text-anchor="start" fill="#000" transform="rotate(0.05 415.3 203.65)">7α,25−Dihydroxycholesterol</text>
<text x="553" y="203.65" font-size="6.9" text-anchor="start" fill="#000" transform="rotate(0.05 553 203.65)">Hormones and hormone related compunds</text>
<text x="415.3" y="209.34" font-size="6.9" text-anchor="start" fill="#000" transform="rotate(0.05 415.3 209.34)">Androstenedione</text>
<text x="553" y="209.34" font-size="6.9" text-anchor="start" fill="#000" transform="rotate(0.05 553 209.34)">Hormones and hormone related compunds</text>
<text x="415.3" y="215.04" font-size="6.9" text-anchor="start" fill="#000" transform="rotate(0.05 415.3 215.04)">rac Normetanephrine Hydrochloride</text>
<text x="553" y="215.04" font-size="6.9" text-anchor="start" fill="#000" transform="rotate(0.05 553 215.04)">Hormones and hormone related compunds</text>
<text x="415.3" y="220.73" font-size="6.9" text-anchor="start" fill="#000" transform="rotate(0.05 415.3 220.73)">5−Hydroxyindoleacetic Acid</text>
<text x="553" y="220.73" font-size="6.9" text-anchor="start" fill="#000" transform="rotate(0.05 553 220.73)">Indole and Its derivatives</text>
<text x="415.3" y="226.43" font-size="6.9" text-anchor="start" fill="#000" transform="rotate(0.05 415.3 226.43)">Indolelactic acid</text>
<text x="553" y="226.43" font-size="6.9" text-anchor="start" fill="#000" transform="rotate(0.05 553 226.43)">Indole and Its derivatives</text>
<text x="415.3" y="232.12" font-size="6.9" text-anchor="start" fill="#000" transform="rotate(0.05 415.3 232.12)">Equol</text>
<text x="553" y="232.12" font-size="6.9" text-anchor="start" fill="#000" transform="rotate(0.05 553 232.12)">Isoflavonoids</text>
<text x="415.3" y="237.82" font-size="6.9" text-anchor="start" fill="#000" transform="rotate(0.05 415.3 237.82)">1−Myristoyl−sn−glycero−3−phosphocholine</text>
<text x="553" y="237.82" font-size="6.9" text-anchor="start" fill="#000" transform="rotate(0.05 553 237.82)">LPC</text>
<text x="415.3" y="243.51" font-size="6.9" text-anchor="start" fill="#000" transform="rotate(0.05 415.3 243.51)">1−Palmitoyl−sn−glycero−3−phosphocholine</text>
<text x="553" y="243.51" font-size="6.9" text-anchor="start" fill="#000" transform="rotate(0.05 553 243.51)">LPC</text>
<text x="415.3" y="249.21" font-size="6.9" text-anchor="start" fill="#000" transform="rotate(0.05 415.3 249.21)">Choline alfoscerate</text>
<text x="553" y="249.21" font-size="6.9" text-anchor="start" fill="#000" transform="rotate(0.05 553 249.21)">LPC</text>
<text x="415.3" y="254.9" font-size="6.9" text-anchor="start" fill="#000" transform="rotate(0.05 415.3 254.9)">1−Methylhistamine</text>
<text x="553" y="254.9" font-size="6.9" text-anchor="start" fill="#000" transform="rotate(0.05 553 254.9)">Nucleotide and Its metabolomics</text>
<text x="415.3" y="260.6" font-size="6.9" text-anchor="start" fill="#000" transform="rotate(0.05 415.3 260.6)">1−Methylxanthine</text>
<text x="553" y="260.6" font-size="6.9" text-anchor="start" fill="#000" transform="rotate(0.05 553 260.6)">Nucleotide and Its metabolomics</text>
<text x="415.3" y="266.29" font-size="6.9" text-anchor="start" fill="#000" transform="rotate(0.05 415.3 266.29)">2−O−methylguanosine</text>
<text x="553" y="266.29" font-size="6.9" text-anchor="start" fill="#000" transform="rotate(0.05 553 266.29)">Nucleotide and Its metabolomics</text>
<text x="415.3" y="271.99" font-size="6.9" text-anchor="start" fill="#000" transform="rotate(0.05 415.3 271.99)">2−O−methyluridine</text>
<text x="553" y="271.99" font-size="6.9" text-anchor="start" fill="#000" transform="rotate(0.05 553 271.99)">Nucleotide and Its metabolomics</text>
<text x="415.3" y="277.68" font-size="6.9" text-anchor="start" fill="#000" transform="rotate(0.05 415.3 277.68)">Dihydrothymine</text>
<text x="553" y="277.68" font-size="6.9" text-anchor="start" fill="#000" transform="rotate(0.05 553 277.68)">Nucleotide and Its metabolomics</text>
<text x="415.3" y="283.38" font-size="6.9" text-anchor="start" fill="#000" transform="rotate(0.05 415.3 283.38)">Guanine</text>
<text x="553" y="283.38" font-size="6.9" text-anchor="start" fill="#000" transform="rotate(0.05 553 283.38)">Nucleotide and Its metabolomics</text>
<text x="415.3" y="289.07" font-size="6.9" text-anchor="start" fill="#000" transform="rotate(0.05 415.3 289.07)">Guanosine</text>
<text x="553" y="289.07" font-size="6.9" text-anchor="start" fill="#000" transform="rotate(0.05 553 289.07)">Nucleotide and Its metabolomics</text>
<text x="415.3" y="294.77" font-size="6.9" text-anchor="start" fill="#000" transform="rotate(0.05 415.3 294.77)">N2−methylguanosine</text>
<text x="553" y="294.77" font-size="6.9" text-anchor="start" fill="#000" transform="rotate(0.05 553 294.77)">Nucleotide and Its metabolomics</text>
<text x="415.3" y="300.46" font-size="6.9" text-anchor="start" fill="#000" transform="rotate(0.05 415.3 300.46)">UMP</text>
<text x="553" y="300.46" font-size="6.9" text-anchor="start" fill="#000" transform="rotate(0.05 553 300.46)">Nucleotide and Its metabolomics</text>
<text x="415.3" y="306.16" font-size="6.9" text-anchor="start" fill="#000" transform="rotate(0.05 415.3 306.16)">(S)−β−Aminoisobutyric Acid</text>
<text x="553" y="306.16" font-size="6.9" text-anchor="start" fill="#000" transform="rotate(0.05 553 306.16)">Organic acid And Its derivatives</text>
<text x="415.3" y="311.85" font-size="6.9" text-anchor="start" fill="#000" transform="rotate(0.05 415.3 311.85)">3−Phenyllactic acid</text>
<text x="553" y="311.85" font-size="6.9" text-anchor="start" fill="#000" transform="rotate(0.05 553 311.85)">Organic acid And Its derivatives</text>
<text x="415.3" y="317.55" font-size="6.9" text-anchor="start" fill="#000" transform="rotate(0.05 415.3 317.55)">3−Phenylpyruvic Acid</text>
<text x="553" y="317.55" font-size="6.9" text-anchor="start" fill="#000" transform="rotate(0.05 553 317.55)">Organic acid And Its derivatives</text>
<text x="415.3" y="323.24" font-size="6.9" text-anchor="start" fill="#000" transform="rotate(0.05 415.3 323.24)">4−Methoxyphenylacetic acid</text>
<text x="553" y="323.24" font-size="6.9" text-anchor="start" fill="#000" transform="rotate(0.05 553 323.24)">Organic acid And Its derivatives</text>
<text x="415.3" y="328.94" font-size="6.9" text-anchor="start" fill="#000" transform="rotate(0.05 415.3 328.94)">Argininosuccinic acid</text>
<text x="553" y="328.94" font-size="6.9" text-anchor="start" fill="#000" transform="rotate(0.05 553 328.94)">Organic acid And Its derivatives</text>
<text x="415.3" y="334.63" font-size="6.9" text-anchor="start" fill="#000" transform="rotate(0.05 415.3 334.63)">Cyclamic acid</text>
<text x="553" y="334.63" font-size="6.9" text-anchor="start" fill="#000" transform="rotate(0.05 553 334.63)">Organic acid And Its derivatives</text>
<text x="415.3" y="340.33" font-size="6.9" text-anchor="start" fill="#000" transform="rotate(0.05 415.3 340.33)">Dihydrocaffeic acid</text>
<text x="553" y="340.33" font-size="6.9" text-anchor="start" fill="#000" transform="rotate(0.05 553 340.33)">Organic acid And Its derivatives</text>
<text x="415.3" y="346.02" font-size="6.9" text-anchor="start" fill="#000" transform="rotate(0.05 415.3 346.02)">Ethylmalonic acid</text>
<text x="553" y="346.02" font-size="6.9" text-anchor="start" fill="#000" transform="rotate(0.05 553 346.02)">Organic acid And Its derivatives</text>
<text x="415.3" y="351.72" font-size="6.9" text-anchor="start" fill="#000" transform="rotate(0.05 415.3 351.72)">Glutaric acid</text>
<text x="553" y="351.72" font-size="6.9" text-anchor="start" fill="#000" transform="rotate(0.05 553 351.72)">Organic acid And Its derivatives</text>
<text x="415.3" y="357.41" font-size="6.9" text-anchor="start" fill="#000" transform="rotate(0.05 415.3 357.41)">Indoleacrylic acid</text>
<text x="553" y="357.41" font-size="6.9" text-anchor="start" fill="#000" transform="rotate(0.05 553 357.41)">Organic acid And Its derivatives</text>
<text x="415.3" y="363.11" font-size="6.9" text-anchor="start" fill="#000" transform="rotate(0.05 415.3 363.11)">L−Leucic acid</text>
<text x="553" y="363.11" font-size="6.9" text-anchor="start" fill="#000" transform="rotate(0.05 553 363.11)">Organic acid And Its derivatives</text>
<text x="415.3" y="368.8" font-size="6.9" text-anchor="start" fill="#000" transform="rotate(0.05 415.3 368.8)">N−Acetylputrescine</text>
<text x="553" y="368.8" font-size="6.9" text-anchor="start" fill="#000" transform="rotate(0.05 553 368.8)">Organic acid And Its derivatives</text>
<text x="415.3" y="374.5" font-size="6.9" text-anchor="start" fill="#000" transform="rotate(0.05 415.3 374.5)">Potassium Phenyl Sulfate</text>
<text x="553" y="374.5" font-size="6.9" text-anchor="start" fill="#000" transform="rotate(0.05 553 374.5)">Organic acid And Its derivatives</text>
<text x="415.3" y="380.19" font-size="6.9" text-anchor="start" fill="#000" transform="rotate(0.05 415.3 380.19)">Quinic acid</text>
<text x="553" y="380.19" font-size="6.9" text-anchor="start" fill="#000" transform="rotate(0.05 553 380.19)">Organic acid And Its derivatives</text>
<text x="415.3" y="385.89" font-size="6.9" text-anchor="start" fill="#000" transform="rotate(0.05 415.3 385.89)">Salicylic acid</text>
<text x="553" y="385.89" font-size="6.9" text-anchor="start" fill="#000" transform="rotate(0.05 553 385.89)">Organic acid And Its derivatives</text>
<text x="415.3" y="391.58" font-size="6.9" text-anchor="start" fill="#000" transform="rotate(0.05 415.3 391.58)">Sebacic acid</text>
<text x="553" y="391.58" font-size="6.9" text-anchor="start" fill="#000" transform="rotate(0.05 553 391.58)">Organic acid And Its derivatives</text>
<text x="415.3" y="397.28" font-size="6.9" text-anchor="start" fill="#000" transform="rotate(0.05 415.3 397.28)">2−hydroxyisovaleric Acid</text>
<text x="553" y="397.28" font-size="6.9" text-anchor="start" fill="#000" transform="rotate(0.05 553 397.28)">Organic acid And Its derivatives</text>
<text x="415.3" y="402.97" font-size="6.9" text-anchor="start" fill="#000" transform="rotate(0.05 415.3 402.97)">2−Methyllactic acid</text>
<text x="553" y="402.97" font-size="6.9" text-anchor="start" fill="#000" transform="rotate(0.05 553 402.97)">Organic acid And Its derivatives</text>
<text x="415.3" y="408.67" font-size="6.9" text-anchor="start" fill="#000" transform="rotate(0.05 415.3 408.67)">Cryptochlorogenic acid</text>
<text x="553" y="408.67" font-size="6.9" text-anchor="start" fill="#000" transform="rotate(0.05 553 408.67)">Organic acid And Its derivatives</text>
<text x="415.3" y="414.36" font-size="6.9" text-anchor="start" fill="#000" transform="rotate(0.05 415.3 414.36)">Betaine</text>
<text x="553" y="414.36" font-size="6.9" text-anchor="start" fill="#000" transform="rotate(0.05 553 414.36)">Others</text>
<text x="415.3" y="420.06" font-size="6.9" text-anchor="start" fill="#000" transform="rotate(0.05 415.3 420.06)">2−Methoxybenzoic acid</text>
<text x="553" y="420.06" font-size="6.9" text-anchor="start" fill="#000" transform="rotate(0.05 553 420.06)">Phenolic acids</text>
<text x="415.3" y="425.75" font-size="6.9" text-anchor="start" fill="#000" transform="rotate(0.05 415.3 425.75)">5−Hydroxyanthranillicacid</text>
<text x="553" y="425.75" font-size="6.9" text-anchor="start" fill="#000" transform="rotate(0.05 553 425.75)">Phenolics</text>
<text x="415.3" y="431.45" font-size="6.9" text-anchor="start" fill="#000" transform="rotate(0.05 415.3 431.45)">Protocatechuic Aldehyde</text>
<text x="553" y="431.45" font-size="6.9" text-anchor="start" fill="#000" transform="rotate(0.05 553 431.45)">Phenolics</text>
<text x="415.3" y="437.14" font-size="6.9" text-anchor="start" fill="#000" transform="rotate(0.05 415.3 437.14)">Phenol</text>
<text x="553" y="437.14" font-size="6.9" text-anchor="start" fill="#000" transform="rotate(0.05 553 437.14)">Phenols</text>
<text x="415.3" y="442.84" font-size="6.9" text-anchor="start" fill="#000" transform="rotate(0.05 415.3 442.84)">Acetylcholine</text>
<text x="553" y="442.84" font-size="6.9" text-anchor="start" fill="#000" transform="rotate(0.05 553 442.84)">Polyamines</text>
<text x="415.3" y="448.53" font-size="6.9" text-anchor="start" fill="#000" transform="rotate(0.05 415.3 448.53)">Putrescine</text>
<text x="553" y="448.53" font-size="6.9" text-anchor="start" fill="#000" transform="rotate(0.05 553 448.53)">Polyamines</text>
<text x="415.3" y="454.23" font-size="6.9" text-anchor="start" fill="#000" transform="rotate(0.05 415.3 454.23)">2−Picolinic Acid</text>
<text x="553" y="454.23" font-size="6.9" text-anchor="start" fill="#000" transform="rotate(0.05 553 454.23)">Pteridines and derivatives</text>
<text x="415.3" y="459.92" font-size="6.9" text-anchor="start" fill="#000" transform="rotate(0.05 415.3 459.92)">Biopterin</text>
<text x="553" y="459.92" font-size="6.9" text-anchor="start" fill="#000" transform="rotate(0.05 553 459.92)">Pteridines and derivatives</text>
<text x="415.3" y="465.62" font-size="6.9" text-anchor="start" fill="#000" transform="rotate(0.05 415.3 465.62)">D−Alanyl−D−Alanine</text>
<text x="553" y="465.62" font-size="6.9" text-anchor="start" fill="#000" transform="rotate(0.05 553 465.62)">Small Peptide</text>
<text x="415.3" y="471.31" font-size="6.9" text-anchor="start" fill="#000" transform="rotate(0.05 415.3 471.31)">Gly−Val</text>
<text x="553" y="471.31" font-size="6.9" text-anchor="start" fill="#000" transform="rotate(0.05 553 471.31)">Small Peptide</text>
<text x="415.3" y="477.01" font-size="6.9" text-anchor="start" fill="#000" transform="rotate(0.05 415.3 477.01)">L−2−Phenylglycine</text>
<text x="553" y="477.01" font-size="6.9" text-anchor="start" fill="#000" transform="rotate(0.05 553 477.01)">Small Peptide</text>
<text x="415.3" y="482.7" font-size="6.9" text-anchor="start" fill="#000" transform="rotate(0.05 415.3 482.7)">Leu−Val</text>
<text x="553" y="482.7" font-size="6.9" text-anchor="start" fill="#000" transform="rotate(0.05 553 482.7)">Small Peptide</text>
<text x="415.3" y="488.4" font-size="6.9" text-anchor="start" fill="#000" transform="rotate(0.05 415.3 488.4)">Prolylhydroxyproline</text>
<text x="553" y="488.4" font-size="6.9" text-anchor="start" fill="#000" transform="rotate(0.05 553 488.4)">Small Peptide</text>
<text x="415.3" y="494.09" font-size="6.9" text-anchor="start" fill="#000" transform="rotate(0.05 415.3 494.09)">Taurine</text>
<text x="553" y="494.09" font-size="6.9" text-anchor="start" fill="#000" transform="rotate(0.05 553 494.09)">Sulfonic acids</text>
<text x="415.3" y="499.79" font-size="6.9" text-anchor="start" fill="#000" transform="rotate(0.05 415.3 499.79)">Tryptamine</text>
<text x="553" y="499.79" font-size="6.9" text-anchor="start" fill="#000" transform="rotate(0.05 553 499.79)">Tryptamines</text>
<text font-size="7" transform="translate(285.48,505) rotate(46)">HDL−c</text>
<text font-size="7" transform="translate(292.64,505) rotate(46)">LDL−c</text>
<text font-size="7" transform="translate(299.8,505) rotate(46)">TG</text>
<text font-size="7" transform="translate(306.96,505) rotate(46)">TC</text>
<text font-size="7" transform="translate(314.12,505) rotate(46)">C14:0</text>
<text font-size="7" transform="translate(321.28,505) rotate(46)">C16:0</text>
<text font-size="7" transform="translate(328.44,505) rotate(46)">C18:0</text>
<text font-size="7" transform="translate(335.6,505) rotate(46)">SFA</text>
<text font-size="7" transform="translate(342.76,505) rotate(46)">Fasting glucose</text>
<text font-size="7" transform="translate(349.92,505) rotate(46)">Postprandial glucose</text>
<text font-size="7" transform="translate(357.08,505) rotate(46)">Fasting insulin</text>
<text font-size="7" transform="translate(364.24,505) rotate(46)">Postprandial insulin</text>
<text font-size="7" transform="translate(371.4,505) rotate(46)">Body fat percentage</text>
<text font-size="7" transform="translate(378.56,505) rotate(46)">BMI</text>
<text font-size="7" transform="translate(385.72,505) rotate(46)">AUC<tspan font-size="4.8" fill="#444" dy="0.8">glucose</tspan></text>
<text font-size="7" transform="translate(392.88,505) rotate(46)">AUC<tspan font-size="4.8" fill="#444" dy="0.8">insulin</tspan></text>
<text font-size="7" transform="translate(400.04,505) rotate(46)">Gutt index</text>
<text font-size="7" transform="translate(407.2,505) rotate(46)">Stumvoll index</text>
</g>
<g id="pC">
<text x="137" y="218.8" font-size="6.9" text-anchor="middle" fill="#000" >Log₁₀ Abundance</text>
<text x="240.3" y="218.6" font-size="6.9" text-anchor="middle"><tspan font-style="italic">P</tspan> &lt; 0.05</text>
<rect x="89.6" y="225.2" width="97" height="8.2" fill="url(#gC)"/>
<line x1="114.1" y1="225.2" x2="114.1" y2="233.4" stroke="#fff" stroke-width="0.5" opacity="0.8"/>
<line x1="138.3" y1="225.2" x2="138.3" y2="233.4" stroke="#fff" stroke-width="0.5" opacity="0.8"/>
<line x1="162.5" y1="225.2" x2="162.5" y2="233.4" stroke="#fff" stroke-width="0.5" opacity="0.8"/>
<text x="89.8" y="243.2" font-size="6.7" text-anchor="middle" fill="#000" >2</text>
<text x="114.3" y="243.2" font-size="6.7" text-anchor="middle" fill="#000" >3</text>
<text x="138.4" y="243.2" font-size="6.7" text-anchor="middle" fill="#000" >4</text>
<text x="162.6" y="243.2" font-size="6.7" text-anchor="middle" fill="#000" >5</text>
<text x="186.6" y="243.2" font-size="6.7" text-anchor="middle" fill="#000" >6</text>
<circle cx="212.8" cy="235" r="1.55" fill="#fff" stroke="#000" stroke-width="0.85"/>
<text x="226.5" y="237.5" font-size="6.7" text-anchor="start" fill="#000" >No</text>
<circle cx="252.3" cy="235" r="1.9" fill="#000"/>
<text x="264.5" y="237.5" font-size="6.7" text-anchor="start" fill="#000" >Yes</text>
<rect x="92.3" y="250.8" width="47.4" height="15.9" fill="#000"/>
<text x="116" y="261.15" font-size="6.6" text-anchor="middle" fill="#fff" >HP−L</text>
<rect x="145.7" y="250.8" width="47.8" height="15.9" fill="#000"/>
<text x="169.6" y="261.15" font-size="6.6" text-anchor="middle" fill="#fff" >HP−D</text>
<rect x="93" y="268.4" width="22.75" height="15.38" fill="rgb(255, 230, 220)"/>
<rect x="115.7" y="268.4" width="22.05" height="15.38" fill="rgb(255, 230, 220)"/>
<rect x="147.8" y="268.4" width="21.25" height="15.38" fill="rgb(255, 230, 220)"/>
<rect x="169" y="268.4" width="22.05" height="15.38" fill="rgb(240, 232, 255)"/>
<text x="179.1" y="278.95" font-size="8.2" text-anchor="middle" fill="#000" font-style="italic" stroke="#000" stroke-width="0.08">#</text>
<text x="87.6" y="278.45" font-size="6.8" text-anchor="end" fill="#000" >Isoallolithocholic acid</text>
<line x1="89" y1="276.05" x2="91.5" y2="276.05" stroke="#000" stroke-width="0.9"/>
<line x1="203.6" y1="276.05" x2="206.2" y2="276.05" stroke="#000" stroke-width="0.8"/>
<rect x="93" y="283.7" width="22.75" height="15.38" fill="rgb(255, 95, 60)"/>
<rect x="115.7" y="283.7" width="22.05" height="15.38" fill="rgb(255, 95, 60)"/>
<rect x="147.8" y="283.7" width="21.25" height="15.38" fill="rgb(255, 95, 60)"/>
<rect x="169" y="283.7" width="22.05" height="15.38" fill="rgb(255, 125, 95)"/>
<circle cx="179.4" cy="292.55" r="1.05" fill="#000"/>
<text x="87.6" y="293.75" font-size="6.8" text-anchor="end" fill="#000" >Lithocholic acid</text>
<line x1="89" y1="291.35" x2="91.5" y2="291.35" stroke="#000" stroke-width="0.9"/>
<line x1="203.6" y1="291.35" x2="206.2" y2="291.35" stroke="#000" stroke-width="0.8"/>
<rect x="93" y="299" width="22.75" height="15.38" fill="rgb(255, 125, 95)"/>
<rect x="115.7" y="299" width="22.05" height="15.38" fill="rgb(255, 130, 100)"/>
<rect x="147.8" y="299" width="21.25" height="15.38" fill="rgb(255, 125, 95)"/>
<rect x="169" y="299" width="22.05" height="15.38" fill="rgb(255, 140, 110)"/>
<text x="179.1" y="309.55" font-size="8.2" text-anchor="middle" fill="#000" font-style="italic" stroke="#000" stroke-width="0.08">#</text>
<text x="87.6" y="309.05" font-size="6.8" text-anchor="end" fill="#000" >Isolithocholic acid</text>
<line x1="89" y1="306.65" x2="91.5" y2="306.65" stroke="#000" stroke-width="0.9"/>
<line x1="203.6" y1="306.65" x2="206.2" y2="306.65" stroke="#000" stroke-width="0.8"/>
<rect x="93" y="314.3" width="22.75" height="15.38" fill="rgb(255, 150, 125)"/>
<rect x="115.7" y="314.3" width="22.05" height="15.38" fill="rgb(255, 150, 125)"/>
<rect x="147.8" y="314.3" width="21.25" height="15.38" fill="rgb(255, 150, 125)"/>
<rect x="169" y="314.3" width="22.05" height="15.38" fill="rgb(255, 155, 130)"/>
<text x="87.6" y="324.35" font-size="6.8" text-anchor="end" fill="#000" >3β−deoxycholic acid</text>
<line x1="89" y1="321.95" x2="91.5" y2="321.95" stroke="#000" stroke-width="0.9"/>
<line x1="203.6" y1="321.95" x2="206.2" y2="321.95" stroke="#000" stroke-width="0.8"/>
<rect x="93" y="329.6" width="22.75" height="15.38" fill="rgb(230, 215, 255)"/>
<rect x="115.7" y="329.6" width="22.05" height="15.38" fill="rgb(240, 232, 255)"/>
<rect x="147.8" y="329.6" width="21.25" height="15.38" fill="rgb(255, 185, 165)"/>
<rect x="169" y="329.6" width="22.05" height="15.38" fill="rgb(252, 250, 255)"/>
<text x="87.6" y="339.65" font-size="6.8" text-anchor="end" fill="#000" >Glycochenodeoxycholic acid</text>
<line x1="89" y1="337.25" x2="91.5" y2="337.25" stroke="#000" stroke-width="0.9"/>
<line x1="203.6" y1="337.25" x2="206.2" y2="337.25" stroke="#000" stroke-width="0.8"/>
<rect x="93" y="344.9" width="22.75" height="15.38" fill="rgb(215, 190, 255)"/>
<rect x="115.7" y="344.9" width="22.05" height="15.38" fill="rgb(240, 230, 255)"/>
<rect x="147.8" y="344.9" width="21.25" height="15.38" fill="rgb(255, 160, 135)"/>
<rect x="169" y="344.9" width="22.05" height="15.38" fill="rgb(250, 248, 255)"/>
<text x="87.6" y="354.95" font-size="6.8" text-anchor="end" fill="#000" >Glycocholic acid</text>
<line x1="89" y1="352.55" x2="91.5" y2="352.55" stroke="#000" stroke-width="0.9"/>
<line x1="203.6" y1="352.55" x2="206.2" y2="352.55" stroke="#000" stroke-width="0.8"/>
<rect x="93" y="360.2" width="22.75" height="15.38" fill="rgb(100, 70, 250)"/>
<rect x="115.7" y="360.2" width="22.05" height="15.38" fill="rgb(150, 110, 250)"/>
<rect x="147.8" y="360.2" width="21.25" height="15.38" fill="rgb(205, 185, 255)"/>
<rect x="169" y="360.2" width="22.05" height="15.38" fill="rgb(175, 140, 252)"/>
<text x="179.1" y="370.75" font-size="8.2" text-anchor="middle" fill="#000" font-style="italic" stroke="#000" stroke-width="0.08">#</text>
<text x="87.6" y="370.25" font-size="6.8" text-anchor="end" fill="#000" >Glycohyodeoxycholic acid</text>
<line x1="89" y1="367.85" x2="91.5" y2="367.85" stroke="#000" stroke-width="0.9"/>
<line x1="203.6" y1="367.85" x2="206.2" y2="367.85" stroke="#000" stroke-width="0.8"/>
<rect x="93" y="375.5" width="22.75" height="15.38" fill="rgb(225, 210, 255)"/>
<rect x="115.7" y="375.5" width="22.05" height="15.38" fill="rgb(150, 110, 250)"/>
<text x="125.8" y="386.05" font-size="8.2" text-anchor="middle" fill="#000" font-style="italic" stroke="#000" stroke-width="0.08">#</text>
<rect x="147.8" y="375.5" width="21.25" height="15.38" fill="rgb(215, 195, 255)"/>
<rect x="169" y="375.5" width="22.05" height="15.38" fill="rgb(190, 160, 252)"/>
<text x="87.6" y="385.55" font-size="6.8" text-anchor="end" fill="#000" >Taurolithocholic acid</text>
<line x1="89" y1="383.15" x2="91.5" y2="383.15" stroke="#000" stroke-width="0.9"/>
<line x1="203.6" y1="383.15" x2="206.2" y2="383.15" stroke="#000" stroke-width="0.8"/>
<rect x="93" y="390.8" width="22.75" height="15.38" fill="rgb(255, 190, 170)"/>
<rect x="115.7" y="390.8" width="22.05" height="15.38" fill="rgb(255, 200, 180)"/>
<rect x="147.8" y="390.8" width="21.25" height="15.38" fill="rgb(255, 205, 190)"/>
<rect x="169" y="390.8" width="22.05" height="15.38" fill="rgb(255, 165, 140)"/>
<text x="179.1" y="401.35" font-size="8.2" text-anchor="middle" fill="#000" font-style="italic" stroke="#000" stroke-width="0.08">#</text>
<text x="87.6" y="400.85" font-size="6.8" text-anchor="end" fill="#000" >Cholic acid</text>
<line x1="89" y1="398.45" x2="91.5" y2="398.45" stroke="#000" stroke-width="0.9"/>
<line x1="203.6" y1="398.45" x2="206.2" y2="398.45" stroke="#000" stroke-width="0.8"/>
<rect x="93" y="406.1" width="22.75" height="15.38" fill="rgb(150, 110, 250)"/>
<rect x="115.7" y="406.1" width="22.05" height="15.38" fill="rgb(145, 105, 250)"/>
<rect x="147.8" y="406.1" width="21.25" height="15.38" fill="rgb(210, 190, 255)"/>
<rect x="169" y="406.1" width="22.05" height="15.38" fill="rgb(185, 155, 252)"/>
<text x="87.6" y="416.15" font-size="6.8" text-anchor="end" fill="#000" >Glycohyocholic acid</text>
<line x1="89" y1="413.75" x2="91.5" y2="413.75" stroke="#000" stroke-width="0.9"/>
<line x1="203.6" y1="413.75" x2="206.2" y2="413.75" stroke="#000" stroke-width="0.8"/>
<rect x="93" y="421.4" width="22.75" height="15.38" fill="rgb(205, 180, 255)"/>
<rect x="115.7" y="421.4" width="22.05" height="15.38" fill="rgb(195, 165, 253)"/>
<rect x="147.8" y="421.4" width="21.25" height="15.38" fill="rgb(255, 210, 195)"/>
<rect x="169" y="421.4" width="22.05" height="15.38" fill="rgb(235, 222, 255)"/>
<text x="87.6" y="431.45" font-size="6.8" text-anchor="end" fill="#000" >Taurocholic acid</text>
<line x1="89" y1="429.05" x2="91.5" y2="429.05" stroke="#000" stroke-width="0.9"/>
<line x1="203.6" y1="429.05" x2="206.2" y2="429.05" stroke="#000" stroke-width="0.8"/>
<rect x="93" y="436.7" width="22.75" height="15.38" fill="rgb(255, 140, 110)"/>
<rect x="115.7" y="436.7" width="22.05" height="15.38" fill="rgb(255, 150, 125)"/>
<rect x="147.8" y="436.7" width="21.25" height="15.38" fill="rgb(255, 160, 135)"/>
<rect x="169" y="436.7" width="22.05" height="15.38" fill="rgb(255, 100, 65)"/>
<text x="179.1" y="447.25" font-size="8.2" text-anchor="middle" fill="#000" font-style="italic" stroke="#000" stroke-width="0.08">#</text>
<text x="87.6" y="446.75" font-size="6.8" text-anchor="end" fill="#000" >Chenodeoxycholic acid</text>
<line x1="89" y1="444.35" x2="91.5" y2="444.35" stroke="#000" stroke-width="0.9"/>
<line x1="203.6" y1="444.35" x2="206.2" y2="444.35" stroke="#000" stroke-width="0.8"/>
<rect x="93" y="452" width="22.75" height="15.38" fill="rgb(255, 210, 195)"/>
<rect x="115.7" y="452" width="22.05" height="15.38" fill="rgb(255, 220, 208)"/>
<rect x="147.8" y="452" width="21.25" height="15.38" fill="rgb(255, 210, 195)"/>
<rect x="169" y="452" width="22.05" height="15.38" fill="rgb(255, 175, 152)"/>
<text x="179.1" y="462.55" font-size="8.2" text-anchor="middle" fill="#000" font-style="italic" stroke="#000" stroke-width="0.08">#</text>
<text x="87.6" y="462.05" font-size="6.8" text-anchor="end" fill="#000" >Hyodeoxycholic acid</text>
<line x1="89" y1="459.65" x2="91.5" y2="459.65" stroke="#000" stroke-width="0.9"/>
<line x1="203.6" y1="459.65" x2="206.2" y2="459.65" stroke="#000" stroke-width="0.8"/>
<rect x="93" y="467.3" width="22.75" height="15.38" fill="rgb(240, 230, 255)"/>
<rect x="115.7" y="467.3" width="22.05" height="15.38" fill="rgb(232, 220, 255)"/>
<rect x="147.8" y="467.3" width="21.25" height="15.38" fill="rgb(225, 210, 255)"/>
<rect x="169" y="467.3" width="22.05" height="15.38" fill="rgb(255, 210, 195)"/>
<text x="179.1" y="477.85" font-size="8.2" text-anchor="middle" fill="#000" font-style="italic" stroke="#000" stroke-width="0.08">#</text>
<text x="87.6" y="477.35" font-size="6.8" text-anchor="end" fill="#000" >7−Ketodeoxycholic acid</text>
<line x1="89" y1="474.95" x2="91.5" y2="474.95" stroke="#000" stroke-width="0.9"/>
<line x1="203.6" y1="474.95" x2="206.2" y2="474.95" stroke="#000" stroke-width="0.8"/>
<rect x="93" y="482.6" width="22.75" height="15.38" fill="rgb(235, 225, 255)"/>
<rect x="115.7" y="482.6" width="22.05" height="15.38" fill="rgb(235, 225, 255)"/>
<rect x="147.8" y="482.6" width="21.25" height="15.38" fill="rgb(248, 244, 255)"/>
<rect x="169" y="482.6" width="22.05" height="15.38" fill="rgb(255, 175, 152)"/>
<text x="179.1" y="493.15" font-size="8.2" text-anchor="middle" fill="#000" font-style="italic" stroke="#000" stroke-width="0.08">#</text>
<text x="87.6" y="492.65" font-size="6.8" text-anchor="end" fill="#000" >7−Ketolithocholic acid</text>
<line x1="89" y1="490.25" x2="91.5" y2="490.25" stroke="#000" stroke-width="0.9"/>
<line x1="203.6" y1="490.25" x2="206.2" y2="490.25" stroke="#000" stroke-width="0.8"/>
<line x1="92" y1="266.7" x2="92" y2="498.9" stroke="#000" stroke-width="1.2"/>
<line x1="91.4" y1="498.5" x2="139.7" y2="498.5" stroke="#000" stroke-width="1.2"/>
<line x1="145.7" y1="498.5" x2="193.5" y2="498.5" stroke="#000" stroke-width="1.2"/>
<line x1="206.2" y1="267" x2="206.2" y2="499.1" stroke="#000" stroke-width="1.2"/>
<line x1="205.6" y1="498.5" x2="280" y2="498.5" stroke="#000" stroke-width="1.2"/>
<line x1="254.3" y1="267.5" x2="254.3" y2="497.9" stroke="#ee2a1c" stroke-width="0.8" stroke-dasharray="1 1.2"/>
<circle cx="270.1" cy="276.05" r="1.5" fill="#fff" stroke="#000" stroke-width="0.85"/>
<circle cx="262" cy="291.35" r="1.5" fill="#fff" stroke="#000" stroke-width="0.85"/>
<circle cx="261.2" cy="306.65" r="1.5" fill="#fff" stroke="#000" stroke-width="0.85"/>
<circle cx="258.7" cy="321.95" r="1.5" fill="#fff" stroke="#000" stroke-width="0.85"/>
<circle cx="249" cy="337.25" r="1.9" fill="#000"/>
<circle cx="247.7" cy="352.55" r="1.5" fill="#fff" stroke="#000" stroke-width="0.85"/>
<circle cx="242.2" cy="367.85" r="1.9" fill="#000"/>
<circle cx="240" cy="383.15" r="1.5" fill="#fff" stroke="#000" stroke-width="0.85"/>
<circle cx="239.2" cy="398.45" r="1.5" fill="#fff" stroke="#000" stroke-width="0.85"/>
<circle cx="239.2" cy="413.75" r="1.9" fill="#000"/>
<circle cx="237" cy="429.05" r="1.9" fill="#000"/>
<circle cx="235.8" cy="444.35" r="1.9" fill="#000"/>
<circle cx="235.8" cy="459.65" r="1.5" fill="#fff" stroke="#000" stroke-width="0.85"/>
<circle cx="221.8" cy="474.95" r="1.5" fill="#fff" stroke="#000" stroke-width="0.85"/>
<circle cx="209" cy="490.25" r="1.5" fill="#fff" stroke="#000" stroke-width="0.85"/>
<line x1="104.35" y1="498.9" x2="104.35" y2="500.9" stroke="#000" stroke-width="0.8"/>
<text x="104.35" y="508.7" font-size="6.7" text-anchor="middle" fill="#000" >0</text>
<line x1="126.7" y1="498.9" x2="126.7" y2="500.9" stroke="#000" stroke-width="0.8"/>
<text x="126.7" y="508.7" font-size="6.7" text-anchor="middle" fill="#000" >12</text>
<line x1="158.4" y1="498.9" x2="158.4" y2="500.9" stroke="#000" stroke-width="0.8"/>
<text x="158.4" y="508.7" font-size="6.7" text-anchor="middle" fill="#000" >0</text>
<line x1="180" y1="498.9" x2="180" y2="500.9" stroke="#000" stroke-width="0.8"/>
<text x="180" y="508.7" font-size="6.7" text-anchor="middle" fill="#000" >12</text>
<text x="143.4" y="518.1" font-size="6.9" text-anchor="middle" fill="#000" >Time (weeks)</text>
<line x1="207.5" y1="498.9" x2="207.5" y2="500.9" stroke="#000" stroke-width="0.8"/>
<text x="207.5" y="508.7" font-size="6.7" text-anchor="middle" fill="#000" >−4</text>
<line x1="231.2" y1="498.9" x2="231.2" y2="500.9" stroke="#000" stroke-width="0.8"/>
<text x="231.2" y="508.7" font-size="6.7" text-anchor="middle" fill="#000" >−2</text>
<line x1="254.4" y1="498.9" x2="254.4" y2="500.9" stroke="#000" stroke-width="0.8"/>
<text x="254.4" y="508.7" font-size="6.7" text-anchor="middle" fill="#000" >0</text>
<text x="238.4" y="518.1" font-size="6.9" text-anchor="middle" fill="#000" >Log₂FC (L/D)</text>
<rect x="91.4" y="527.9" width="47.6" height="16" fill="#000"/>
<text x="115.2" y="538.3" font-size="6.6" text-anchor="middle" fill="#fff" >HM−L</text>
<rect x="144.6" y="527.9" width="47.3" height="16" fill="#000"/>
<text x="168.25" y="538.3" font-size="6.6" text-anchor="middle" fill="#fff" >HM−D</text>
<rect x="93" y="545.1" width="22.05" height="15.25" fill="rgb(222, 200, 255)"/>
<rect x="115" y="545.1" width="21.85" height="15.25" fill="rgb(255, 215, 200)"/>
<circle cx="125.3" cy="553.89" r="1.05" fill="#000"/>
<rect x="146.9" y="545.1" width="21.35" height="15.25" fill="rgb(238, 228, 255)"/>
<rect x="168.2" y="545.1" width="21.85" height="15.25" fill="rgb(253, 252, 255)"/>
<text x="87.6" y="555.09" font-size="6.8" text-anchor="end" fill="#000" >Glycocholic acid</text>
<line x1="89" y1="552.69" x2="91.5" y2="552.69" stroke="#000" stroke-width="0.9"/>
<line x1="202.1" y1="552.69" x2="204.7" y2="552.69" stroke="#000" stroke-width="0.8"/>
<rect x="93" y="560.27" width="22.05" height="15.25" fill="rgb(198, 165, 253)"/>
<rect x="115" y="560.27" width="21.85" height="15.25" fill="rgb(250, 247, 255)"/>
<rect x="146.9" y="560.27" width="21.35" height="15.25" fill="rgb(225, 205, 255)"/>
<rect x="168.2" y="560.27" width="21.85" height="15.25" fill="rgb(232, 218, 255)"/>
<text x="87.6" y="570.25" font-size="6.8" text-anchor="end" fill="#000" >Taurocholic acid</text>
<line x1="89" y1="567.86" x2="91.5" y2="567.86" stroke="#000" stroke-width="0.9"/>
<line x1="202.1" y1="567.86" x2="204.7" y2="567.86" stroke="#000" stroke-width="0.8"/>
<rect x="93" y="575.44" width="22.05" height="15.25" fill="rgb(218, 200, 255)"/>
<rect x="115" y="575.44" width="21.85" height="15.25" fill="rgb(255, 232, 224)"/>
<rect x="146.9" y="575.44" width="21.35" height="15.25" fill="rgb(253, 253, 255)"/>
<rect x="168.2" y="575.44" width="21.85" height="15.25" fill="rgb(254, 252, 253)"/>
<text x="87.6" y="585.43" font-size="6.8" text-anchor="end" fill="#000" >Glycochenodeoxycholic acid</text>
<line x1="89" y1="583.03" x2="91.5" y2="583.03" stroke="#000" stroke-width="0.9"/>
<line x1="202.1" y1="583.03" x2="204.7" y2="583.03" stroke="#000" stroke-width="0.8"/>
<rect x="93" y="590.61" width="22.05" height="15.25" fill="rgb(255, 125, 95)"/>
<rect x="115" y="590.61" width="21.85" height="15.25" fill="rgb(255, 115, 85)"/>
<rect x="146.9" y="590.61" width="21.35" height="15.25" fill="rgb(255, 125, 95)"/>
<rect x="168.2" y="590.61" width="21.85" height="15.25" fill="rgb(255, 140, 112)"/>
<text x="87.6" y="600.6" font-size="6.8" text-anchor="end" fill="#000" >Isolithocholic acid</text>
<line x1="89" y1="598.2" x2="91.5" y2="598.2" stroke="#000" stroke-width="0.9"/>
<line x1="202.1" y1="598.2" x2="204.7" y2="598.2" stroke="#000" stroke-width="0.8"/>
<rect x="93" y="605.78" width="22.05" height="15.25" fill="rgb(255, 150, 125)"/>
<rect x="115" y="605.78" width="21.85" height="15.25" fill="rgb(255, 150, 125)"/>
<rect x="146.9" y="605.78" width="21.35" height="15.25" fill="rgb(255, 140, 112)"/>
<rect x="168.2" y="605.78" width="21.85" height="15.25" fill="rgb(255, 155, 130)"/>
<circle cx="178.5" cy="614.57" r="1.05" fill="#000"/>
<text x="87.6" y="615.76" font-size="6.8" text-anchor="end" fill="#000" >3β−deoxycholic acid</text>
<line x1="89" y1="613.37" x2="91.5" y2="613.37" stroke="#000" stroke-width="0.9"/>
<line x1="202.1" y1="613.37" x2="204.7" y2="613.37" stroke="#000" stroke-width="0.8"/>
<rect x="93" y="620.95" width="22.05" height="15.25" fill="rgb(255, 195, 175)"/>
<rect x="115" y="620.95" width="21.85" height="15.25" fill="rgb(255, 165, 140)"/>
<circle cx="125.3" cy="629.74" r="1.05" fill="#000"/>
<rect x="146.9" y="620.95" width="21.35" height="15.25" fill="rgb(255, 185, 165)"/>
<rect x="168.2" y="620.95" width="21.85" height="15.25" fill="rgb(255, 180, 158)"/>
<text x="87.6" y="630.94" font-size="6.8" text-anchor="end" fill="#000" >Cholic acid</text>
<line x1="89" y1="628.54" x2="91.5" y2="628.54" stroke="#000" stroke-width="0.9"/>
<line x1="202.1" y1="628.54" x2="204.7" y2="628.54" stroke="#000" stroke-width="0.8"/>
<rect x="93" y="636.12" width="22.05" height="15.25" fill="rgb(255, 95, 60)"/>
<rect x="115" y="636.12" width="21.85" height="15.25" fill="rgb(255, 90, 55)"/>
<rect x="146.9" y="636.12" width="21.35" height="15.25" fill="rgb(255, 90, 55)"/>
<rect x="168.2" y="636.12" width="21.85" height="15.25" fill="rgb(255, 100, 65)"/>
<text x="87.6" y="646.11" font-size="6.8" text-anchor="end" fill="#000" >Lithocholic acid</text>
<line x1="89" y1="643.71" x2="91.5" y2="643.71" stroke="#000" stroke-width="0.9"/>
<line x1="202.1" y1="643.71" x2="204.7" y2="643.71" stroke="#000" stroke-width="0.8"/>
<rect x="93" y="651.29" width="22.05" height="15.25" fill="rgb(255, 232, 224)"/>
<rect x="115" y="651.29" width="21.85" height="15.25" fill="rgb(255, 228, 218)"/>
<rect x="146.9" y="651.29" width="21.35" height="15.25" fill="rgb(255, 245, 240)"/>
<rect x="168.2" y="651.29" width="21.85" height="15.25" fill="rgb(255, 232, 224)"/>
<text x="87.6" y="661.27" font-size="6.8" text-anchor="end" fill="#000" >Isoallolithocholic acid</text>
<line x1="89" y1="658.88" x2="91.5" y2="658.88" stroke="#000" stroke-width="0.9"/>
<line x1="202.1" y1="658.88" x2="204.7" y2="658.88" stroke="#000" stroke-width="0.8"/>
<rect x="93" y="666.46" width="22.05" height="15.25" fill="rgb(255, 155, 130)"/>
<rect x="115" y="666.46" width="21.85" height="15.25" fill="rgb(255, 125, 95)"/>
<rect x="146.9" y="666.46" width="21.35" height="15.25" fill="rgb(255, 140, 112)"/>
<rect x="168.2" y="666.46" width="21.85" height="15.25" fill="rgb(255, 135, 105)"/>
<text x="87.6" y="676.45" font-size="6.8" text-anchor="end" fill="#000" >Chenodeoxycholic acid</text>
<line x1="89" y1="674.05" x2="91.5" y2="674.05" stroke="#000" stroke-width="0.9"/>
<line x1="202.1" y1="674.05" x2="204.7" y2="674.05" stroke="#000" stroke-width="0.8"/>
<rect x="93" y="681.63" width="22.05" height="15.25" fill="rgb(255, 232, 222)"/>
<rect x="115" y="681.63" width="21.85" height="15.25" fill="rgb(255, 248, 244)"/>
<circle cx="125.3" cy="690.42" r="1.05" fill="#000"/>
<rect x="146.9" y="681.63" width="21.35" height="15.25" fill="rgb(240, 230, 255)"/>
<rect x="168.2" y="681.63" width="21.85" height="15.25" fill="rgb(255, 228, 218)"/>
<text x="87.6" y="691.62" font-size="6.8" text-anchor="end" fill="#000" >7−Ketodeoxycholic acid</text>
<line x1="89" y1="689.22" x2="91.5" y2="689.22" stroke="#000" stroke-width="0.9"/>
<line x1="202.1" y1="689.22" x2="204.7" y2="689.22" stroke="#000" stroke-width="0.8"/>
<rect x="93" y="696.8" width="22.05" height="15.25" fill="rgb(255, 215, 200)"/>
<rect x="115" y="696.8" width="21.85" height="15.25" fill="rgb(255, 222, 210)"/>
<rect x="146.9" y="696.8" width="21.35" height="15.25" fill="rgb(255, 210, 195)"/>
<rect x="168.2" y="696.8" width="21.85" height="15.25" fill="rgb(255, 195, 175)"/>
<text x="87.6" y="706.78" font-size="6.8" text-anchor="end" fill="#000" >Hyodeoxycholic acid</text>
<line x1="89" y1="704.38" x2="91.5" y2="704.38" stroke="#000" stroke-width="0.9"/>
<line x1="202.1" y1="704.38" x2="204.7" y2="704.38" stroke="#000" stroke-width="0.8"/>
<rect x="93" y="711.97" width="22.05" height="15.25" fill="rgb(150, 110, 250)"/>
<rect x="115" y="711.97" width="21.85" height="15.25" fill="rgb(135, 95, 250)"/>
<rect x="146.9" y="711.97" width="21.35" height="15.25" fill="rgb(155, 115, 250)"/>
<rect x="168.2" y="711.97" width="21.85" height="15.25" fill="rgb(175, 140, 252)"/>
<text x="87.6" y="721.96" font-size="6.8" text-anchor="end" fill="#000" >Glycohyocholic acid</text>
<line x1="89" y1="719.56" x2="91.5" y2="719.56" stroke="#000" stroke-width="0.9"/>
<line x1="202.1" y1="719.56" x2="204.7" y2="719.56" stroke="#000" stroke-width="0.8"/>
<rect x="93" y="727.14" width="22.05" height="15.25" fill="rgb(135, 95, 250)"/>
<rect x="115" y="727.14" width="21.85" height="15.25" fill="rgb(165, 130, 251)"/>
<rect x="146.9" y="727.14" width="21.35" height="15.25" fill="rgb(195, 165, 253)"/>
<rect x="168.2" y="727.14" width="21.85" height="15.25" fill="rgb(200, 172, 254)"/>
<text x="87.6" y="737.12" font-size="6.8" text-anchor="end" fill="#000" >Glycohyodeoxycholic acid</text>
<line x1="89" y1="734.73" x2="91.5" y2="734.73" stroke="#000" stroke-width="0.9"/>
<line x1="202.1" y1="734.73" x2="204.7" y2="734.73" stroke="#000" stroke-width="0.8"/>
<rect x="93" y="742.31" width="22.05" height="15.25" fill="rgb(205, 180, 254)"/>
<rect x="115" y="742.31" width="21.85" height="15.25" fill="rgb(125, 85, 250)"/>
<circle cx="125.3" cy="751.1" r="1.05" fill="#000"/>
<rect x="146.9" y="742.31" width="21.35" height="15.25" fill="rgb(190, 158, 253)"/>
<rect x="168.2" y="742.31" width="21.85" height="15.25" fill="rgb(170, 135, 252)"/>
<text x="87.6" y="752.3" font-size="6.8" text-anchor="end" fill="#000" >Taurolithocholic acid</text>
<line x1="89" y1="749.9" x2="91.5" y2="749.9" stroke="#000" stroke-width="0.9"/>
<line x1="202.1" y1="749.9" x2="204.7" y2="749.9" stroke="#000" stroke-width="0.8"/>
<rect x="93" y="757.48" width="22.05" height="15.25" fill="rgb(255, 210, 195)"/>
<rect x="115" y="757.48" width="21.85" height="15.25" fill="rgb(255, 250, 248)"/>
<rect x="146.9" y="757.48" width="21.35" height="15.25" fill="rgb(240, 232, 255)"/>
<rect x="168.2" y="757.48" width="21.85" height="15.25" fill="rgb(255, 200, 182)"/>
<text x="87.6" y="767.47" font-size="6.8" text-anchor="end" fill="#000" >7−Ketolithocholic acid</text>
<line x1="89" y1="765.07" x2="91.5" y2="765.07" stroke="#000" stroke-width="0.9"/>
<line x1="202.1" y1="765.07" x2="204.7" y2="765.07" stroke="#000" stroke-width="0.8"/>
<line x1="92" y1="543.9" x2="92" y2="773.65" stroke="#000" stroke-width="1.2"/>
<line x1="91.4" y1="773.25" x2="139" y2="773.25" stroke="#000" stroke-width="1.2"/>
<line x1="144.6" y1="773.25" x2="191.9" y2="773.25" stroke="#000" stroke-width="1.2"/>
<line x1="204.7" y1="544" x2="204.7" y2="773.85" stroke="#000" stroke-width="1.2"/>
<line x1="204.1" y1="773.25" x2="271.6" y2="773.25" stroke="#000" stroke-width="1.2"/>
<line x1="237.1" y1="544.5" x2="237.1" y2="772.65" stroke="#ee2a1c" stroke-width="0.8" stroke-dasharray="1 1.2"/>
<circle cx="268.4" cy="552.69" r="1.5" fill="#fff" stroke="#000" stroke-width="0.85"/>
<circle cx="255.8" cy="567.86" r="1.5" fill="#fff" stroke="#000" stroke-width="0.85"/>
<circle cx="252" cy="583.03" r="1.5" fill="#fff" stroke="#000" stroke-width="0.85"/>
<circle cx="250.3" cy="598.2" r="1.5" fill="#fff" stroke="#000" stroke-width="0.85"/>
<circle cx="243.8" cy="613.37" r="1.5" fill="#fff" stroke="#000" stroke-width="0.85"/>
<circle cx="242.1" cy="628.54" r="1.5" fill="#fff" stroke="#000" stroke-width="0.85"/>
<circle cx="240.6" cy="643.71" r="1.5" fill="#fff" stroke="#000" stroke-width="0.85"/>
<circle cx="240.3" cy="658.88" r="1.5" fill="#fff" stroke="#000" stroke-width="0.85"/>
<circle cx="238.9" cy="674.05" r="1.5" fill="#fff" stroke="#000" stroke-width="0.85"/>
<circle cx="225.1" cy="689.22" r="1.5" fill="#fff" stroke="#000" stroke-width="0.85"/>
<circle cx="217.6" cy="704.38" r="1.5" fill="#fff" stroke="#000" stroke-width="0.85"/>
<circle cx="217" cy="719.56" r="1.5" fill="#fff" stroke="#000" stroke-width="0.85"/>
<circle cx="214" cy="734.73" r="1.5" fill="#fff" stroke="#000" stroke-width="0.85"/>
<circle cx="208.8" cy="749.9" r="1.5" fill="#fff" stroke="#000" stroke-width="0.85"/>
<circle cx="207.6" cy="765.07" r="1.5" fill="#fff" stroke="#000" stroke-width="0.85"/>
<line x1="104" y1="773.65" x2="104" y2="775.65" stroke="#000" stroke-width="0.8"/>
<text x="104" y="783.45" font-size="6.7" text-anchor="middle" fill="#000" >0</text>
<line x1="125.9" y1="773.65" x2="125.9" y2="775.65" stroke="#000" stroke-width="0.8"/>
<text x="125.9" y="783.45" font-size="6.7" text-anchor="middle" fill="#000" >12</text>
<line x1="157.55" y1="773.65" x2="157.55" y2="775.65" stroke="#000" stroke-width="0.8"/>
<text x="157.55" y="783.45" font-size="6.7" text-anchor="middle" fill="#000" >0</text>
<line x1="179.1" y1="773.65" x2="179.1" y2="775.65" stroke="#000" stroke-width="0.8"/>
<text x="179.1" y="783.45" font-size="6.7" text-anchor="middle" fill="#000" >12</text>
<text x="143.4" y="792.85" font-size="6.9" text-anchor="middle" fill="#000" >Time (weeks)</text>
<line x1="202.3" y1="773.65" x2="202.3" y2="775.65" stroke="#000" stroke-width="0.8"/>
<text x="202.3" y="783.45" font-size="6.7" text-anchor="middle" fill="#000" >−1.5</text>
<line x1="214.9" y1="773.65" x2="214.9" y2="775.65" stroke="#000" stroke-width="0.8"/>
<text x="214.9" y="783.45" font-size="6.7" text-anchor="middle" fill="#000" >−1.0</text>
<line x1="226.3" y1="773.65" x2="226.3" y2="775.65" stroke="#000" stroke-width="0.8"/>
<text x="226.3" y="783.45" font-size="6.7" text-anchor="middle" fill="#000" >−0.5</text>
<line x1="237.6" y1="773.65" x2="237.6" y2="775.65" stroke="#000" stroke-width="0.8"/>
<text x="237.6" y="783.45" font-size="6.7" text-anchor="middle" fill="#000" >0.0</text>
<line x1="248.3" y1="773.65" x2="248.3" y2="775.65" stroke="#000" stroke-width="0.8"/>
<text x="248.3" y="783.45" font-size="6.7" text-anchor="middle" fill="#000" >0.5</text>
<line x1="259" y1="773.65" x2="259" y2="775.65" stroke="#000" stroke-width="0.8"/>
<text x="259" y="783.45" font-size="6.7" text-anchor="middle" fill="#000" >1.0</text>
<line x1="269.8" y1="773.65" x2="269.8" y2="775.65" stroke="#000" stroke-width="0.8"/>
<text x="269.8" y="783.45" font-size="6.7" text-anchor="middle" fill="#000" >1.5</text>
<text x="240" y="792.85" font-size="6.9" text-anchor="middle" fill="#000" >Log₂FC (L/D)</text>
</g>
<g id="pD">
<rect x="372.4" y="557" width="10.21" height="6.63" fill="#a4a4ff"/>
<rect x="382.61" y="557" width="10.21" height="6.63" fill="#b1b1ff"/>
<rect x="392.82" y="557" width="10.21" height="6.63" fill="#b1b1ff"/>
<rect x="403.03" y="557" width="10.21" height="6.63" fill="#ffcccc"/>
<rect x="413.24" y="557" width="10.21" height="6.63" fill="#e0e0ff"/>
<rect x="423.45" y="557" width="10.21" height="6.63" fill="#ffffff"/>
<rect x="433.66" y="557" width="10.21" height="6.63" fill="#ffe0e0"/>
<rect x="443.87" y="557" width="10.21" height="6.63" fill="#ffe0e0"/>
<rect x="454.08" y="557" width="10.21" height="6.63" fill="#ffcccc"/>
<rect x="464.29" y="557" width="10.21" height="6.63" fill="#eaeaff"/>
<rect x="372.4" y="563.63" width="10.21" height="6.63" fill="#d6d6ff"/>
<rect x="382.61" y="563.63" width="10.21" height="6.63" fill="#ccccff"/>
<rect x="392.82" y="563.63" width="10.21" height="6.63" fill="#ffffff"/>
<rect x="403.03" y="563.63" width="10.21" height="6.63" fill="#e0e0ff"/>
<rect x="413.24" y="563.63" width="10.21" height="6.63" fill="#4e4eff"/>
<rect x="423.45" y="563.63" width="10.21" height="6.63" fill="#d1d1ff"/>
<rect x="433.66" y="563.63" width="10.21" height="6.63" fill="#ff7070"/>
<rect x="443.87" y="563.63" width="10.21" height="6.63" fill="#ff7676"/>
<rect x="454.08" y="563.63" width="10.21" height="6.63" fill="#aaaaff"/>
<rect x="464.29" y="563.63" width="10.21" height="6.63" fill="#b8b8ff"/>
<rect x="372.4" y="570.26" width="10.21" height="6.63" fill="#ffcccc"/>
<rect x="382.61" y="570.26" width="10.21" height="6.63" fill="#ffcccc"/>
<rect x="392.82" y="570.26" width="10.21" height="6.63" fill="#ffd1d1"/>
<rect x="403.03" y="570.26" width="10.21" height="6.63" fill="#ff5959"/>
<rect x="413.24" y="570.26" width="10.21" height="6.63" fill="#ffcccc"/>
<rect x="423.45" y="570.26" width="10.21" height="6.63" fill="#ff7070"/>
<rect x="433.66" y="570.26" width="10.21" height="6.63" fill="#d1d1ff"/>
<rect x="443.87" y="570.26" width="10.21" height="6.63" fill="#d6d6ff"/>
<rect x="454.08" y="570.26" width="10.21" height="6.63" fill="#ffafaf"/>
<rect x="464.29" y="570.26" width="10.21" height="6.63" fill="#ffcccc"/>
<rect x="372.4" y="576.89" width="10.21" height="6.63" fill="#5454ff"/>
<rect x="382.61" y="576.89" width="10.21" height="6.63" fill="#4e4eff"/>
<rect x="392.82" y="576.89" width="10.21" height="6.63" fill="#5454ff"/>
<rect x="403.03" y="576.89" width="10.21" height="6.63" fill="#7575ff"/>
<rect x="413.24" y="576.89" width="10.21" height="6.63" fill="#4a4aff"/>
<rect x="423.45" y="576.89" width="10.21" height="6.63" fill="#7c7cff"/>
<rect x="433.66" y="576.89" width="10.21" height="6.63" fill="#ff5f5f"/>
<rect x="443.87" y="576.89" width="10.21" height="6.63" fill="#ff7676"/>
<rect x="454.08" y="576.89" width="10.21" height="6.63" fill="#3131ff"/>
<rect x="464.29" y="576.89" width="10.21" height="6.63" fill="#4747ff"/>
<rect x="372.4" y="583.52" width="10.21" height="6.63" fill="#7575ff"/>
<rect x="382.61" y="583.52" width="10.21" height="6.63" fill="#7272ff"/>
<rect x="392.82" y="583.52" width="10.21" height="6.63" fill="#7575ff"/>
<rect x="403.03" y="583.52" width="10.21" height="6.63" fill="#7c7cff"/>
<rect x="413.24" y="583.52" width="10.21" height="6.63" fill="#3c3cff"/>
<rect x="423.45" y="583.52" width="10.21" height="6.63" fill="#7c7cff"/>
<rect x="433.66" y="583.52" width="10.21" height="6.63" fill="#ff1a1a"/>
<rect x="443.87" y="583.52" width="10.21" height="6.63" fill="#ff3e3e"/>
<rect x="454.08" y="583.52" width="10.21" height="6.63" fill="#3c3cff"/>
<rect x="464.29" y="583.52" width="10.21" height="6.63" fill="#8989ff"/>
<rect x="372.4" y="590.15" width="10.21" height="6.63" fill="#8383ff"/>
<rect x="382.61" y="590.15" width="10.21" height="6.63" fill="#9d9dff"/>
<rect x="392.82" y="590.15" width="10.21" height="6.63" fill="#9d9dff"/>
<rect x="403.03" y="590.15" width="10.21" height="6.63" fill="#d6d6ff"/>
<rect x="413.24" y="590.15" width="10.21" height="6.63" fill="#ccccff"/>
<rect x="423.45" y="590.15" width="10.21" height="6.63" fill="#e5e5ff"/>
<rect x="433.66" y="590.15" width="10.21" height="6.63" fill="#ffc6c6"/>
<rect x="443.87" y="590.15" width="10.21" height="6.63" fill="#ffafaf"/>
<rect x="454.08" y="590.15" width="10.21" height="6.63" fill="#ffe5e5"/>
<rect x="464.29" y="590.15" width="10.21" height="6.63" fill="#d1d1ff"/>
<rect x="372.4" y="596.78" width="10.21" height="6.63" fill="#ff6464"/>
<rect x="382.61" y="596.78" width="10.21" height="6.63" fill="#ff5f5f"/>
<rect x="392.82" y="596.78" width="10.21" height="6.63" fill="#ff7070"/>
<rect x="403.03" y="596.78" width="10.21" height="6.63" fill="#ff5f5f"/>
<rect x="413.24" y="596.78" width="10.21" height="6.63" fill="#ff4747"/>
<rect x="423.45" y="596.78" width="10.21" height="6.63" fill="#ff5f5f"/>
<rect x="433.66" y="596.78" width="10.21" height="6.63" fill="#3939ff"/>
<rect x="443.87" y="596.78" width="10.21" height="6.63" fill="#5454ff"/>
<rect x="454.08" y="596.78" width="10.21" height="6.63" fill="#ff6464"/>
<rect x="464.29" y="596.78" width="10.21" height="6.63" fill="#ff6464"/>
<rect x="372.4" y="603.41" width="10.21" height="6.63" fill="#9696ff"/>
<rect x="382.61" y="603.41" width="10.21" height="6.63" fill="#a4a4ff"/>
<rect x="392.82" y="603.41" width="10.21" height="6.63" fill="#bebeff"/>
<rect x="403.03" y="603.41" width="10.21" height="6.63" fill="#ffd6d6"/>
<rect x="413.24" y="603.41" width="10.21" height="6.63" fill="#6f6fff"/>
<rect x="423.45" y="603.41" width="10.21" height="6.63" fill="#ffeaea"/>
<rect x="433.66" y="603.41" width="10.21" height="6.63" fill="#ff6464"/>
<rect x="443.87" y="603.41" width="10.21" height="6.63" fill="#ff6464"/>
<rect x="454.08" y="603.41" width="10.21" height="6.63" fill="#ccccff"/>
<rect x="464.29" y="603.41" width="10.21" height="6.63" fill="#d6d6ff"/>
<rect x="372.4" y="610.04" width="10.21" height="6.63" fill="#3131ff"/>
<rect x="382.61" y="610.04" width="10.21" height="6.63" fill="#2e2eff"/>
<rect x="392.82" y="610.04" width="10.21" height="6.63" fill="#4747ff"/>
<rect x="403.03" y="610.04" width="10.21" height="6.63" fill="#6f6fff"/>
<rect x="413.24" y="610.04" width="10.21" height="6.63" fill="#2e2eff"/>
<rect x="423.45" y="610.04" width="10.21" height="6.63" fill="#4a4aff"/>
<rect x="433.66" y="610.04" width="10.21" height="6.63" fill="#ff1111"/>
<rect x="443.87" y="610.04" width="10.21" height="6.63" fill="#ff0000"/>
<rect x="454.08" y="610.04" width="10.21" height="6.63" fill="#3131ff"/>
<rect x="464.29" y="610.04" width="10.21" height="6.63" fill="#7272ff"/>
<rect x="372.4" y="616.67" width="10.21" height="6.63" fill="#9a9aff"/>
<rect x="382.61" y="616.67" width="10.21" height="6.63" fill="#aeaeff"/>
<rect x="392.82" y="616.67" width="10.21" height="6.63" fill="#ccccff"/>
<rect x="403.03" y="616.67" width="10.21" height="6.63" fill="#ffeaea"/>
<rect x="413.24" y="616.67" width="10.21" height="6.63" fill="#7272ff"/>
<rect x="423.45" y="616.67" width="10.21" height="6.63" fill="#ffffff"/>
<rect x="433.66" y="616.67" width="10.21" height="6.63" fill="#ffb5b5"/>
<rect x="443.87" y="616.67" width="10.21" height="6.63" fill="#ffc6c6"/>
<rect x="454.08" y="616.67" width="10.21" height="6.63" fill="#aaaaff"/>
<rect x="464.29" y="616.67" width="10.21" height="6.63" fill="#d6d6ff"/>
<rect x="372.4" y="623.3" width="10.21" height="6.63" fill="#ff7070"/>
<rect x="382.61" y="623.3" width="10.21" height="6.63" fill="#ff7676"/>
<rect x="392.82" y="623.3" width="10.21" height="6.63" fill="#ff5f5f"/>
<rect x="403.03" y="623.3" width="10.21" height="6.63" fill="#ff9393"/>
<rect x="413.24" y="623.3" width="10.21" height="6.63" fill="#ff4747"/>
<rect x="423.45" y="623.3" width="10.21" height="6.63" fill="#ff6a6a"/>
<rect x="433.66" y="623.3" width="10.21" height="6.63" fill="#7272ff"/>
<rect x="443.87" y="623.3" width="10.21" height="6.63" fill="#6f6fff"/>
<rect x="454.08" y="623.3" width="10.21" height="6.63" fill="#ff6a6a"/>
<rect x="464.29" y="623.3" width="10.21" height="6.63" fill="#ff7373"/>
<rect x="372.4" y="629.93" width="10.21" height="6.63" fill="#2727ff"/>
<rect x="382.61" y="629.93" width="10.21" height="6.63" fill="#2727ff"/>
<rect x="392.82" y="629.93" width="10.21" height="6.63" fill="#4040ff"/>
<rect x="403.03" y="629.93" width="10.21" height="6.63" fill="#4747ff"/>
<rect x="413.24" y="629.93" width="10.21" height="6.63" fill="#2727ff"/>
<rect x="423.45" y="629.93" width="10.21" height="6.63" fill="#2e2eff"/>
<rect x="433.66" y="629.93" width="10.21" height="6.63" fill="#ff0000"/>
<rect x="443.87" y="629.93" width="10.21" height="6.63" fill="#ff2c2c"/>
<rect x="454.08" y="629.93" width="10.21" height="6.63" fill="#0a0aff"/>
<rect x="464.29" y="629.93" width="10.21" height="6.63" fill="#3131ff"/>
<rect x="372.4" y="636.56" width="10.21" height="6.63" fill="#ffd1d1"/>
<rect x="382.61" y="636.56" width="10.21" height="6.63" fill="#ffdbdb"/>
<rect x="392.82" y="636.56" width="10.21" height="6.63" fill="#ffd1d1"/>
<rect x="403.03" y="636.56" width="10.21" height="6.63" fill="#ff9f9f"/>
<rect x="413.24" y="636.56" width="10.21" height="6.63" fill="#ffd6d6"/>
<rect x="423.45" y="636.56" width="10.21" height="6.63" fill="#ff7070"/>
<rect x="433.66" y="636.56" width="10.21" height="6.63" fill="#ffffff"/>
<rect x="443.87" y="636.56" width="10.21" height="6.63" fill="#ffffff"/>
<rect x="454.08" y="636.56" width="10.21" height="6.63" fill="#f2f2ff"/>
<rect x="464.29" y="636.56" width="10.21" height="6.63" fill="#d6d6ff"/>
<rect x="372.4" y="643.19" width="10.21" height="6.63" fill="#1515ff"/>
<rect x="382.61" y="643.19" width="10.21" height="6.63" fill="#1515ff"/>
<rect x="392.82" y="643.19" width="10.21" height="6.63" fill="#2727ff"/>
<rect x="403.03" y="643.19" width="10.21" height="6.63" fill="#7272ff"/>
<rect x="413.24" y="643.19" width="10.21" height="6.63" fill="#4e4eff"/>
<rect x="423.45" y="643.19" width="10.21" height="6.63" fill="#6868ff"/>
<rect x="433.66" y="643.19" width="10.21" height="6.63" fill="#ff0808"/>
<rect x="443.87" y="643.19" width="10.21" height="6.63" fill="#ff0d0d"/>
<rect x="454.08" y="643.19" width="10.21" height="6.63" fill="#1515ff"/>
<rect x="464.29" y="643.19" width="10.21" height="6.63" fill="#1818ff"/>
<rect x="372.4" y="649.82" width="10.21" height="6.63" fill="#a4a4ff"/>
<rect x="382.61" y="649.82" width="10.21" height="6.63" fill="#aaaaff"/>
<rect x="392.82" y="649.82" width="10.21" height="6.63" fill="#a4a4ff"/>
<rect x="403.03" y="649.82" width="10.21" height="6.63" fill="#ffefef"/>
<rect x="413.24" y="649.82" width="10.21" height="6.63" fill="#d6d6ff"/>
<rect x="423.45" y="649.82" width="10.21" height="6.63" fill="#7575ff"/>
<rect x="433.66" y="649.82" width="10.21" height="6.63" fill="#ffafaf"/>
<rect x="443.87" y="649.82" width="10.21" height="6.63" fill="#ffc0c0"/>
<rect x="454.08" y="649.82" width="10.21" height="6.63" fill="#ccccff"/>
<rect x="464.29" y="649.82" width="10.21" height="6.63" fill="#ffffff"/>
<rect x="372.4" y="656.45" width="10.21" height="6.63" fill="#2323ff"/>
<rect x="382.61" y="656.45" width="10.21" height="6.63" fill="#2323ff"/>
<rect x="392.82" y="656.45" width="10.21" height="6.63" fill="#2e2eff"/>
<rect x="403.03" y="656.45" width="10.21" height="6.63" fill="#6565ff"/>
<rect x="413.24" y="656.45" width="10.21" height="6.63" fill="#4040ff"/>
<rect x="423.45" y="656.45" width="10.21" height="6.63" fill="#4a4aff"/>
<rect x="433.66" y="656.45" width="10.21" height="6.63" fill="#ff0000"/>
<rect x="443.87" y="656.45" width="10.21" height="6.63" fill="#ff0808"/>
<rect x="454.08" y="656.45" width="10.21" height="6.63" fill="#3939ff"/>
<rect x="464.29" y="656.45" width="10.21" height="6.63" fill="#3939ff"/>
<rect x="372.4" y="663.08" width="10.21" height="6.63" fill="#6868ff"/>
<rect x="382.61" y="663.08" width="10.21" height="6.63" fill="#6f6fff"/>
<rect x="392.82" y="663.08" width="10.21" height="6.63" fill="#7272ff"/>
<rect x="403.03" y="663.08" width="10.21" height="6.63" fill="#9696ff"/>
<rect x="413.24" y="663.08" width="10.21" height="6.63" fill="#3131ff"/>
<rect x="423.45" y="663.08" width="10.21" height="6.63" fill="#9696ff"/>
<rect x="433.66" y="663.08" width="10.21" height="6.63" fill="#ff3a3a"/>
<rect x="443.87" y="663.08" width="10.21" height="6.63" fill="#ff2323"/>
<rect x="454.08" y="663.08" width="10.21" height="6.63" fill="#4e4eff"/>
<rect x="464.29" y="663.08" width="10.21" height="6.63" fill="#5454ff"/>
<rect x="372.4" y="669.71" width="10.21" height="6.63" fill="#ffeaea"/>
<rect x="382.61" y="669.71" width="10.21" height="6.63" fill="#ffe0e0"/>
<rect x="392.82" y="669.71" width="10.21" height="6.63" fill="#ffffff"/>
<rect x="403.03" y="669.71" width="10.21" height="6.63" fill="#ff9f9f"/>
<rect x="413.24" y="669.71" width="10.21" height="6.63" fill="#d6d6ff"/>
<rect x="423.45" y="669.71" width="10.21" height="6.63" fill="#e5e5ff"/>
<rect x="433.66" y="669.71" width="10.21" height="6.63" fill="#ffffff"/>
<rect x="443.87" y="669.71" width="10.21" height="6.63" fill="#ffe0e0"/>
<rect x="454.08" y="669.71" width="10.21" height="6.63" fill="#e5e5ff"/>
<rect x="464.29" y="669.71" width="10.21" height="6.63" fill="#ffeaea"/>
<rect x="372.4" y="676.34" width="10.21" height="6.63" fill="#bebeff"/>
<rect x="382.61" y="676.34" width="10.21" height="6.63" fill="#a4a4ff"/>
<rect x="392.82" y="676.34" width="10.21" height="6.63" fill="#bebeff"/>
<rect x="403.03" y="676.34" width="10.21" height="6.63" fill="#b8b8ff"/>
<rect x="413.24" y="676.34" width="10.21" height="6.63" fill="#8383ff"/>
<rect x="423.45" y="676.34" width="10.21" height="6.63" fill="#c5c5ff"/>
<rect x="433.66" y="676.34" width="10.21" height="6.63" fill="#ff3535"/>
<rect x="443.87" y="676.34" width="10.21" height="6.63" fill="#ff7070"/>
<rect x="454.08" y="676.34" width="10.21" height="6.63" fill="#5454ff"/>
<rect x="464.29" y="676.34" width="10.21" height="6.63" fill="#9d9dff"/>
<rect x="372.4" y="682.97" width="10.21" height="6.63" fill="#c5c5ff"/>
<rect x="382.61" y="682.97" width="10.21" height="6.63" fill="#aeaeff"/>
<rect x="392.82" y="682.97" width="10.21" height="6.63" fill="#aeaeff"/>
<rect x="403.03" y="682.97" width="10.21" height="6.63" fill="#b4b4ff"/>
<rect x="413.24" y="682.97" width="10.21" height="6.63" fill="#ffbbbb"/>
<rect x="423.45" y="682.97" width="10.21" height="6.63" fill="#ffd6d6"/>
<rect x="433.66" y="682.97" width="10.21" height="6.63" fill="#e5e5ff"/>
<rect x="443.87" y="682.97" width="10.21" height="6.63" fill="#f7f7ff"/>
<rect x="454.08" y="682.97" width="10.21" height="6.63" fill="#ffd6d6"/>
<rect x="464.29" y="682.97" width="10.21" height="6.63" fill="#ccccff"/>
<rect x="372.4" y="689.6" width="10.21" height="6.63" fill="#bebeff"/>
<rect x="382.61" y="689.6" width="10.21" height="6.63" fill="#aaaaff"/>
<rect x="392.82" y="689.6" width="10.21" height="6.63" fill="#aeaeff"/>
<rect x="403.03" y="689.6" width="10.21" height="6.63" fill="#aeaeff"/>
<rect x="413.24" y="689.6" width="10.21" height="6.63" fill="#bebeff"/>
<rect x="423.45" y="689.6" width="10.21" height="6.63" fill="#9d9dff"/>
<rect x="433.66" y="689.6" width="10.21" height="6.63" fill="#ffe5e5"/>
<rect x="443.87" y="689.6" width="10.21" height="6.63" fill="#ededff"/>
<rect x="454.08" y="689.6" width="10.21" height="6.63" fill="#bebeff"/>
<rect x="464.29" y="689.6" width="10.21" height="6.63" fill="#a4a4ff"/>
<rect x="372.4" y="696.23" width="10.21" height="6.63" fill="#4747ff"/>
<rect x="382.61" y="696.23" width="10.21" height="6.63" fill="#4a4aff"/>
<rect x="392.82" y="696.23" width="10.21" height="6.63" fill="#4a4aff"/>
<rect x="403.03" y="696.23" width="10.21" height="6.63" fill="#6f6fff"/>
<rect x="413.24" y="696.23" width="10.21" height="6.63" fill="#2727ff"/>
<rect x="423.45" y="696.23" width="10.21" height="6.63" fill="#4e4eff"/>
<rect x="433.66" y="696.23" width="10.21" height="6.63" fill="#ff3131"/>
<rect x="443.87" y="696.23" width="10.21" height="6.63" fill="#ff3535"/>
<rect x="454.08" y="696.23" width="10.21" height="6.63" fill="#3131ff"/>
<rect x="464.29" y="696.23" width="10.21" height="6.63" fill="#8989ff"/>
<rect x="372.4" y="702.86" width="10.21" height="6.63" fill="#ffd6d6"/>
<rect x="382.61" y="702.86" width="10.21" height="6.63" fill="#ffeaea"/>
<rect x="392.82" y="702.86" width="10.21" height="6.63" fill="#ffe0e0"/>
<rect x="403.03" y="702.86" width="10.21" height="6.63" fill="#ffffff"/>
<rect x="413.24" y="702.86" width="10.21" height="6.63" fill="#ffffff"/>
<rect x="423.45" y="702.86" width="10.21" height="6.63" fill="#ffc0c0"/>
<rect x="433.66" y="702.86" width="10.21" height="6.63" fill="#ffd1d1"/>
<rect x="443.87" y="702.86" width="10.21" height="6.63" fill="#ffc0c0"/>
<rect x="454.08" y="702.86" width="10.21" height="6.63" fill="#d1d1ff"/>
<rect x="464.29" y="702.86" width="10.21" height="6.63" fill="#ccccff"/>
<rect x="372.4" y="709.49" width="10.21" height="6.63" fill="#ffafaf"/>
<rect x="382.61" y="709.49" width="10.21" height="6.63" fill="#ffc6c6"/>
<rect x="392.82" y="709.49" width="10.21" height="6.63" fill="#ffe0e0"/>
<rect x="403.03" y="709.49" width="10.21" height="6.63" fill="#ccccff"/>
<rect x="413.24" y="709.49" width="10.21" height="6.63" fill="#ff3a3a"/>
<rect x="423.45" y="709.49" width="10.21" height="6.63" fill="#ffafaf"/>
<rect x="433.66" y="709.49" width="10.21" height="6.63" fill="#7272ff"/>
<rect x="443.87" y="709.49" width="10.21" height="6.63" fill="#4a4aff"/>
<rect x="454.08" y="709.49" width="10.21" height="6.63" fill="#ff8282"/>
<rect x="464.29" y="709.49" width="10.21" height="6.63" fill="#ff9f9f"/>
<rect x="372.4" y="716.12" width="10.21" height="6.63" fill="#ff7070"/>
<rect x="382.61" y="716.12" width="10.21" height="6.63" fill="#ff7373"/>
<rect x="392.82" y="716.12" width="10.21" height="6.63" fill="#ff9393"/>
<rect x="403.03" y="716.12" width="10.21" height="6.63" fill="#ffbbbb"/>
<rect x="413.24" y="716.12" width="10.21" height="6.63" fill="#ff3a3a"/>
<rect x="423.45" y="716.12" width="10.21" height="6.63" fill="#ff7070"/>
<rect x="433.66" y="716.12" width="10.21" height="6.63" fill="#4e4eff"/>
<rect x="443.87" y="716.12" width="10.21" height="6.63" fill="#7272ff"/>
<rect x="454.08" y="716.12" width="10.21" height="6.63" fill="#ff6a6a"/>
<rect x="464.29" y="716.12" width="10.21" height="6.63" fill="#ff9393"/>
<rect x="372.4" y="722.75" width="10.21" height="6.63" fill="#ff9f9f"/>
<rect x="382.61" y="722.75" width="10.21" height="6.63" fill="#ff8b8b"/>
<rect x="392.82" y="722.75" width="10.21" height="6.63" fill="#ffa4a4"/>
<rect x="403.03" y="722.75" width="10.21" height="6.63" fill="#ffcccc"/>
<rect x="413.24" y="722.75" width="10.21" height="6.63" fill="#ccccff"/>
<rect x="423.45" y="722.75" width="10.21" height="6.63" fill="#ffd6d6"/>
<rect x="433.66" y="722.75" width="10.21" height="6.63" fill="#ffffff"/>
<rect x="443.87" y="722.75" width="10.21" height="6.63" fill="#ffeaea"/>
<rect x="454.08" y="722.75" width="10.21" height="6.63" fill="#ffffff"/>
<rect x="464.29" y="722.75" width="10.21" height="6.63" fill="#d6d6ff"/>
<path d="M372.4 557V729.38M382.61 557V729.38M392.82 557V729.38M403.03 557V729.38M413.24 557V729.38M423.45 557V729.38M433.66 557V729.38M443.87 557V729.38M454.08 557V729.38M464.29 557V729.38M474.5 557V729.38M372.4 557H474.5M372.4 563.63H474.5M372.4 570.26H474.5M372.4 576.89H474.5M372.4 583.52H474.5M372.4 590.15H474.5M372.4 596.78H474.5M372.4 603.41H474.5M372.4 610.04H474.5M372.4 616.67H474.5M372.4 623.3H474.5M372.4 629.93H474.5M372.4 636.56H474.5M372.4 643.19H474.5M372.4 649.82H474.5M372.4 656.45H474.5M372.4 663.08H474.5M372.4 669.71H474.5M372.4 676.34H474.5M372.4 682.97H474.5M372.4 689.6H474.5M372.4 696.23H474.5M372.4 702.86H474.5M372.4 709.49H474.5M372.4 716.12H474.5M372.4 722.75H474.5M372.4 729.38H474.5" stroke="#000" stroke-width="0.9" fill="none"/>
<path d="M418.15 564.65L417.25 569.65M419.65 564.65L418.75 569.65M416.75 566.35H420.35M416.45 568.05H420.05" stroke="#000" stroke-width="0.75" fill="none"/>
<circle cx="438.76" cy="566.33" r="0.9" fill="#000"/>
<circle cx="448.98" cy="566.33" r="0.9" fill="#000"/>
<path d="M407.94 571.28L407.03 576.28M409.44 571.28L408.53 576.28M406.53 572.98H410.13M406.24 574.68H409.83" stroke="#000" stroke-width="0.75" fill="none"/>
<circle cx="428.56" cy="572.96" r="0.9" fill="#000"/>
<path d="M377.31 577.91L376.4 582.91M378.81 577.91L377.9 582.91M375.9 579.61H379.5M375.61 581.31H379.2" stroke="#000" stroke-width="0.75" fill="none"/>
<path d="M387.51 577.91L386.61 582.91M389.01 577.91L388.11 582.91M386.11 579.61H389.71M385.81 581.31H389.41" stroke="#000" stroke-width="0.75" fill="none"/>
<path d="M397.73 577.91L396.82 582.91M399.23 577.91L398.32 582.91M396.32 579.61H399.93M396.03 581.31H399.62" stroke="#000" stroke-width="0.75" fill="none"/>
<circle cx="408.13" cy="579.59" r="0.9" fill="#000"/>
<path d="M418.15 577.91L417.25 582.91M419.65 577.91L418.75 582.91M416.75 579.61H420.35M416.45 581.31H420.05" stroke="#000" stroke-width="0.75" fill="none"/>
<circle cx="428.56" cy="579.59" r="0.9" fill="#000"/>
<path d="M438.56 577.91L437.66 582.91M440.06 577.91L439.16 582.91M437.16 579.61H440.76M436.87 581.31H440.46" stroke="#000" stroke-width="0.75" fill="none"/>
<circle cx="448.98" cy="579.59" r="0.9" fill="#000"/>
<path d="M458.99 577.91L458.08 582.91M460.49 577.91L459.58 582.91M457.58 579.61H461.19M457.29 581.31H460.88" stroke="#000" stroke-width="0.75" fill="none"/>
<path d="M469.19 577.91L468.29 582.91M470.69 577.91L469.79 582.91M467.79 579.61H471.39M467.5 581.31H471.09" stroke="#000" stroke-width="0.75" fill="none"/>
<circle cx="377.5" cy="586.22" r="0.9" fill="#000"/>
<circle cx="387.71" cy="586.22" r="0.9" fill="#000"/>
<circle cx="397.93" cy="586.22" r="0.9" fill="#000"/>
<circle cx="408.13" cy="586.22" r="0.9" fill="#000"/>
<path d="M418.15 584.54L417.25 589.54M419.65 584.54L418.75 589.54M416.75 586.24H420.35M416.45 587.94H420.05" stroke="#000" stroke-width="0.75" fill="none"/>
<circle cx="428.56" cy="586.22" r="0.9" fill="#000"/>
<path d="M438.56 584.54L437.66 589.54M440.06 584.54L439.16 589.54M437.16 586.24H440.76M436.87 587.94H440.46" stroke="#000" stroke-width="0.75" fill="none"/>
<path d="M448.78 584.54L447.88 589.54M450.28 584.54L449.38 589.54M447.38 586.24H450.98M447.08 587.94H450.68" stroke="#000" stroke-width="0.75" fill="none"/>
<path d="M458.99 584.54L458.08 589.54M460.49 584.54L459.58 589.54M457.58 586.24H461.19M457.29 587.94H460.88" stroke="#000" stroke-width="0.75" fill="none"/>
<circle cx="377.5" cy="592.85" r="0.9" fill="#000"/>
<circle cx="377.5" cy="599.48" r="0.9" fill="#000"/>
<path d="M387.51 597.8L386.61 602.8M389.01 597.8L388.11 602.8M386.11 599.5H389.71M385.81 601.2H389.41" stroke="#000" stroke-width="0.75" fill="none"/>
<circle cx="397.93" cy="599.48" r="0.9" fill="#000"/>
<path d="M407.94 597.8L407.03 602.8M409.44 597.8L408.53 602.8M406.53 599.5H410.13M406.24 601.2H409.83" stroke="#000" stroke-width="0.75" fill="none"/>
<path d="M418.15 597.8L417.25 602.8M419.65 597.8L418.75 602.8M416.75 599.5H420.35M416.45 601.2H420.05" stroke="#000" stroke-width="0.75" fill="none"/>
<path d="M428.36 597.8L427.45 602.8M429.86 597.8L428.95 602.8M426.95 599.5H430.56M426.66 601.2H430.25" stroke="#000" stroke-width="0.75" fill="none"/>
<path d="M438.56 597.8L437.66 602.8M440.06 597.8L439.16 602.8M437.16 599.5H440.76M436.87 601.2H440.46" stroke="#000" stroke-width="0.75" fill="none"/>
<path d="M448.78 597.8L447.88 602.8M450.28 597.8L449.38 602.8M447.38 599.5H450.98M447.08 601.2H450.68" stroke="#000" stroke-width="0.75" fill="none"/>
<path d="M458.99 597.8L458.08 602.8M460.49 597.8L459.58 602.8M457.58 599.5H461.19M457.29 601.2H460.88" stroke="#000" stroke-width="0.75" fill="none"/>
<circle cx="469.39" cy="599.48" r="0.9" fill="#000"/>
<circle cx="418.35" cy="606.11" r="0.9" fill="#000"/>
<path d="M438.56 604.43L437.66 609.43M440.06 604.43L439.16 609.43M437.16 606.13H440.76M436.87 607.83H440.46" stroke="#000" stroke-width="0.75" fill="none"/>
<path d="M448.78 604.43L447.88 609.43M450.28 604.43L449.38 609.43M447.38 606.13H450.98M447.08 607.83H450.68" stroke="#000" stroke-width="0.75" fill="none"/>
<circle cx="375.36" cy="612.74" r="0.9" fill="#000"/>
<circle cx="377.5" cy="612.74" r="0.9" fill="#000"/>
<circle cx="379.65" cy="612.74" r="0.9" fill="#000"/>
<circle cx="385.56" cy="612.74" r="0.9" fill="#000"/>
<circle cx="387.71" cy="612.74" r="0.9" fill="#000"/>
<circle cx="389.86" cy="612.74" r="0.9" fill="#000"/>
<circle cx="396.85" cy="612.74" r="0.9" fill="#000"/>
<circle cx="399" cy="612.74" r="0.9" fill="#000"/>
<circle cx="408.13" cy="612.74" r="0.9" fill="#000"/>
<circle cx="416.2" cy="612.74" r="0.9" fill="#000"/>
<circle cx="418.35" cy="612.74" r="0.9" fill="#000"/>
<circle cx="420.5" cy="612.74" r="0.9" fill="#000"/>
<circle cx="427.48" cy="612.74" r="0.9" fill="#000"/>
<circle cx="429.63" cy="612.74" r="0.9" fill="#000"/>
<circle cx="436.62" cy="612.74" r="0.9" fill="#000"/>
<circle cx="438.76" cy="612.74" r="0.9" fill="#000"/>
<circle cx="440.91" cy="612.74" r="0.9" fill="#000"/>
<circle cx="446.83" cy="612.74" r="0.9" fill="#000"/>
<circle cx="448.98" cy="612.74" r="0.9" fill="#000"/>
<circle cx="451.12" cy="612.74" r="0.9" fill="#000"/>
<circle cx="457.04" cy="612.74" r="0.9" fill="#000"/>
<circle cx="459.19" cy="612.74" r="0.9" fill="#000"/>
<circle cx="461.33" cy="612.74" r="0.9" fill="#000"/>
<circle cx="469.39" cy="612.74" r="0.9" fill="#000"/>
<circle cx="418.35" cy="619.37" r="0.9" fill="#000"/>
<circle cx="377.5" cy="626" r="0.9" fill="#000"/>
<circle cx="387.71" cy="626" r="0.9" fill="#000"/>
<path d="M397.73 624.32L396.82 629.32M399.23 624.32L398.32 629.32M396.32 626.02H399.93M396.03 627.72H399.62" stroke="#000" stroke-width="0.75" fill="none"/>
<path d="M418.15 624.32L417.25 629.32M419.65 624.32L418.75 629.32M416.75 626.02H420.35M416.45 627.72H420.05" stroke="#000" stroke-width="0.75" fill="none"/>
<circle cx="428.56" cy="626" r="0.9" fill="#000"/>
<circle cx="438.76" cy="626" r="0.9" fill="#000"/>
<circle cx="448.98" cy="626" r="0.9" fill="#000"/>
<circle cx="459.19" cy="626" r="0.9" fill="#000"/>
<circle cx="469.39" cy="626" r="0.9" fill="#000"/>
<path d="M377.31 630.95L376.4 635.95M378.81 630.95L377.9 635.95M375.9 632.65H379.5M375.61 634.35H379.2" stroke="#000" stroke-width="0.75" fill="none"/>
<path d="M387.51 630.95L386.61 635.95M389.01 630.95L388.11 635.95M386.11 632.65H389.71M385.81 634.35H389.41" stroke="#000" stroke-width="0.75" fill="none"/>
<path d="M397.73 630.95L396.82 635.95M399.23 630.95L398.32 635.95M396.32 632.65H399.93M396.03 634.35H399.62" stroke="#000" stroke-width="0.75" fill="none"/>
<path d="M407.94 630.95L407.03 635.95M409.44 630.95L408.53 635.95M406.53 632.65H410.13M406.24 634.35H409.83" stroke="#000" stroke-width="0.75" fill="none"/>
<path d="M418.15 630.95L417.25 635.95M419.65 630.95L418.75 635.95M416.75 632.65H420.35M416.45 634.35H420.05" stroke="#000" stroke-width="0.75" fill="none"/>
<path d="M428.36 630.95L427.45 635.95M429.86 630.95L428.95 635.95M426.95 632.65H430.56M426.66 634.35H430.25" stroke="#000" stroke-width="0.75" fill="none"/>
<path d="M438.56 630.95L437.66 635.95M440.06 630.95L439.16 635.95M437.16 632.65H440.76M436.87 634.35H440.46" stroke="#000" stroke-width="0.75" fill="none"/>
<path d="M448.78 630.95L447.88 635.95M450.28 630.95L449.38 635.95M447.38 632.65H450.98M447.08 634.35H450.68" stroke="#000" stroke-width="0.75" fill="none"/>
<path d="M458.99 630.95L458.08 635.95M460.49 630.95L459.58 635.95M457.58 632.65H461.19M457.29 634.35H460.88" stroke="#000" stroke-width="0.75" fill="none"/>
<path d="M469.19 630.95L468.29 635.95M470.69 630.95L469.79 635.95M467.79 632.65H471.39M467.5 634.35H471.09" stroke="#000" stroke-width="0.75" fill="none"/>
<circle cx="428.56" cy="639.26" r="0.9" fill="#000"/>
<circle cx="375.36" cy="645.89" r="0.9" fill="#000"/>
<circle cx="377.5" cy="645.89" r="0.9" fill="#000"/>
<circle cx="379.65" cy="645.89" r="0.9" fill="#000"/>
<circle cx="385.56" cy="645.89" r="0.9" fill="#000"/>
<circle cx="387.71" cy="645.89" r="0.9" fill="#000"/>
<circle cx="389.86" cy="645.89" r="0.9" fill="#000"/>
<circle cx="395.78" cy="645.89" r="0.9" fill="#000"/>
<circle cx="397.93" cy="645.89" r="0.9" fill="#000"/>
<circle cx="400.07" cy="645.89" r="0.9" fill="#000"/>
<circle cx="408.13" cy="645.89" r="0.9" fill="#000"/>
<circle cx="417.27" cy="645.89" r="0.9" fill="#000"/>
<circle cx="419.42" cy="645.89" r="0.9" fill="#000"/>
<circle cx="428.56" cy="645.89" r="0.9" fill="#000"/>
<circle cx="436.62" cy="645.89" r="0.9" fill="#000"/>
<circle cx="438.76" cy="645.89" r="0.9" fill="#000"/>
<circle cx="440.91" cy="645.89" r="0.9" fill="#000"/>
<circle cx="446.83" cy="645.89" r="0.9" fill="#000"/>
<circle cx="448.98" cy="645.89" r="0.9" fill="#000"/>
<circle cx="451.12" cy="645.89" r="0.9" fill="#000"/>
<circle cx="457.04" cy="645.89" r="0.9" fill="#000"/>
<circle cx="459.19" cy="645.89" r="0.9" fill="#000"/>
<circle cx="461.33" cy="645.89" r="0.9" fill="#000"/>
<circle cx="467.25" cy="645.89" r="0.9" fill="#000"/>
<circle cx="469.39" cy="645.89" r="0.9" fill="#000"/>
<circle cx="471.54" cy="645.89" r="0.9" fill="#000"/>
<circle cx="428.56" cy="652.52" r="0.9" fill="#000"/>
<path d="M377.31 657.47L376.4 662.47M378.81 657.47L377.9 662.47M375.9 659.17H379.5M375.61 660.87H379.2" stroke="#000" stroke-width="0.75" fill="none"/>
<path d="M387.51 657.47L386.61 662.47M389.01 657.47L388.11 662.47M386.11 659.17H389.71M385.81 660.87H389.41" stroke="#000" stroke-width="0.75" fill="none"/>
<path d="M397.73 657.47L396.82 662.47M399.23 657.47L398.32 662.47M396.32 659.17H399.93M396.03 660.87H399.62" stroke="#000" stroke-width="0.75" fill="none"/>
<circle cx="407.06" cy="659.15" r="0.9" fill="#000"/>
<circle cx="409.21" cy="659.15" r="0.9" fill="#000"/>
<path d="M418.15 657.47L417.25 662.47M419.65 657.47L418.75 662.47M416.75 659.17H420.35M416.45 660.87H420.05" stroke="#000" stroke-width="0.75" fill="none"/>
<path d="M428.36 657.47L427.45 662.47M429.86 657.47L428.95 662.47M426.95 659.17H430.56M426.66 660.87H430.25" stroke="#000" stroke-width="0.75" fill="none"/>
<path d="M438.56 657.47L437.66 662.47M440.06 657.47L439.16 662.47M437.16 659.17H440.76M436.87 660.87H440.46" stroke="#000" stroke-width="0.75" fill="none"/>
<path d="M448.78 657.47L447.88 662.47M450.28 657.47L449.38 662.47M447.38 659.17H450.98M447.08 660.87H450.68" stroke="#000" stroke-width="0.75" fill="none"/>
<path d="M458.99 657.47L458.08 662.47M460.49 657.47L459.58 662.47M457.58 659.17H461.19M457.29 660.87H460.88" stroke="#000" stroke-width="0.75" fill="none"/>
<path d="M469.19 657.47L468.29 662.47M470.69 657.47L469.79 662.47M467.79 659.17H471.39M467.5 660.87H471.09" stroke="#000" stroke-width="0.75" fill="none"/>
<circle cx="377.5" cy="665.78" r="0.9" fill="#000"/>
<circle cx="387.71" cy="665.78" r="0.9" fill="#000"/>
<circle cx="397.93" cy="665.78" r="0.9" fill="#000"/>
<path d="M418.15 664.1L417.25 669.1M419.65 664.1L418.75 669.1M416.75 665.8H420.35M416.45 667.5H420.05" stroke="#000" stroke-width="0.75" fill="none"/>
<path d="M438.56 664.1L437.66 669.1M440.06 664.1L439.16 669.1M437.16 665.8H440.76M436.87 667.5H440.46" stroke="#000" stroke-width="0.75" fill="none"/>
<path d="M448.78 664.1L447.88 669.1M450.28 664.1L449.38 669.1M447.38 665.8H450.98M447.08 667.5H450.68" stroke="#000" stroke-width="0.75" fill="none"/>
<path d="M458.99 664.1L458.08 669.1M460.49 664.1L459.58 669.1M457.58 665.8H461.19M457.29 667.5H460.88" stroke="#000" stroke-width="0.75" fill="none"/>
<circle cx="468.32" cy="665.78" r="0.9" fill="#000"/>
<circle cx="470.47" cy="665.78" r="0.9" fill="#000"/>
<circle cx="418.35" cy="679.04" r="0.9" fill="#000"/>
<path d="M438.56 677.36L437.66 682.36M440.06 677.36L439.16 682.36M437.16 679.06H440.76M436.87 680.76H440.46" stroke="#000" stroke-width="0.75" fill="none"/>
<circle cx="448.98" cy="679.04" r="0.9" fill="#000"/>
<path d="M458.99 677.36L458.08 682.36M460.49 677.36L459.58 682.36M457.58 679.06H461.19M457.29 680.76H460.88" stroke="#000" stroke-width="0.75" fill="none"/>
<path d="M377.31 697.25L376.4 702.25M378.81 697.25L377.9 702.25M375.9 698.95H379.5M375.61 700.65H379.2" stroke="#000" stroke-width="0.75" fill="none"/>
<path d="M387.51 697.25L386.61 702.25M389.01 697.25L388.11 702.25M386.11 698.95H389.71M385.81 700.65H389.41" stroke="#000" stroke-width="0.75" fill="none"/>
<path d="M397.73 697.25L396.82 702.25M399.23 697.25L398.32 702.25M396.32 698.95H399.93M396.03 700.65H399.62" stroke="#000" stroke-width="0.75" fill="none"/>
<circle cx="408.13" cy="698.93" r="0.9" fill="#000"/>
<path d="M418.15 697.25L417.25 702.25M419.65 697.25L418.75 702.25M416.75 698.95H420.35M416.45 700.65H420.05" stroke="#000" stroke-width="0.75" fill="none"/>
<path d="M428.36 697.25L427.45 702.25M429.86 697.25L428.95 702.25M426.95 698.95H430.56M426.66 700.65H430.25" stroke="#000" stroke-width="0.75" fill="none"/>
<path d="M438.56 697.25L437.66 702.25M440.06 697.25L439.16 702.25M437.16 698.95H440.76M436.87 700.65H440.46" stroke="#000" stroke-width="0.75" fill="none"/>
<path d="M448.78 697.25L447.88 702.25M450.28 697.25L449.38 702.25M447.38 698.95H450.98M447.08 700.65H450.68" stroke="#000" stroke-width="0.75" fill="none"/>
<path d="M458.99 697.25L458.08 702.25M460.49 697.25L459.58 702.25M457.58 698.95H461.19M457.29 700.65H460.88" stroke="#000" stroke-width="0.75" fill="none"/>
<path d="M418.15 710.51L417.25 715.51M419.65 710.51L418.75 715.51M416.75 712.21H420.35M416.45 713.91H420.05" stroke="#000" stroke-width="0.75" fill="none"/>
<circle cx="438.76" cy="712.19" r="0.9" fill="#000"/>
<path d="M448.78 710.51L447.88 715.51M450.28 710.51L449.38 715.51M447.38 712.21H450.98M447.08 713.91H450.68" stroke="#000" stroke-width="0.75" fill="none"/>
<circle cx="377.5" cy="718.82" r="0.9" fill="#000"/>
<circle cx="387.71" cy="718.82" r="0.9" fill="#000"/>
<path d="M418.15 717.14L417.25 722.14M419.65 717.14L418.75 722.14M416.75 718.84H420.35M416.45 720.54H420.05" stroke="#000" stroke-width="0.75" fill="none"/>
<circle cx="428.56" cy="718.82" r="0.9" fill="#000"/>
<path d="M438.56 717.14L437.66 722.14M440.06 717.14L439.16 722.14M437.16 718.84H440.76M436.87 720.54H440.46" stroke="#000" stroke-width="0.75" fill="none"/>
<circle cx="448.98" cy="718.82" r="0.9" fill="#000"/>
<path d="M458.99 717.14L458.08 722.14M460.49 717.14L459.58 722.14M457.58 718.84H461.19M457.29 720.54H460.88" stroke="#000" stroke-width="0.75" fill="none"/>
<text x="477" y="562.77" font-size="6.9" text-anchor="start" fill="#000" font-style="italic" transform="rotate(0.05 477 562.77)">Eubacterium rectale</text>
<text x="477" y="569.4" font-size="6.9" text-anchor="start" fill="#000" font-style="italic" transform="rotate(0.05 477 569.4)">Akkermansia muciniphila</text>
<text x="477" y="576.03" font-size="6.9" text-anchor="start" fill="#000" font-style="italic" transform="rotate(0.05 477 576.03)">Roseburia intestinalis</text>
<text x="477" y="582.66" font-size="6.9" text-anchor="start" fill="#000" font-style="italic" transform="rotate(0.05 477 582.66)">Eubacteriaceae bacterium</text>
<text x="477" y="589.29" font-size="6.9" text-anchor="start" fill="#000" font-style="italic" transform="rotate(0.05 477 589.29)">Bacteroides cellulosilyticus</text>
<text x="477" y="595.92" font-size="6.9" text-anchor="start" fill="#000" font-style="italic" transform="rotate(0.05 477 595.92)">Blautia wexlerae</text>
<text x="477" y="602.55" font-size="6.9" text-anchor="start" fill="#000" font-style="italic" transform="rotate(0.05 477 602.55)">Clostridium fessum</text>
<text x="477" y="609.18" font-size="6.9" text-anchor="start" fill="#000" font-style="italic" transform="rotate(0.05 477 609.18)">Enterocloster hominis</text>
<text x="477" y="615.81" font-size="6.9" text-anchor="start" fill="#000" font-style="italic" transform="rotate(0.05 477 615.81)">Alistipes senegalensis</text>
<text x="477" y="622.44" font-size="6.9" text-anchor="start" fill="#000" font-style="italic" transform="rotate(0.05 477 622.44)">Faecalibacillus intestinalis</text>
<text x="477" y="629.07" font-size="6.9" text-anchor="start" fill="#000" font-style="italic" transform="rotate(0.05 477 629.07)">Ruminococcus gnavus</text>
<text x="477" y="635.7" font-size="6.9" text-anchor="start" fill="#000" font-style="italic" transform="rotate(0.05 477 635.7)">Oscillibactervalericigenes</text>
<text x="477" y="642.33" font-size="6.9" text-anchor="start" fill="#000" font-style="italic" transform="rotate(0.05 477 642.33)">Clostridium sp.NSJ-42</text>
<text x="477" y="648.96" font-size="6.9" text-anchor="start" fill="#000" font-style="italic" transform="rotate(0.05 477 648.96)">Dysosmobacter welbionis</text>
<text x="477" y="655.59" font-size="6.9" text-anchor="start" fill="#000" font-style="italic" transform="rotate(0.05 477 655.59)">Lachnospiraceae bacterium AM48-27BH</text>
<text x="477" y="662.22" font-size="6.9" text-anchor="start" fill="#000" font-style="italic" transform="rotate(0.05 477 662.22)">Alistipes indistinctus</text>
<text x="477" y="668.85" font-size="6.9" text-anchor="start" fill="#000" font-style="italic" transform="rotate(0.05 477 668.85)">Mediterraneibacter butyricigenes</text>
<text x="477" y="675.48" font-size="6.9" text-anchor="start" fill="#000" font-style="italic" transform="rotate(0.05 477 675.48)">Clostridium sp.AF32-12BH</text>
<text x="477" y="682.11" font-size="6.9" text-anchor="start" fill="#000" font-style="italic" transform="rotate(0.05 477 682.11)">Streptococcus anginosus</text>
<text x="477" y="688.74" font-size="6.9" text-anchor="start" fill="#000" font-style="italic" transform="rotate(0.05 477 688.74)">Enterocloster bolteae</text>
<text x="477" y="695.37" font-size="6.9" text-anchor="start" fill="#000" font-style="italic" transform="rotate(0.05 477 695.37)">Clostridium sp.AF20-17LB</text>
<text x="477" y="702" font-size="6.9" text-anchor="start" fill="#000" font-style="italic" transform="rotate(0.05 477 702)">Barnesiella intestinihominis</text>
<text x="477" y="708.63" font-size="6.9" text-anchor="start" fill="#000" font-style="italic" transform="rotate(0.05 477 708.63)">Roseburia sp.AM23-20</text>
<text x="477" y="715.26" font-size="6.9" text-anchor="start" fill="#000" font-style="italic" transform="rotate(0.05 477 715.26)">Bacteroides fragilis</text>
<text x="477" y="721.89" font-size="6.9" text-anchor="start" fill="#000" font-style="italic" transform="rotate(0.05 477 721.89)">Erysipelatoclostridium ramosum</text>
<text x="477" y="728.52" font-size="6.9" text-anchor="start" fill="#000" font-style="italic" transform="rotate(0.05 477 728.52)">Prevotella stercorea</text>
<text font-size="6.9" transform="translate(374.9,734.6) rotate(45)">7-Ketodeoxycholic acid</text>
<text font-size="6.9" transform="translate(385.11,734.6) rotate(45)">Chenodeoxycholic acid</text>
<text font-size="6.9" transform="translate(395.32,734.6) rotate(45)">Cholic acid</text>
<text font-size="6.9" transform="translate(405.53,734.6) rotate(45)">Glycochenodeoxycholic acid</text>
<text font-size="6.9" transform="translate(415.75,734.6) rotate(45)">Glycohyocholic acid</text>
<text font-size="6.9" transform="translate(425.95,734.6) rotate(45)">Glycohyodeoxycholic acid</text>
<text font-size="6.9" transform="translate(436.16,734.6) rotate(45)">Isoallolithocholic acid</text>
<text font-size="6.9" transform="translate(446.38,734.6) rotate(45)">Isolithocholic acid</text>
<text font-size="6.9" transform="translate(456.58,734.6) rotate(45)">Taurocholic acid</text>
<text font-size="6.9" transform="translate(466.79,734.6) rotate(45)">Taurolithocholic acid</text>
<rect x="609.7" y="560.7" width="6.7" height="99.5" fill="url(#gD)"/>
<text x="623.8" y="569.4" font-size="6.6" text-anchor="start" fill="#000" >0.6</text>
<text x="623.8" y="584.4" font-size="6.6" text-anchor="start" fill="#000" >0.4</text>
<text x="623.8" y="599.4" font-size="6.6" text-anchor="start" fill="#000" >0.2</text>
<text x="623.8" y="614.9" font-size="6.6" text-anchor="start" fill="#000" >0</text>
<text x="619.7" y="630.1" font-size="6.6" text-anchor="start" fill="#000" >−0.2</text>
<text x="619.7" y="645" font-size="6.6" text-anchor="start" fill="#000" >−0.4</text>
<text x="619.7" y="659.8" font-size="6.6" text-anchor="start" fill="#000" >−0.6</text>
</g>
<g id="pE">
<text y="812.4" font-size="6.9"><tspan x="72.8" font-style="italic">P</tspan><tspan x="80.9" dy="0.4" font-style="italic" font-size="5.65" fill="#222">type</tspan><tspan x="93.8" dy="-0.4" font-size="5.8" fill="#222">=</tspan><tspan x="101.2" fill="#000">0.529</tspan></text>
<text y="824.1" font-size="6.9"><tspan x="72.4" font-style="italic">P</tspan><tspan x="80.9" dy="0.4" font-style="italic" font-size="5.65" fill="#222">timing</tspan><tspan x="99" dy="-0.4" font-size="5.8" fill="#222">=</tspan><tspan x="106.4" fill="#000">0.062</tspan></text>
<text y="835.8" font-size="6.9"><tspan x="71.4" font-style="italic">P</tspan><tspan x="79.7" dy="0.4" font-style="italic" font-size="5.65" fill="#222">type*timing</tspan><tspan x="110.5" dy="-0.4" font-size="5.8" fill="#222">=</tspan><tspan x="115.9" fill="#000">0.161</tspan></text>
<path d="M69.9 854.5V884M69.9 907.2V911M64.2 854.5H75.6M64.2 911H75.6M58.2 894H81.6" stroke="#E2470F" stroke-width="1.2" fill="none"/>
<rect x="58.2" y="884" width="23.4" height="23.2" stroke="#E2470F" stroke-width="1.2" fill="none"/>
<circle cx="66.53" cy="854.5" r="1.7" fill="#E2470F" fill-opacity="0.4" stroke="#E2470F" stroke-width="0.9"/>
<circle cx="73.31" cy="872.83" r="1.7" fill="#E2470F" fill-opacity="0.4" stroke="#E2470F" stroke-width="0.9"/>
<circle cx="66.53" cy="876.6" r="1.7" fill="#E2470F" fill-opacity="0.4" stroke="#E2470F" stroke-width="0.9"/>
<circle cx="73.31" cy="884.13" r="1.7" fill="#E2470F" fill-opacity="0.4" stroke="#E2470F" stroke-width="0.9"/>
<circle cx="79.84" cy="883.63" r="1.7" fill="#E2470F" fill-opacity="0.4" stroke="#E2470F" stroke-width="0.9"/>
<circle cx="66.53" cy="890.91" r="1.7" fill="#E2470F" fill-opacity="0.4" stroke="#E2470F" stroke-width="0.9"/>
<circle cx="73.31" cy="894.17" r="1.7" fill="#E2470F" fill-opacity="0.4" stroke="#E2470F" stroke-width="0.9"/>
<circle cx="66.53" cy="897.94" r="1.7" fill="#E2470F" fill-opacity="0.4" stroke="#E2470F" stroke-width="0.9"/>
<circle cx="73.31" cy="897.94" r="1.7" fill="#E2470F" fill-opacity="0.4" stroke="#E2470F" stroke-width="0.9"/>
<circle cx="66.53" cy="904.21" r="1.7" fill="#E2470F" fill-opacity="0.4" stroke="#E2470F" stroke-width="0.9"/>
<circle cx="73.31" cy="905.47" r="1.7" fill="#E2470F" fill-opacity="0.4" stroke="#E2470F" stroke-width="0.9"/>
<circle cx="79.84" cy="909.24" r="1.7" fill="#E2470F" fill-opacity="0.4" stroke="#E2470F" stroke-width="0.9"/>
<circle cx="60.26" cy="910.99" r="1.7" fill="#E2470F" fill-opacity="0.4" stroke="#E2470F" stroke-width="0.9"/>
<circle cx="66.53" cy="910.99" r="1.7" fill="#E2470F" fill-opacity="0.4" stroke="#E2470F" stroke-width="0.9"/>
<circle cx="73.31" cy="910.99" r="1.7" fill="#E2470F" fill-opacity="0.4" stroke="#E2470F" stroke-width="0.9"/>
<text x="68" y="927.9" font-size="6.8" text-anchor="middle" fill="#000" >HP-L</text>
<line x1="69.9" y1="913.9" x2="69.9" y2="918.2" stroke="#000" stroke-width="1.3"/>
<path d="M95.75 864V894.7M95.75 912.5V912.5M90.05 864H101.45M90.05 912.5H101.45M84 910H107.5" stroke="#F8CB4A" stroke-width="1.2" fill="none"/>
<rect x="84" y="894.7" width="23.5" height="17.8" stroke="#F8CB4A" stroke-width="1.2" fill="none"/>
<rect x="93.71" y="862.34" width="3.4" height="3.4" fill="#F8CB4A" fill-opacity="0.45" stroke="#F8CB4A" stroke-width="0.85"/>
<rect x="94.46" y="881.93" width="3.4" height="3.4" fill="#F8CB4A" fill-opacity="0.45" stroke="#F8CB4A" stroke-width="0.85"/>
<rect x="93.71" y="892.47" width="3.4" height="3.4" fill="#F8CB4A" fill-opacity="0.45" stroke="#F8CB4A" stroke-width="0.85"/>
<rect x="94.46" y="903.02" width="3.4" height="3.4" fill="#F8CB4A" fill-opacity="0.45" stroke="#F8CB4A" stroke-width="0.85"/>
<rect x="87.43" y="906.78" width="3.4" height="3.4" fill="#F8CB4A" fill-opacity="0.45" stroke="#F8CB4A" stroke-width="0.85"/>
<rect x="91.19" y="908.29" width="3.4" height="3.4" fill="#F8CB4A" fill-opacity="0.45" stroke="#F8CB4A" stroke-width="0.85"/>
<rect x="83.66" y="909.29" width="3.4" height="3.4" fill="#F8CB4A" fill-opacity="0.45" stroke="#F8CB4A" stroke-width="0.85"/>
<rect x="87.43" y="910.05" width="3.4" height="3.4" fill="#F8CB4A" fill-opacity="0.45" stroke="#F8CB4A" stroke-width="0.85"/>
<rect x="94.46" y="909.29" width="3.4" height="3.4" fill="#F8CB4A" fill-opacity="0.45" stroke="#F8CB4A" stroke-width="0.85"/>
<rect x="98.22" y="910.05" width="3.4" height="3.4" fill="#F8CB4A" fill-opacity="0.45" stroke="#F8CB4A" stroke-width="0.85"/>
<rect x="101.24" y="910.05" width="3.4" height="3.4" fill="#F8CB4A" fill-opacity="0.45" stroke="#F8CB4A" stroke-width="0.85"/>
<rect x="103.75" y="909.29" width="3.4" height="3.4" fill="#F8CB4A" fill-opacity="0.45" stroke="#F8CB4A" stroke-width="0.85"/>
<text x="93.85" y="927.9" font-size="6.8" text-anchor="middle" fill="#000" >HP-D</text>
<line x1="95.75" y1="913.9" x2="95.75" y2="918.2" stroke="#000" stroke-width="1.3"/>
<path d="M121.35 864V880.4M121.35 907V911.7M115.65 864H127.05M115.65 911.7H127.05M109.7 900.4H133" stroke="#1FBFA6" stroke-width="1.2" fill="none"/>
<rect x="109.7" y="880.4" width="23.3" height="26.6" stroke="#1FBFA6" stroke-width="1.2" fill="none"/>
<path d="M125.53 861.94L127.63 865.64H123.43Z" fill="#1FBFA6" fill-opacity="0.4" stroke="#1FBFA6" stroke-width="0.8"/>
<path d="M118 875.75L120.1 879.45H115.9Z" fill="#1FBFA6" fill-opacity="0.4" stroke="#1FBFA6" stroke-width="0.8"/>
<path d="M124.28 875.75L126.38 879.45H122.18Z" fill="#1FBFA6" fill-opacity="0.4" stroke="#1FBFA6" stroke-width="0.8"/>
<path d="M111.72 879.52L113.82 883.22H109.62Z" fill="#1FBFA6" fill-opacity="0.4" stroke="#1FBFA6" stroke-width="0.8"/>
<path d="M124.28 883.28L126.38 886.98H122.18Z" fill="#1FBFA6" fill-opacity="0.4" stroke="#1FBFA6" stroke-width="0.8"/>
<path d="M124.78 894.58L126.88 898.28H122.68Z" fill="#1FBFA6" fill-opacity="0.4" stroke="#1FBFA6" stroke-width="0.8"/>
<path d="M118 896.34L120.1 900.04H115.9Z" fill="#1FBFA6" fill-opacity="0.4" stroke="#1FBFA6" stroke-width="0.8"/>
<path d="M111.72 903.37L113.82 907.07H109.62Z" fill="#1FBFA6" fill-opacity="0.4" stroke="#1FBFA6" stroke-width="0.8"/>
<path d="M124.78 903.37L126.88 907.07H122.68Z" fill="#1FBFA6" fill-opacity="0.4" stroke="#1FBFA6" stroke-width="0.8"/>
<path d="M130.55 904.62L132.65 908.32H128.45Z" fill="#1FBFA6" fill-opacity="0.4" stroke="#1FBFA6" stroke-width="0.8"/>
<path d="M118 908.39L120.1 912.09H115.9Z" fill="#1FBFA6" fill-opacity="0.4" stroke="#1FBFA6" stroke-width="0.8"/>
<path d="M124.78 908.89L126.88 912.59H122.68Z" fill="#1FBFA6" fill-opacity="0.4" stroke="#1FBFA6" stroke-width="0.8"/>
<path d="M111.72 908.89L113.82 912.59H109.62Z" fill="#1FBFA6" fill-opacity="0.4" stroke="#1FBFA6" stroke-width="0.8"/>
<text x="119.45" y="927.9" font-size="6.8" text-anchor="middle" fill="#000" >HM-L</text>
<line x1="121.35" y1="913.9" x2="121.35" y2="918.2" stroke="#000" stroke-width="1.3"/>
<path d="M147.85 862V883.4M147.85 908V911.7M142.15 862H153.55M142.15 911.7H153.55M136 900.4H159.7" stroke="#8D5FCC" stroke-width="1.2" fill="none"/>
<rect x="136" y="883.4" width="23.7" height="24.6" stroke="#8D5FCC" stroke-width="1.2" fill="none"/>
<path d="M143.86 864.13L145.96 860.43H141.76Z" fill="#8D5FCC" fill-opacity="0.4" stroke="#8D5FCC" stroke-width="0.8"/>
<path d="M150.64 869.91L152.74 866.21H148.54Z" fill="#8D5FCC" fill-opacity="0.4" stroke="#8D5FCC" stroke-width="0.8"/>
<path d="M143.86 877.94L145.96 874.24H141.76Z" fill="#8D5FCC" fill-opacity="0.4" stroke="#8D5FCC" stroke-width="0.8"/>
<path d="M150.64 884.97L152.74 881.27H148.54Z" fill="#8D5FCC" fill-opacity="0.4" stroke="#8D5FCC" stroke-width="0.8"/>
<path d="M150.64 895.02L152.74 891.32H148.54Z" fill="#8D5FCC" fill-opacity="0.4" stroke="#8D5FCC" stroke-width="0.8"/>
<path d="M157.42 900.04L159.52 896.34H155.32Z" fill="#8D5FCC" fill-opacity="0.4" stroke="#8D5FCC" stroke-width="0.8"/>
<path d="M143.86 903.05L145.96 899.35H141.76Z" fill="#8D5FCC" fill-opacity="0.4" stroke="#8D5FCC" stroke-width="0.8"/>
<path d="M150.64 902.55L152.74 898.85H148.54Z" fill="#8D5FCC" fill-opacity="0.4" stroke="#8D5FCC" stroke-width="0.8"/>
<path d="M137.58 908.82L139.68 905.12H135.48Z" fill="#8D5FCC" fill-opacity="0.4" stroke="#8D5FCC" stroke-width="0.8"/>
<path d="M143.86 908.82L145.96 905.12H141.76Z" fill="#8D5FCC" fill-opacity="0.4" stroke="#8D5FCC" stroke-width="0.8"/>
<path d="M150.64 909.33L152.74 905.63H148.54Z" fill="#8D5FCC" fill-opacity="0.4" stroke="#8D5FCC" stroke-width="0.8"/>
<path d="M157.42 907.57L159.52 903.87H155.32Z" fill="#8D5FCC" fill-opacity="0.4" stroke="#8D5FCC" stroke-width="0.8"/>
<path d="M137.58 913.09L139.68 909.39H135.48Z" fill="#8D5FCC" fill-opacity="0.4" stroke="#8D5FCC" stroke-width="0.8"/>
<path d="M143.86 913.85L145.96 910.15H141.76Z" fill="#8D5FCC" fill-opacity="0.4" stroke="#8D5FCC" stroke-width="0.8"/>
<path d="M150.64 913.09L152.74 909.39H148.54Z" fill="#8D5FCC" fill-opacity="0.4" stroke="#8D5FCC" stroke-width="0.8"/>
<path d="M157.42 913.85L159.52 910.15H155.32Z" fill="#8D5FCC" fill-opacity="0.4" stroke="#8D5FCC" stroke-width="0.8"/>
<text x="145.95" y="927.9" font-size="6.8" text-anchor="middle" fill="#000" >HM-D</text>
<line x1="147.85" y1="913.9" x2="147.85" y2="918.2" stroke="#000" stroke-width="1.3"/>
<line x1="46.6" y1="845.4" x2="46.6" y2="914.8" stroke="#000" stroke-width="1.8"/>
<line x1="45.7" y1="913.9" x2="172" y2="913.9" stroke="#000" stroke-width="1.8"/>
<line x1="42" y1="846" x2="46.6" y2="846" stroke="#000" stroke-width="1.3"/>
<text x="39.3" y="848.5" font-size="7.0" text-anchor="end" fill="#000" >40</text>
<line x1="42" y1="862.3" x2="46.6" y2="862.3" stroke="#000" stroke-width="1.3"/>
<text x="39.3" y="864.8" font-size="7.0" text-anchor="end" fill="#000" >30</text>
<line x1="42" y1="879" x2="46.6" y2="879" stroke="#000" stroke-width="1.3"/>
<text x="39.3" y="881.5" font-size="7.0" text-anchor="end" fill="#000" >20</text>
<line x1="42" y1="895.7" x2="46.6" y2="895.7" stroke="#000" stroke-width="1.3"/>
<text x="39.3" y="898.2" font-size="7.0" text-anchor="end" fill="#000" >10</text>
<line x1="42" y1="912.5" x2="46.6" y2="912.5" stroke="#000" stroke-width="1.3"/>
<text x="39.3" y="915" font-size="7.0" text-anchor="end" fill="#000" >0</text>
<text font-size="6.8" text-anchor="middle" transform="translate(26.4,877.5) rotate(-90)">secondary BA/primary BA</text>
<text y="811.2" font-size="6.9"><tspan x="236.5" font-style="italic">P</tspan><tspan x="244.6" dy="0.4" font-style="italic" font-size="5.65" fill="#222">type</tspan><tspan x="257.5" dy="-0.4" font-size="5.8" fill="#222">=</tspan><tspan x="264.9" fill="#000">0.507</tspan></text>
<text y="822.6" font-size="6.9"><tspan x="236.1" font-style="italic">P</tspan><tspan x="244.6" dy="0.4" font-style="italic" font-size="5.65" fill="#222">timing</tspan><tspan x="262.7" dy="-0.4" font-size="5.8" fill="#222">=</tspan><tspan x="270.1" fill="#000">0.057</tspan></text>
<text y="834" font-size="6.9"><tspan x="235.1" font-style="italic">P</tspan><tspan x="243.4" dy="0.4" font-style="italic" font-size="5.65" fill="#222">type*timing</tspan><tspan x="274.2" dy="-0.4" font-size="5.8" fill="#222">=</tspan><tspan x="279.6" fill="#000">0.743</tspan></text>
<path d="M232.25 853.5V883.4M232.25 902.5V908M226.55 853.5H237.95M226.55 908H237.95M220.5 894.4H244" stroke="#E2470F" stroke-width="1.2" fill="none"/>
<rect x="220.5" y="883.4" width="23.5" height="19.1" stroke="#E2470F" stroke-width="1.2" fill="none"/>
<circle cx="228.49" cy="853.5" r="1.7" fill="#E2470F" fill-opacity="0.4" stroke="#E2470F" stroke-width="0.9"/>
<circle cx="228.49" cy="860.28" r="1.7" fill="#E2470F" fill-opacity="0.4" stroke="#E2470F" stroke-width="0.9"/>
<circle cx="235.27" cy="860.28" r="1.7" fill="#E2470F" fill-opacity="0.4" stroke="#E2470F" stroke-width="0.9"/>
<circle cx="228.49" cy="882.87" r="1.7" fill="#E2470F" fill-opacity="0.4" stroke="#E2470F" stroke-width="0.9"/>
<circle cx="235.27" cy="882.87" r="1.7" fill="#E2470F" fill-opacity="0.4" stroke="#E2470F" stroke-width="0.9"/>
<circle cx="222.21" cy="891.66" r="1.7" fill="#E2470F" fill-opacity="0.4" stroke="#E2470F" stroke-width="0.9"/>
<circle cx="235.27" cy="893.42" r="1.7" fill="#E2470F" fill-opacity="0.4" stroke="#E2470F" stroke-width="0.9"/>
<circle cx="228.49" cy="897.44" r="1.7" fill="#E2470F" fill-opacity="0.4" stroke="#E2470F" stroke-width="0.9"/>
<circle cx="222.21" cy="897.44" r="1.7" fill="#E2470F" fill-opacity="0.4" stroke="#E2470F" stroke-width="0.9"/>
<circle cx="235.27" cy="897.44" r="1.7" fill="#E2470F" fill-opacity="0.4" stroke="#E2470F" stroke-width="0.9"/>
<circle cx="222.21" cy="904.21" r="1.7" fill="#E2470F" fill-opacity="0.4" stroke="#E2470F" stroke-width="0.9"/>
<circle cx="228.49" cy="904.21" r="1.7" fill="#E2470F" fill-opacity="0.4" stroke="#E2470F" stroke-width="0.9"/>
<circle cx="238.53" cy="904.21" r="1.7" fill="#E2470F" fill-opacity="0.4" stroke="#E2470F" stroke-width="0.9"/>
<circle cx="235.27" cy="906.72" r="1.7" fill="#E2470F" fill-opacity="0.4" stroke="#E2470F" stroke-width="0.9"/>
<circle cx="228.49" cy="908.48" r="1.7" fill="#E2470F" fill-opacity="0.4" stroke="#E2470F" stroke-width="0.9"/>
<text x="231.75" y="927.9" font-size="6.8" text-anchor="middle" fill="#000" >HP-L</text>
<line x1="232.25" y1="913.9" x2="232.25" y2="918.2" stroke="#000" stroke-width="1.3"/>
<path d="M258.25 885.4V896.7M258.25 905.5V906.7M252.55 885.4H263.95M252.55 906.7H263.95M246.6 900.4H269.9" stroke="#F8CB4A" stroke-width="1.2" fill="none"/>
<rect x="246.6" y="896.7" width="23.3" height="8.8" stroke="#F8CB4A" stroke-width="1.2" fill="none"/>
<rect x="254.41" y="884.19" width="3.4" height="3.4" fill="#F8CB4A" fill-opacity="0.45" stroke="#F8CB4A" stroke-width="0.85"/>
<rect x="258.17" y="893.73" width="3.4" height="3.4" fill="#F8CB4A" fill-opacity="0.45" stroke="#F8CB4A" stroke-width="0.85"/>
<rect x="246.88" y="893.73" width="3.4" height="3.4" fill="#F8CB4A" fill-opacity="0.45" stroke="#F8CB4A" stroke-width="0.85"/>
<rect x="250.64" y="896.24" width="3.4" height="3.4" fill="#F8CB4A" fill-opacity="0.45" stroke="#F8CB4A" stroke-width="0.85"/>
<rect x="264.45" y="895.74" width="3.4" height="3.4" fill="#F8CB4A" fill-opacity="0.45" stroke="#F8CB4A" stroke-width="0.85"/>
<rect x="254.41" y="898.75" width="3.4" height="3.4" fill="#F8CB4A" fill-opacity="0.45" stroke="#F8CB4A" stroke-width="0.85"/>
<rect x="248.13" y="900" width="3.4" height="3.4" fill="#F8CB4A" fill-opacity="0.45" stroke="#F8CB4A" stroke-width="0.85"/>
<rect x="260.68" y="900" width="3.4" height="3.4" fill="#F8CB4A" fill-opacity="0.45" stroke="#F8CB4A" stroke-width="0.85"/>
<rect x="255.66" y="901.76" width="3.4" height="3.4" fill="#F8CB4A" fill-opacity="0.45" stroke="#F8CB4A" stroke-width="0.85"/>
<rect x="265.71" y="901.26" width="3.4" height="3.4" fill="#F8CB4A" fill-opacity="0.45" stroke="#F8CB4A" stroke-width="0.85"/>
<rect x="250.64" y="903.77" width="3.4" height="3.4" fill="#F8CB4A" fill-opacity="0.45" stroke="#F8CB4A" stroke-width="0.85"/>
<rect x="258.17" y="903.77" width="3.4" height="3.4" fill="#F8CB4A" fill-opacity="0.45" stroke="#F8CB4A" stroke-width="0.85"/>
<text x="257.75" y="927.9" font-size="6.8" text-anchor="middle" fill="#000" >HP-D</text>
<line x1="258.25" y1="913.9" x2="258.25" y2="918.2" stroke="#000" stroke-width="1.3"/>
<path d="M284.1 849.7V885.9M284.1 904.5V911M278.4 849.7H289.8M278.4 911H289.8M272.4 897H295.8" stroke="#1FBFA6" stroke-width="1.2" fill="none"/>
<rect x="272.4" y="885.9" width="23.4" height="18.6" stroke="#1FBFA6" stroke-width="1.2" fill="none"/>
<path d="M284.23 847.63L286.33 851.33H282.13Z" fill="#1FBFA6" fill-opacity="0.4" stroke="#1FBFA6" stroke-width="0.8"/>
<path d="M283.72 876.25L285.82 879.95H281.62Z" fill="#1FBFA6" fill-opacity="0.4" stroke="#1FBFA6" stroke-width="0.8"/>
<path d="M290 880.27L292.1 883.97H287.9Z" fill="#1FBFA6" fill-opacity="0.4" stroke="#1FBFA6" stroke-width="0.8"/>
<path d="M277.45 887.8L279.55 891.5H275.35Z" fill="#1FBFA6" fill-opacity="0.4" stroke="#1FBFA6" stroke-width="0.8"/>
<path d="M283.72 890.82L285.82 894.52H281.62Z" fill="#1FBFA6" fill-opacity="0.4" stroke="#1FBFA6" stroke-width="0.8"/>
<path d="M290 889.56L292.1 893.26H287.9Z" fill="#1FBFA6" fill-opacity="0.4" stroke="#1FBFA6" stroke-width="0.8"/>
<path d="M277.45 895.84L279.55 899.54H275.35Z" fill="#1FBFA6" fill-opacity="0.4" stroke="#1FBFA6" stroke-width="0.8"/>
<path d="M290 895.84L292.1 899.54H287.9Z" fill="#1FBFA6" fill-opacity="0.4" stroke="#1FBFA6" stroke-width="0.8"/>
<path d="M283.72 899.6L285.82 903.3H281.62Z" fill="#1FBFA6" fill-opacity="0.4" stroke="#1FBFA6" stroke-width="0.8"/>
<path d="M277.45 902.11L279.55 905.81H275.35Z" fill="#1FBFA6" fill-opacity="0.4" stroke="#1FBFA6" stroke-width="0.8"/>
<path d="M290 902.11L292.1 905.81H287.9Z" fill="#1FBFA6" fill-opacity="0.4" stroke="#1FBFA6" stroke-width="0.8"/>
<path d="M283.72 904.62L285.82 908.32H281.62Z" fill="#1FBFA6" fill-opacity="0.4" stroke="#1FBFA6" stroke-width="0.8"/>
<path d="M283.72 908.89L285.82 912.59H281.62Z" fill="#1FBFA6" fill-opacity="0.4" stroke="#1FBFA6" stroke-width="0.8"/>
<text x="283.6" y="927.9" font-size="6.8" text-anchor="middle" fill="#000" >HM-L</text>
<line x1="284.1" y1="913.9" x2="284.1" y2="918.2" stroke="#000" stroke-width="1.3"/>
<path d="M310.1 863.3V887M310.1 906V911.7M304.4 863.3H315.8M304.4 911.7H315.8M298.3 900H321.9" stroke="#8D5FCC" stroke-width="1.2" fill="none"/>
<rect x="298.3" y="887" width="23.6" height="19" stroke="#8D5FCC" stroke-width="1.2" fill="none"/>
<path d="M306.82 865.39L308.92 861.69H304.72Z" fill="#8D5FCC" fill-opacity="0.4" stroke="#8D5FCC" stroke-width="0.8"/>
<path d="M313.35 884.97L315.45 881.27H311.25Z" fill="#8D5FCC" fill-opacity="0.4" stroke="#8D5FCC" stroke-width="0.8"/>
<path d="M306.82 887.48L308.92 883.78H304.72Z" fill="#8D5FCC" fill-opacity="0.4" stroke="#8D5FCC" stroke-width="0.8"/>
<path d="M306.82 892.51L308.92 888.81H304.72Z" fill="#8D5FCC" fill-opacity="0.4" stroke="#8D5FCC" stroke-width="0.8"/>
<path d="M313.35 892.51L315.45 888.81H311.25Z" fill="#8D5FCC" fill-opacity="0.4" stroke="#8D5FCC" stroke-width="0.8"/>
<path d="M306.82 898.78L308.92 895.08H304.72Z" fill="#8D5FCC" fill-opacity="0.4" stroke="#8D5FCC" stroke-width="0.8"/>
<path d="M313.35 898.78L315.45 895.08H311.25Z" fill="#8D5FCC" fill-opacity="0.4" stroke="#8D5FCC" stroke-width="0.8"/>
<path d="M318.87 898.78L320.97 895.08H316.77Z" fill="#8D5FCC" fill-opacity="0.4" stroke="#8D5FCC" stroke-width="0.8"/>
<path d="M301.3 906.31L303.4 902.61H299.2Z" fill="#8D5FCC" fill-opacity="0.4" stroke="#8D5FCC" stroke-width="0.8"/>
<path d="M313.35 906.31L315.45 902.61H311.25Z" fill="#8D5FCC" fill-opacity="0.4" stroke="#8D5FCC" stroke-width="0.8"/>
<path d="M306.82 908.82L308.92 905.12H304.72Z" fill="#8D5FCC" fill-opacity="0.4" stroke="#8D5FCC" stroke-width="0.8"/>
<path d="M318.87 908.82L320.97 905.12H316.77Z" fill="#8D5FCC" fill-opacity="0.4" stroke="#8D5FCC" stroke-width="0.8"/>
<path d="M301.3 910.08L303.4 906.38H299.2Z" fill="#8D5FCC" fill-opacity="0.4" stroke="#8D5FCC" stroke-width="0.8"/>
<path d="M306.82 913.09L308.92 909.39H304.72Z" fill="#8D5FCC" fill-opacity="0.4" stroke="#8D5FCC" stroke-width="0.8"/>
<path d="M313.35 912.59L315.45 908.89H311.25Z" fill="#8D5FCC" fill-opacity="0.4" stroke="#8D5FCC" stroke-width="0.8"/>
<text x="309.6" y="927.9" font-size="6.8" text-anchor="middle" fill="#000" >HM-D</text>
<line x1="310.1" y1="913.9" x2="310.1" y2="918.2" stroke="#000" stroke-width="1.3"/>
<line x1="208.5" y1="845.4" x2="208.5" y2="914.8" stroke="#000" stroke-width="1.8"/>
<line x1="207.6" y1="913.9" x2="332.7" y2="913.9" stroke="#000" stroke-width="1.8"/>
<line x1="203.9" y1="846" x2="208.5" y2="846" stroke="#000" stroke-width="1.3"/>
<text x="199.8" y="848.5" font-size="7.0" text-anchor="end" fill="#000" >2.0</text>
<line x1="203.9" y1="862.8" x2="208.5" y2="862.8" stroke="#000" stroke-width="1.3"/>
<text x="199.8" y="865.3" font-size="7.0" text-anchor="end" fill="#000" >1.5</text>
<line x1="203.9" y1="879.9" x2="208.5" y2="879.9" stroke="#000" stroke-width="1.3"/>
<text x="199.8" y="882.4" font-size="7.0" text-anchor="end" fill="#000" >1.0</text>
<line x1="203.9" y1="897" x2="208.5" y2="897" stroke="#000" stroke-width="1.3"/>
<text x="199.8" y="899.5" font-size="7.0" text-anchor="end" fill="#000" >0.5</text>
<line x1="203.9" y1="913.8" x2="208.5" y2="913.8" stroke="#000" stroke-width="1.3"/>
<text x="199.8" y="916.3" font-size="7.0" text-anchor="end" fill="#000" >0.0</text>
<text font-size="6.8" text-anchor="middle" transform="translate(185.5,881) rotate(-90)">CA/CDCA</text>
<text y="813.1" font-size="6.9"><tspan x="401" font-style="italic">P</tspan><tspan x="409.1" dy="0.4" font-style="italic" font-size="5.65" fill="#222">type</tspan><tspan x="422" dy="-0.4" font-size="5.8" fill="#222">=</tspan><tspan x="429.4" fill="#000">0.640</tspan></text>
<text y="824.8" font-size="6.9"><tspan x="400.6" font-style="italic">P</tspan><tspan x="409.1" dy="0.4" font-style="italic" font-size="5.65" fill="#222">timing</tspan><tspan x="427.2" dy="-0.4" font-size="5.8" fill="#222">=</tspan><tspan x="434.6" fill="#e0452a">0.019</tspan></text>
<text y="836.2" font-size="6.9"><tspan x="399.6" font-style="italic">P</tspan><tspan x="407.9" dy="0.4" font-style="italic" font-size="5.65" fill="#222">type*timing</tspan><tspan x="438.7" dy="-0.4" font-size="5.8" fill="#222">=</tspan><tspan x="444.1" fill="#000">0.237</tspan></text>
<path d="M393.25 850.7V882.1M393.25 909.2V913M387.55 850.7H398.95M387.55 913H398.95M381.7 898.4H404.8" stroke="#E2470F" stroke-width="1.2" fill="none"/>
<rect x="381.7" y="882.1" width="23.1" height="27.1" stroke="#E2470F" stroke-width="1.2" fill="none"/>
<circle cx="389.71" cy="850.74" r="1.7" fill="#E2470F" fill-opacity="0.4" stroke="#E2470F" stroke-width="0.9"/>
<circle cx="396.49" cy="866.05" r="1.7" fill="#E2470F" fill-opacity="0.4" stroke="#E2470F" stroke-width="0.9"/>
<circle cx="389.71" cy="876.6" r="1.7" fill="#E2470F" fill-opacity="0.4" stroke="#E2470F" stroke-width="0.9"/>
<circle cx="396.49" cy="881.62" r="1.7" fill="#E2470F" fill-opacity="0.4" stroke="#E2470F" stroke-width="0.9"/>
<circle cx="389.71" cy="884.88" r="1.7" fill="#E2470F" fill-opacity="0.4" stroke="#E2470F" stroke-width="0.9"/>
<circle cx="396.49" cy="887.89" r="1.7" fill="#E2470F" fill-opacity="0.4" stroke="#E2470F" stroke-width="0.9"/>
<circle cx="389.71" cy="891.66" r="1.7" fill="#E2470F" fill-opacity="0.4" stroke="#E2470F" stroke-width="0.9"/>
<circle cx="396.49" cy="895.43" r="1.7" fill="#E2470F" fill-opacity="0.4" stroke="#E2470F" stroke-width="0.9"/>
<circle cx="389.71" cy="898.44" r="1.7" fill="#E2470F" fill-opacity="0.4" stroke="#E2470F" stroke-width="0.9"/>
<circle cx="383.18" cy="909.24" r="1.7" fill="#E2470F" fill-opacity="0.4" stroke="#E2470F" stroke-width="0.9"/>
<circle cx="389.71" cy="909.99" r="1.7" fill="#E2470F" fill-opacity="0.4" stroke="#E2470F" stroke-width="0.9"/>
<circle cx="396.49" cy="909.99" r="1.7" fill="#E2470F" fill-opacity="0.4" stroke="#E2470F" stroke-width="0.9"/>
<circle cx="403.27" cy="909.24" r="1.7" fill="#E2470F" fill-opacity="0.4" stroke="#E2470F" stroke-width="0.9"/>
<circle cx="383.18" cy="911.75" r="1.7" fill="#E2470F" fill-opacity="0.4" stroke="#E2470F" stroke-width="0.9"/>
<circle cx="392.98" cy="912.5" r="1.7" fill="#E2470F" fill-opacity="0.4" stroke="#E2470F" stroke-width="0.9"/>
<text x="391.65" y="927.9" font-size="6.8" text-anchor="middle" fill="#000" >HP-L</text>
<line x1="393.25" y1="913.9" x2="393.25" y2="918.2" stroke="#000" stroke-width="1.3"/>
<path d="M419.35 871.8V900.4M419.35 913.5V913.5M413.65 871.8H425.05M413.65 913.5H425.05M407.8 911.7H430.9" stroke="#F8CB4A" stroke-width="1.2" fill="none"/>
<rect x="407.8" y="900.4" width="23.1" height="13.1" stroke="#F8CB4A" stroke-width="1.2" fill="none"/>
<rect x="418.64" y="870.13" width="3.4" height="3.4" fill="#F8CB4A" fill-opacity="0.45" stroke="#F8CB4A" stroke-width="0.85"/>
<rect x="415.38" y="872.39" width="3.4" height="3.4" fill="#F8CB4A" fill-opacity="0.45" stroke="#F8CB4A" stroke-width="0.85"/>
<rect x="418.64" y="891.22" width="3.4" height="3.4" fill="#F8CB4A" fill-opacity="0.45" stroke="#F8CB4A" stroke-width="0.85"/>
<rect x="415.38" y="898.25" width="3.4" height="3.4" fill="#F8CB4A" fill-opacity="0.45" stroke="#F8CB4A" stroke-width="0.85"/>
<rect x="418.64" y="903.77" width="3.4" height="3.4" fill="#F8CB4A" fill-opacity="0.45" stroke="#F8CB4A" stroke-width="0.85"/>
<rect x="408.6" y="909.29" width="3.4" height="3.4" fill="#F8CB4A" fill-opacity="0.45" stroke="#F8CB4A" stroke-width="0.85"/>
<rect x="412.36" y="910.05" width="3.4" height="3.4" fill="#F8CB4A" fill-opacity="0.45" stroke="#F8CB4A" stroke-width="0.85"/>
<rect x="415.38" y="910.05" width="3.4" height="3.4" fill="#F8CB4A" fill-opacity="0.45" stroke="#F8CB4A" stroke-width="0.85"/>
<rect x="421.15" y="910.05" width="3.4" height="3.4" fill="#F8CB4A" fill-opacity="0.45" stroke="#F8CB4A" stroke-width="0.85"/>
<rect x="424.92" y="910.8" width="3.4" height="3.4" fill="#F8CB4A" fill-opacity="0.45" stroke="#F8CB4A" stroke-width="0.85"/>
<rect x="427.43" y="910.05" width="3.4" height="3.4" fill="#F8CB4A" fill-opacity="0.45" stroke="#F8CB4A" stroke-width="0.85"/>
<text x="417.75" y="927.9" font-size="6.8" text-anchor="middle" fill="#000" >HP-D</text>
<line x1="419.35" y1="913.9" x2="419.35" y2="918.2" stroke="#000" stroke-width="1.3"/>
<path d="M445.15 856V888.4M445.15 910V913M439.45 856H450.85M439.45 913H450.85M433.6 903H456.7" stroke="#1FBFA6" stroke-width="1.2" fill="none"/>
<rect x="433.6" y="888.4" width="23.1" height="21.6" stroke="#1FBFA6" stroke-width="1.2" fill="none"/>
<path d="M445.45 853.91L447.55 857.61H443.35Z" fill="#1FBFA6" fill-opacity="0.4" stroke="#1FBFA6" stroke-width="0.8"/>
<path d="M445.45 880.02L447.55 883.72H443.35Z" fill="#1FBFA6" fill-opacity="0.4" stroke="#1FBFA6" stroke-width="0.8"/>
<path d="M439.92 882.03L442.02 885.73H437.82Z" fill="#1FBFA6" fill-opacity="0.4" stroke="#1FBFA6" stroke-width="0.8"/>
<path d="M445.45 888.31L447.55 892.01H443.35Z" fill="#1FBFA6" fill-opacity="0.4" stroke="#1FBFA6" stroke-width="0.8"/>
<path d="M450.47 888.31L452.57 892.01H448.37Z" fill="#1FBFA6" fill-opacity="0.4" stroke="#1FBFA6" stroke-width="0.8"/>
<path d="M445.45 895.34L447.55 899.04H443.35Z" fill="#1FBFA6" fill-opacity="0.4" stroke="#1FBFA6" stroke-width="0.8"/>
<path d="M439.92 900.86L442.02 904.56H437.82Z" fill="#1FBFA6" fill-opacity="0.4" stroke="#1FBFA6" stroke-width="0.8"/>
<path d="M445.45 900.86L447.55 904.56H443.35Z" fill="#1FBFA6" fill-opacity="0.4" stroke="#1FBFA6" stroke-width="0.8"/>
<path d="M435.41 907.14L437.51 910.84H433.31Z" fill="#1FBFA6" fill-opacity="0.4" stroke="#1FBFA6" stroke-width="0.8"/>
<path d="M439.92 907.89L442.02 911.59H437.82Z" fill="#1FBFA6" fill-opacity="0.4" stroke="#1FBFA6" stroke-width="0.8"/>
<path d="M450.47 908.39L452.57 912.09H448.37Z" fill="#1FBFA6" fill-opacity="0.4" stroke="#1FBFA6" stroke-width="0.8"/>
<path d="M455.49 907.14L457.59 910.84H453.39Z" fill="#1FBFA6" fill-opacity="0.4" stroke="#1FBFA6" stroke-width="0.8"/>
<path d="M445.45 909.65L447.55 913.35H443.35Z" fill="#1FBFA6" fill-opacity="0.4" stroke="#1FBFA6" stroke-width="0.8"/>
<text x="443.55" y="927.9" font-size="6.8" text-anchor="middle" fill="#000" >HM-L</text>
<line x1="445.15" y1="913.9" x2="445.15" y2="918.2" stroke="#000" stroke-width="1.3"/>
<path d="M471.35 854.8V890.4M471.35 909.2V913M465.65 854.8H477.05M465.65 913H477.05M459.8 906.2H482.9" stroke="#8D5FCC" stroke-width="1.2" fill="none"/>
<rect x="459.8" y="890.4" width="23.1" height="18.8" stroke="#8D5FCC" stroke-width="1.2" fill="none"/>
<path d="M474.82 856.85L476.92 853.15H472.72Z" fill="#8D5FCC" fill-opacity="0.4" stroke="#8D5FCC" stroke-width="0.8"/>
<path d="M468.04 877.44L470.14 873.74H465.94Z" fill="#8D5FCC" fill-opacity="0.4" stroke="#8D5FCC" stroke-width="0.8"/>
<path d="M468.04 881.21L470.14 877.51H465.94Z" fill="#8D5FCC" fill-opacity="0.4" stroke="#8D5FCC" stroke-width="0.8"/>
<path d="M474.82 892L476.92 888.3H472.72Z" fill="#8D5FCC" fill-opacity="0.4" stroke="#8D5FCC" stroke-width="0.8"/>
<path d="M468.04 897.02L470.14 893.32H465.94Z" fill="#8D5FCC" fill-opacity="0.4" stroke="#8D5FCC" stroke-width="0.8"/>
<path d="M468.04 901.29L470.14 897.59H465.94Z" fill="#8D5FCC" fill-opacity="0.4" stroke="#8D5FCC" stroke-width="0.8"/>
<path d="M461.27 907.57L463.37 903.87H459.17Z" fill="#8D5FCC" fill-opacity="0.4" stroke="#8D5FCC" stroke-width="0.8"/>
<path d="M468.04 908.82L470.14 905.12H465.94Z" fill="#8D5FCC" fill-opacity="0.4" stroke="#8D5FCC" stroke-width="0.8"/>
<path d="M481.85 907.57L483.95 903.87H479.75Z" fill="#8D5FCC" fill-opacity="0.4" stroke="#8D5FCC" stroke-width="0.8"/>
<path d="M463.02 913.09L465.12 909.39H460.92Z" fill="#8D5FCC" fill-opacity="0.4" stroke="#8D5FCC" stroke-width="0.8"/>
<path d="M468.04 913.85L470.14 910.15H465.94Z" fill="#8D5FCC" fill-opacity="0.4" stroke="#8D5FCC" stroke-width="0.8"/>
<path d="M474.82 913.09L476.92 909.39H472.72Z" fill="#8D5FCC" fill-opacity="0.4" stroke="#8D5FCC" stroke-width="0.8"/>
<path d="M480.6 913.09L482.7 909.39H478.5Z" fill="#8D5FCC" fill-opacity="0.4" stroke="#8D5FCC" stroke-width="0.8"/>
<text x="469.75" y="927.9" font-size="6.8" text-anchor="middle" fill="#000" >HM-D</text>
<line x1="471.35" y1="913.9" x2="471.35" y2="918.2" stroke="#000" stroke-width="1.3"/>
<line x1="369.6" y1="845.4" x2="369.6" y2="914.8" stroke="#000" stroke-width="1.8"/>
<line x1="368.7" y1="913.9" x2="495.7" y2="913.9" stroke="#000" stroke-width="1.8"/>
<line x1="365" y1="846" x2="369.6" y2="846" stroke="#000" stroke-width="1.3"/>
<text x="362.1" y="848.5" font-size="7.0" text-anchor="end" fill="#000" >60</text>
<line x1="365" y1="868.3" x2="369.6" y2="868.3" stroke="#000" stroke-width="1.3"/>
<text x="362.1" y="870.8" font-size="7.0" text-anchor="end" fill="#000" >40</text>
<line x1="365" y1="890.9" x2="369.6" y2="890.9" stroke="#000" stroke-width="1.3"/>
<text x="362.1" y="893.4" font-size="7.0" text-anchor="end" fill="#000" >20</text>
<line x1="365" y1="913.5" x2="369.6" y2="913.5" stroke="#000" stroke-width="1.3"/>
<text x="362.1" y="916" font-size="7.0" text-anchor="end" fill="#000" >0</text>
<text font-size="6.8" text-anchor="middle" transform="translate(348.5,880.3) rotate(-90)">LCA/CDCA</text>
<text y="812" font-size="6.9"><tspan x="564.9" font-style="italic">P</tspan><tspan x="573" dy="0.4" font-style="italic" font-size="5.65" fill="#222">type</tspan><tspan x="585.9" dy="-0.4" font-size="5.8" fill="#222">=</tspan><tspan x="593.3" fill="#000">0.532</tspan></text>
<text y="823.7" font-size="6.9"><tspan x="564.5" font-style="italic">P</tspan><tspan x="573" dy="0.4" font-style="italic" font-size="5.65" fill="#222">timing</tspan><tspan x="591.1" dy="-0.4" font-size="5.8" fill="#222">=</tspan><tspan x="598.5" fill="#000">0.067</tspan></text>
<text y="835.5" font-size="6.9"><tspan x="563.5" font-style="italic">P</tspan><tspan x="571.8" dy="0.4" font-style="italic" font-size="5.65" fill="#222">type*timing</tspan><tspan x="602.6" dy="-0.4" font-size="5.8" fill="#222">=</tspan><tspan x="608" fill="#000">0.374</tspan></text>
<path d="M564.1 889.9V895.4M564.1 914V914M558.4 889.9H569.8M558.4 914H569.8M552.4 913H575.8" stroke="#E2470F" stroke-width="1.2" fill="none"/>
<rect x="552.4" y="895.4" width="23.4" height="18.6" stroke="#E2470F" stroke-width="1.2" fill="none"/>
<circle cx="559.95" cy="889.9" r="1.7" fill="#E2470F" fill-opacity="0.4" stroke="#E2470F" stroke-width="0.9"/>
<circle cx="566.98" cy="890.91" r="1.7" fill="#E2470F" fill-opacity="0.4" stroke="#E2470F" stroke-width="0.9"/>
<circle cx="562.71" cy="894.92" r="1.7" fill="#E2470F" fill-opacity="0.4" stroke="#E2470F" stroke-width="0.9"/>
<circle cx="566.48" cy="894.17" r="1.7" fill="#E2470F" fill-opacity="0.4" stroke="#E2470F" stroke-width="0.9"/>
<circle cx="563.21" cy="908.48" r="1.7" fill="#E2470F" fill-opacity="0.4" stroke="#E2470F" stroke-width="0.9"/>
<circle cx="565.72" cy="909.24" r="1.7" fill="#E2470F" fill-opacity="0.4" stroke="#E2470F" stroke-width="0.9"/>
<circle cx="554.43" cy="909.24" r="1.7" fill="#E2470F" fill-opacity="0.4" stroke="#E2470F" stroke-width="0.9"/>
<circle cx="555.68" cy="912.5" r="1.7" fill="#E2470F" fill-opacity="0.4" stroke="#E2470F" stroke-width="0.9"/>
<circle cx="559.45" cy="913" r="1.7" fill="#E2470F" fill-opacity="0.4" stroke="#E2470F" stroke-width="0.9"/>
<circle cx="563.21" cy="913" r="1.7" fill="#E2470F" fill-opacity="0.4" stroke="#E2470F" stroke-width="0.9"/>
<circle cx="566.98" cy="913.5" r="1.7" fill="#E2470F" fill-opacity="0.4" stroke="#E2470F" stroke-width="0.9"/>
<circle cx="570.75" cy="913" r="1.7" fill="#E2470F" fill-opacity="0.4" stroke="#E2470F" stroke-width="0.9"/>
<text x="564.9" y="927.9" font-size="6.8" text-anchor="middle" fill="#000" >HP-L</text>
<line x1="564.1" y1="914.2" x2="564.1" y2="918.5" stroke="#000" stroke-width="1.3"/>
<path d="M590.35 881.1V909.7M590.35 914V914M584.65 881.1H596.05M584.65 914H596.05M578.8 913H601.9" stroke="#F8CB4A" stroke-width="1.2" fill="none"/>
<rect x="578.8" y="909.7" width="23.1" height="4.3" stroke="#F8CB4A" stroke-width="1.2" fill="none"/>
<rect x="588.38" y="879.92" width="3.4" height="3.4" fill="#F8CB4A" fill-opacity="0.45" stroke="#F8CB4A" stroke-width="0.85"/>
<rect x="591.64" y="879.42" width="3.4" height="3.4" fill="#F8CB4A" fill-opacity="0.45" stroke="#F8CB4A" stroke-width="0.85"/>
<rect x="588.38" y="897.49" width="3.4" height="3.4" fill="#F8CB4A" fill-opacity="0.45" stroke="#F8CB4A" stroke-width="0.85"/>
<rect x="588.38" y="907.54" width="3.4" height="3.4" fill="#F8CB4A" fill-opacity="0.45" stroke="#F8CB4A" stroke-width="0.85"/>
<rect x="581.6" y="909.29" width="3.4" height="3.4" fill="#F8CB4A" fill-opacity="0.45" stroke="#F8CB4A" stroke-width="0.85"/>
<rect x="584.11" y="910.8" width="3.4" height="3.4" fill="#F8CB4A" fill-opacity="0.45" stroke="#F8CB4A" stroke-width="0.85"/>
<rect x="591.64" y="910.8" width="3.4" height="3.4" fill="#F8CB4A" fill-opacity="0.45" stroke="#F8CB4A" stroke-width="0.85"/>
<rect x="595.41" y="911.3" width="3.4" height="3.4" fill="#F8CB4A" fill-opacity="0.45" stroke="#F8CB4A" stroke-width="0.85"/>
<rect x="597.92" y="910.8" width="3.4" height="3.4" fill="#F8CB4A" fill-opacity="0.45" stroke="#F8CB4A" stroke-width="0.85"/>
<text x="591.15" y="927.9" font-size="6.8" text-anchor="middle" fill="#000" >HP-D</text>
<line x1="590.35" y1="914.2" x2="590.35" y2="918.5" stroke="#000" stroke-width="1.3"/>
<path d="M616.3 877.9V904.5M616.3 913V914M610.6 877.9H622M610.6 914H622M604.6 911H628" stroke="#1FBFA6" stroke-width="1.2" fill="none"/>
<rect x="604.6" y="904.5" width="23.4" height="8.5" stroke="#1FBFA6" stroke-width="1.2" fill="none"/>
<path d="M616.44 875.75L618.54 879.45H614.34Z" fill="#1FBFA6" fill-opacity="0.4" stroke="#1FBFA6" stroke-width="0.8"/>
<path d="M616.44 895.84L618.54 899.54H614.34Z" fill="#1FBFA6" fill-opacity="0.4" stroke="#1FBFA6" stroke-width="0.8"/>
<path d="M613.43 901.36L615.53 905.06H611.33Z" fill="#1FBFA6" fill-opacity="0.4" stroke="#1FBFA6" stroke-width="0.8"/>
<path d="M619.7 901.36L621.8 905.06H617.6Z" fill="#1FBFA6" fill-opacity="0.4" stroke="#1FBFA6" stroke-width="0.8"/>
<path d="M608.41 907.14L610.51 910.84H606.31Z" fill="#1FBFA6" fill-opacity="0.4" stroke="#1FBFA6" stroke-width="0.8"/>
<path d="M613.43 907.89L615.53 911.59H611.33Z" fill="#1FBFA6" fill-opacity="0.4" stroke="#1FBFA6" stroke-width="0.8"/>
<path d="M616.44 908.39L618.54 912.09H614.34Z" fill="#1FBFA6" fill-opacity="0.4" stroke="#1FBFA6" stroke-width="0.8"/>
<path d="M622.21 907.14L624.31 910.84H620.11Z" fill="#1FBFA6" fill-opacity="0.4" stroke="#1FBFA6" stroke-width="0.8"/>
<path d="M625.98 907.89L628.08 911.59H623.88Z" fill="#1FBFA6" fill-opacity="0.4" stroke="#1FBFA6" stroke-width="0.8"/>
<path d="M610.92 910.4L613.02 914.1H608.82Z" fill="#1FBFA6" fill-opacity="0.4" stroke="#1FBFA6" stroke-width="0.8"/>
<path d="M619.7 910.4L621.8 914.1H617.6Z" fill="#1FBFA6" fill-opacity="0.4" stroke="#1FBFA6" stroke-width="0.8"/>
<text x="617.1" y="927.9" font-size="6.8" text-anchor="middle" fill="#000" >HM-L</text>
<line x1="616.3" y1="914.2" x2="616.3" y2="918.5" stroke="#000" stroke-width="1.3"/>
<path d="M642.7 853.5V907M642.7 913.5V914M637 853.5H648.4M637 914H648.4M631 911.7H654.4" stroke="#8D5FCC" stroke-width="1.2" fill="none"/>
<rect x="631" y="907" width="23.4" height="6.5" stroke="#8D5FCC" stroke-width="1.2" fill="none"/>
<path d="M643.55 855.6L645.65 851.9H641.45Z" fill="#8D5FCC" fill-opacity="0.4" stroke="#8D5FCC" stroke-width="0.8"/>
<path d="M641.04 901.29L643.14 897.59H638.94Z" fill="#8D5FCC" fill-opacity="0.4" stroke="#8D5FCC" stroke-width="0.8"/>
<path d="M638.03 907.57L640.13 903.87H635.93Z" fill="#8D5FCC" fill-opacity="0.4" stroke="#8D5FCC" stroke-width="0.8"/>
<path d="M644.81 908.07L646.91 904.37H642.71Z" fill="#8D5FCC" fill-opacity="0.4" stroke="#8D5FCC" stroke-width="0.8"/>
<path d="M641.04 910.58L643.14 906.88H638.94Z" fill="#8D5FCC" fill-opacity="0.4" stroke="#8D5FCC" stroke-width="0.8"/>
<path d="M634.77 912.09L636.87 908.39H632.67Z" fill="#8D5FCC" fill-opacity="0.4" stroke="#8D5FCC" stroke-width="0.8"/>
<path d="M648.58 911.34L650.68 907.64H646.48Z" fill="#8D5FCC" fill-opacity="0.4" stroke="#8D5FCC" stroke-width="0.8"/>
<path d="M638.03 913.85L640.13 910.15H635.93Z" fill="#8D5FCC" fill-opacity="0.4" stroke="#8D5FCC" stroke-width="0.8"/>
<path d="M644.81 914.6L646.91 910.9H642.71Z" fill="#8D5FCC" fill-opacity="0.4" stroke="#8D5FCC" stroke-width="0.8"/>
<path d="M651.09 914.6L653.19 910.9H648.99Z" fill="#8D5FCC" fill-opacity="0.4" stroke="#8D5FCC" stroke-width="0.8"/>
<text x="643.5" y="927.9" font-size="6.8" text-anchor="middle" fill="#000" >HM-D</text>
<line x1="642.7" y1="914.2" x2="642.7" y2="918.5" stroke="#000" stroke-width="1.3"/>
<line x1="541.3" y1="845.4" x2="541.3" y2="915.1" stroke="#000" stroke-width="1.8"/>
<line x1="540.4" y1="914.2" x2="666" y2="914.2" stroke="#000" stroke-width="1.8"/>
<line x1="536.7" y1="846" x2="541.3" y2="846" stroke="#000" stroke-width="1.3"/>
<text x="532.2" y="848.5" font-size="7.0" text-anchor="end" fill="#000" >0.4</text>
<line x1="536.7" y1="862.8" x2="541.3" y2="862.8" stroke="#000" stroke-width="1.3"/>
<text x="532.2" y="865.3" font-size="7.0" text-anchor="end" fill="#000" >0.3</text>
<line x1="536.7" y1="879.9" x2="541.3" y2="879.9" stroke="#000" stroke-width="1.3"/>
<text x="532.2" y="882.4" font-size="7.0" text-anchor="end" fill="#000" >0.2</text>
<line x1="536.7" y1="896.9" x2="541.3" y2="896.9" stroke="#000" stroke-width="1.3"/>
<text x="532.2" y="899.4" font-size="7.0" text-anchor="end" fill="#000" >0.1</text>
<line x1="536.7" y1="914" x2="541.3" y2="914" stroke="#000" stroke-width="1.3"/>
<text x="532.2" y="916.5" font-size="7.0" text-anchor="end" fill="#000" >0.0</text>
<text font-size="6.8" text-anchor="middle" transform="translate(517.1,882.5) rotate(-90)">GLCA/CDCA</text>
</g>
</svg>
</body></html>
